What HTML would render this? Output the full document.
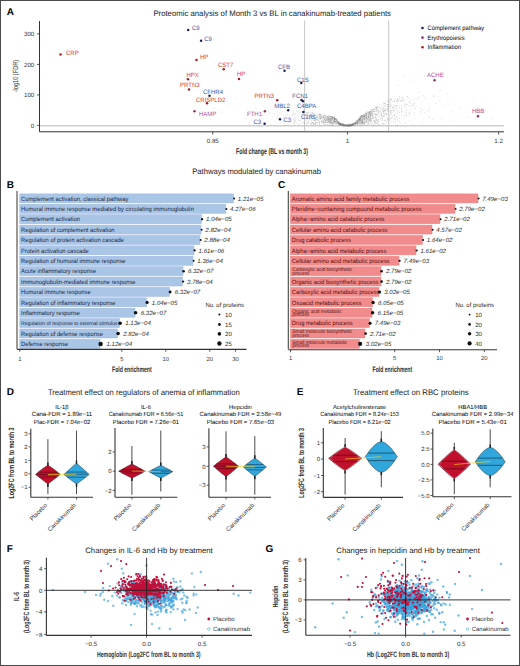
<!DOCTYPE html>
<html><head><meta charset="utf-8"><style>
html,body{margin:0;padding:0;background:#fff;}
svg{display:block;font-family:"Liberation Sans", sans-serif;text-rendering:geometricPrecision;}
</style></head><body>
<svg width="520" height="666" viewBox="0 0 520 666">
<rect x="0" y="0" width="520" height="666" fill="#fff"/>
<text x="6.80" y="15.00" font-size="10" font-weight="bold" fill="#000">A</text>
<text x="153.40" y="15.80" font-size="7.9" fill="#1a1a1a" textLength="237.60" lengthAdjust="spacingAndGlyphs">Proteomic analysis of Month 3 vs BL in canakinumab-treated patients</text>
<line x1="39.50" y1="21.00" x2="39.50" y2="131.80" stroke="#333" stroke-width="1"/>
<line x1="37.00" y1="125.40" x2="39.50" y2="125.40" stroke="#333" stroke-width="0.8"/>
<text x="34.30" y="127.63" font-size="6.2" text-anchor="end" fill="#333">0</text>
<line x1="37.00" y1="94.90" x2="39.50" y2="94.90" stroke="#333" stroke-width="0.8"/>
<text x="34.30" y="97.13" font-size="6.2" text-anchor="end" fill="#333">100</text>
<line x1="37.00" y1="64.40" x2="39.50" y2="64.40" stroke="#333" stroke-width="0.8"/>
<text x="34.30" y="66.63" font-size="6.2" text-anchor="end" fill="#333">200</text>
<line x1="37.00" y1="33.90" x2="39.50" y2="33.90" stroke="#333" stroke-width="0.8"/>
<text x="34.30" y="36.13" font-size="6.2" text-anchor="end" fill="#333">300</text>
<text x="18.00" y="76.10" font-size="7.4" text-anchor="middle" fill="#333" textLength="32.40" lengthAdjust="spacingAndGlyphs" transform="rotate(-90 18.00 76.10)">-log10 (FDR)</text>
<line x1="40.00" y1="125.80" x2="504.00" y2="125.80" stroke="#cfcfcf" stroke-width="1.5"/>
<line x1="304.60" y1="20.50" x2="304.60" y2="131.00" stroke="#c2c2c2" stroke-width="0.9"/>
<line x1="388.70" y1="20.50" x2="388.70" y2="131.00" stroke="#c2c2c2" stroke-width="0.9"/>
<g fill="#808080" fill-opacity="0.5"><circle cx="368.5" cy="114.9" r="0.42"/><circle cx="368.9" cy="117.7" r="0.42"/><circle cx="332.6" cy="124.1" r="0.42"/><circle cx="343.7" cy="125.1" r="0.42"/><circle cx="338.9" cy="123.7" r="0.42"/><circle cx="334.6" cy="116.8" r="0.42"/><circle cx="345.7" cy="125.5" r="0.42"/><circle cx="405.9" cy="105.4" r="0.42"/><circle cx="395.5" cy="98.9" r="0.42"/><circle cx="358.2" cy="120.5" r="0.42"/><circle cx="328.5" cy="115.8" r="0.42"/><circle cx="334.8" cy="120.6" r="0.42"/><circle cx="319.0" cy="114.8" r="0.42"/><circle cx="328.2" cy="118.9" r="0.42"/><circle cx="340.4" cy="124.2" r="0.42"/><circle cx="391.1" cy="110.1" r="0.42"/><circle cx="314.9" cy="120.2" r="0.42"/><circle cx="337.5" cy="122.1" r="0.42"/><circle cx="323.0" cy="124.2" r="0.42"/><circle cx="333.8" cy="119.0" r="0.42"/><circle cx="419.4" cy="115.7" r="0.42"/><circle cx="359.6" cy="122.2" r="0.42"/><circle cx="370.6" cy="119.2" r="0.42"/><circle cx="375.8" cy="120.4" r="0.42"/><circle cx="345.0" cy="125.6" r="0.42"/><circle cx="359.7" cy="119.5" r="0.42"/><circle cx="336.8" cy="123.0" r="0.42"/><circle cx="365.8" cy="115.1" r="0.42"/><circle cx="382.1" cy="115.5" r="0.42"/><circle cx="399.6" cy="121.9" r="0.42"/><circle cx="320.4" cy="114.5" r="0.42"/><circle cx="353.6" cy="123.4" r="0.42"/><circle cx="356.2" cy="122.2" r="0.42"/><circle cx="396.9" cy="108.0" r="0.42"/><circle cx="308.0" cy="123.1" r="0.42"/><circle cx="408.8" cy="113.5" r="0.42"/><circle cx="364.5" cy="119.2" r="0.42"/><circle cx="311.8" cy="122.7" r="0.42"/><circle cx="353.2" cy="124.1" r="0.42"/><circle cx="347.3" cy="125.6" r="0.42"/><circle cx="342.8" cy="125.0" r="0.42"/><circle cx="295.5" cy="120.3" r="0.42"/><circle cx="365.6" cy="114.0" r="0.42"/><circle cx="356.3" cy="123.5" r="0.42"/><circle cx="327.2" cy="118.7" r="0.42"/><circle cx="373.4" cy="117.9" r="0.42"/><circle cx="362.0" cy="123.7" r="0.42"/><circle cx="335.4" cy="121.1" r="0.42"/><circle cx="312.4" cy="112.8" r="0.42"/><circle cx="344.2" cy="125.3" r="0.42"/><circle cx="337.3" cy="121.0" r="0.42"/><circle cx="361.5" cy="118.0" r="0.42"/><circle cx="407.3" cy="104.3" r="0.42"/><circle cx="325.5" cy="116.5" r="0.42"/><circle cx="347.5" cy="125.7" r="0.42"/><circle cx="330.8" cy="120.8" r="0.42"/><circle cx="364.8" cy="116.7" r="0.42"/><circle cx="338.0" cy="122.6" r="0.42"/><circle cx="315.0" cy="117.9" r="0.42"/><circle cx="342.7" cy="124.5" r="0.42"/><circle cx="321.3" cy="122.1" r="0.42"/><circle cx="361.2" cy="120.6" r="0.42"/><circle cx="357.7" cy="120.7" r="0.42"/><circle cx="331.3" cy="122.2" r="0.42"/><circle cx="392.0" cy="112.2" r="0.42"/><circle cx="304.3" cy="122.3" r="0.42"/><circle cx="319.8" cy="116.6" r="0.42"/><circle cx="365.8" cy="122.6" r="0.42"/><circle cx="303.2" cy="116.9" r="0.42"/><circle cx="388.1" cy="110.3" r="0.42"/><circle cx="371.0" cy="114.8" r="0.42"/><circle cx="323.5" cy="122.4" r="0.42"/><circle cx="390.3" cy="113.0" r="0.42"/><circle cx="379.0" cy="121.5" r="0.42"/><circle cx="371.1" cy="120.3" r="0.42"/><circle cx="360.9" cy="118.1" r="0.42"/><circle cx="334.6" cy="125.5" r="0.42"/><circle cx="348.9" cy="125.9" r="0.42"/><circle cx="370.9" cy="119.2" r="0.42"/><circle cx="332.0" cy="124.8" r="0.42"/><circle cx="334.8" cy="121.8" r="0.42"/><circle cx="331.3" cy="124.4" r="0.42"/><circle cx="341.8" cy="125.0" r="0.42"/><circle cx="330.3" cy="121.9" r="0.42"/><circle cx="341.1" cy="124.7" r="0.42"/><circle cx="362.3" cy="120.7" r="0.42"/><circle cx="332.2" cy="117.9" r="0.42"/><circle cx="390.8" cy="102.2" r="0.42"/><circle cx="332.3" cy="119.2" r="0.42"/><circle cx="364.0" cy="116.8" r="0.42"/><circle cx="338.7" cy="121.6" r="0.42"/><circle cx="340.5" cy="123.4" r="0.42"/><circle cx="371.0" cy="115.5" r="0.42"/><circle cx="404.9" cy="107.6" r="0.42"/><circle cx="362.6" cy="121.2" r="0.42"/><circle cx="378.5" cy="111.6" r="0.42"/><circle cx="345.8" cy="125.3" r="0.42"/><circle cx="332.9" cy="117.1" r="0.42"/><circle cx="364.6" cy="119.2" r="0.42"/><circle cx="321.6" cy="120.7" r="0.42"/><circle cx="385.4" cy="124.9" r="0.42"/><circle cx="359.9" cy="117.7" r="0.42"/><circle cx="410.5" cy="99.8" r="0.42"/><circle cx="346.9" cy="125.6" r="0.42"/><circle cx="399.8" cy="118.7" r="0.42"/><circle cx="360.1" cy="120.7" r="0.42"/><circle cx="323.1" cy="115.4" r="0.42"/><circle cx="343.7" cy="125.0" r="0.42"/><circle cx="379.8" cy="110.9" r="0.42"/><circle cx="350.9" cy="124.4" r="0.42"/><circle cx="287.5" cy="114.8" r="0.42"/><circle cx="349.4" cy="126.2" r="0.42"/><circle cx="335.4" cy="119.0" r="0.42"/><circle cx="314.1" cy="120.7" r="0.42"/><circle cx="370.1" cy="116.8" r="0.42"/><circle cx="388.0" cy="104.3" r="0.42"/><circle cx="341.6" cy="124.7" r="0.42"/><circle cx="374.9" cy="111.3" r="0.42"/><circle cx="330.8" cy="119.2" r="0.42"/><circle cx="317.7" cy="119.2" r="0.42"/><circle cx="351.6" cy="126.2" r="0.42"/><circle cx="395.7" cy="119.1" r="0.42"/><circle cx="352.3" cy="124.7" r="0.42"/><circle cx="320.6" cy="118.3" r="0.42"/><circle cx="336.7" cy="120.1" r="0.42"/><circle cx="372.6" cy="110.7" r="0.42"/><circle cx="343.7" cy="125.3" r="0.42"/><circle cx="367.6" cy="119.7" r="0.42"/><circle cx="299.7" cy="125.1" r="0.42"/><circle cx="302.0" cy="123.3" r="0.42"/><circle cx="387.1" cy="125.8" r="0.42"/><circle cx="368.9" cy="114.0" r="0.42"/><circle cx="306.3" cy="118.9" r="0.42"/><circle cx="358.7" cy="119.4" r="0.42"/><circle cx="396.6" cy="105.8" r="0.42"/><circle cx="343.4" cy="124.8" r="0.42"/><circle cx="320.2" cy="118.4" r="0.42"/><circle cx="356.3" cy="120.5" r="0.42"/><circle cx="373.4" cy="124.3" r="0.42"/><circle cx="331.8" cy="122.8" r="0.42"/><circle cx="331.9" cy="119.2" r="0.42"/><circle cx="346.2" cy="126.1" r="0.42"/><circle cx="370.7" cy="118.4" r="0.42"/><circle cx="364.2" cy="120.0" r="0.42"/><circle cx="319.6" cy="116.3" r="0.42"/><circle cx="360.5" cy="118.0" r="0.42"/><circle cx="364.1" cy="114.4" r="0.42"/><circle cx="325.0" cy="115.3" r="0.42"/><circle cx="347.2" cy="125.3" r="0.42"/><circle cx="350.4" cy="124.3" r="0.42"/><circle cx="359.3" cy="119.5" r="0.42"/><circle cx="361.0" cy="116.4" r="0.42"/><circle cx="334.6" cy="120.2" r="0.42"/><circle cx="349.9" cy="125.8" r="0.42"/><circle cx="352.4" cy="124.0" r="0.42"/><circle cx="392.5" cy="105.1" r="0.42"/><circle cx="366.6" cy="120.0" r="0.42"/><circle cx="347.0" cy="125.6" r="0.42"/><circle cx="340.7" cy="123.7" r="0.42"/><circle cx="383.8" cy="115.4" r="0.42"/><circle cx="316.2" cy="123.0" r="0.42"/><circle cx="354.8" cy="124.7" r="0.42"/><circle cx="390.5" cy="110.6" r="0.42"/><circle cx="313.6" cy="123.4" r="0.42"/><circle cx="345.2" cy="125.1" r="0.42"/><circle cx="327.3" cy="119.3" r="0.42"/><circle cx="371.5" cy="111.0" r="0.42"/><circle cx="379.8" cy="107.7" r="0.42"/><circle cx="325.0" cy="122.0" r="0.42"/><circle cx="312.0" cy="122.0" r="0.42"/><circle cx="324.6" cy="125.2" r="0.42"/><circle cx="330.6" cy="118.4" r="0.42"/><circle cx="376.6" cy="109.4" r="0.42"/><circle cx="366.9" cy="114.7" r="0.42"/><circle cx="383.3" cy="113.4" r="0.42"/><circle cx="329.8" cy="122.4" r="0.42"/><circle cx="361.7" cy="121.0" r="0.42"/><circle cx="359.5" cy="120.5" r="0.42"/><circle cx="385.6" cy="109.4" r="0.42"/><circle cx="371.0" cy="111.9" r="0.42"/><circle cx="313.3" cy="114.3" r="0.42"/><circle cx="337.2" cy="119.6" r="0.42"/><circle cx="300.4" cy="120.9" r="0.42"/><circle cx="330.4" cy="119.3" r="0.42"/><circle cx="361.0" cy="119.0" r="0.42"/><circle cx="370.2" cy="114.6" r="0.42"/><circle cx="369.0" cy="112.0" r="0.42"/><circle cx="336.0" cy="120.7" r="0.42"/><circle cx="360.7" cy="122.3" r="0.42"/><circle cx="327.9" cy="120.1" r="0.42"/><circle cx="370.1" cy="117.0" r="0.42"/><circle cx="345.6" cy="125.8" r="0.42"/><circle cx="321.2" cy="122.6" r="0.42"/><circle cx="377.3" cy="116.0" r="0.42"/><circle cx="369.6" cy="120.2" r="0.42"/><circle cx="346.2" cy="125.8" r="0.42"/><circle cx="320.1" cy="116.9" r="0.42"/><circle cx="369.7" cy="113.0" r="0.42"/><circle cx="319.6" cy="122.3" r="0.42"/><circle cx="344.5" cy="125.5" r="0.42"/><circle cx="375.5" cy="117.4" r="0.42"/><circle cx="368.4" cy="117.3" r="0.42"/><circle cx="319.3" cy="121.9" r="0.42"/><circle cx="395.1" cy="114.6" r="0.42"/><circle cx="371.0" cy="115.0" r="0.42"/><circle cx="366.1" cy="114.7" r="0.42"/><circle cx="340.2" cy="124.4" r="0.42"/><circle cx="286.8" cy="119.2" r="0.42"/><circle cx="383.2" cy="111.5" r="0.42"/><circle cx="369.4" cy="114.9" r="0.42"/><circle cx="345.5" cy="125.2" r="0.42"/><circle cx="375.6" cy="109.6" r="0.42"/><circle cx="405.0" cy="106.1" r="0.42"/><circle cx="384.9" cy="110.8" r="0.42"/><circle cx="330.7" cy="119.0" r="0.42"/><circle cx="320.3" cy="117.9" r="0.42"/><circle cx="359.9" cy="123.1" r="0.42"/><circle cx="306.1" cy="114.8" r="0.42"/><circle cx="301.6" cy="111.1" r="0.42"/><circle cx="361.6" cy="115.6" r="0.42"/><circle cx="399.6" cy="112.2" r="0.42"/><circle cx="353.7" cy="124.1" r="0.42"/><circle cx="397.5" cy="120.3" r="0.42"/><circle cx="371.7" cy="112.7" r="0.42"/><circle cx="342.3" cy="125.6" r="0.42"/><circle cx="368.7" cy="121.5" r="0.42"/><circle cx="357.5" cy="121.6" r="0.42"/><circle cx="284.2" cy="123.5" r="0.42"/><circle cx="393.3" cy="107.5" r="0.42"/><circle cx="357.5" cy="120.8" r="0.42"/><circle cx="313.6" cy="113.5" r="0.42"/><circle cx="294.7" cy="121.5" r="0.42"/><circle cx="368.3" cy="117.7" r="0.42"/><circle cx="305.7" cy="115.3" r="0.42"/><circle cx="330.1" cy="120.6" r="0.42"/><circle cx="355.2" cy="122.6" r="0.42"/><circle cx="352.0" cy="125.5" r="0.42"/><circle cx="402.2" cy="99.7" r="0.42"/><circle cx="334.5" cy="121.9" r="0.42"/><circle cx="370.9" cy="119.0" r="0.42"/><circle cx="297.6" cy="120.8" r="0.42"/><circle cx="336.6" cy="119.7" r="0.42"/><circle cx="336.0" cy="119.6" r="0.42"/><circle cx="356.0" cy="123.3" r="0.42"/><circle cx="359.6" cy="118.1" r="0.42"/><circle cx="390.3" cy="98.5" r="0.42"/><circle cx="313.7" cy="123.9" r="0.42"/><circle cx="344.3" cy="124.2" r="0.42"/><circle cx="371.3" cy="116.3" r="0.42"/><circle cx="374.7" cy="109.4" r="0.42"/><circle cx="333.3" cy="123.4" r="0.42"/><circle cx="403.0" cy="101.5" r="0.42"/><circle cx="322.0" cy="115.3" r="0.42"/><circle cx="363.8" cy="119.2" r="0.42"/><circle cx="404.6" cy="106.5" r="0.42"/><circle cx="313.1" cy="116.1" r="0.42"/><circle cx="347.4" cy="126.2" r="0.42"/><circle cx="371.2" cy="114.4" r="0.42"/><circle cx="397.4" cy="100.0" r="0.42"/><circle cx="377.6" cy="122.1" r="0.42"/><circle cx="336.5" cy="120.2" r="0.42"/><circle cx="371.1" cy="113.8" r="0.42"/><circle cx="370.4" cy="117.1" r="0.42"/><circle cx="315.2" cy="123.7" r="0.42"/><circle cx="360.7" cy="117.4" r="0.42"/><circle cx="369.0" cy="117.7" r="0.42"/><circle cx="366.3" cy="115.3" r="0.42"/><circle cx="333.5" cy="122.3" r="0.42"/><circle cx="381.9" cy="112.9" r="0.42"/><circle cx="332.9" cy="123.7" r="0.42"/><circle cx="393.6" cy="117.6" r="0.42"/><circle cx="382.3" cy="122.6" r="0.42"/><circle cx="365.2" cy="114.2" r="0.42"/><circle cx="324.4" cy="119.2" r="0.42"/><circle cx="341.3" cy="123.9" r="0.42"/><circle cx="332.6" cy="118.5" r="0.42"/><circle cx="334.1" cy="117.8" r="0.42"/><circle cx="383.0" cy="124.4" r="0.42"/><circle cx="339.3" cy="124.5" r="0.42"/><circle cx="340.9" cy="124.1" r="0.42"/><circle cx="376.4" cy="119.1" r="0.42"/><circle cx="367.3" cy="118.6" r="0.42"/><circle cx="364.3" cy="115.5" r="0.42"/><circle cx="350.1" cy="124.9" r="0.42"/><circle cx="357.9" cy="122.2" r="0.42"/><circle cx="335.3" cy="119.3" r="0.42"/><circle cx="414.8" cy="103.4" r="0.42"/><circle cx="281.7" cy="119.9" r="0.42"/><circle cx="375.1" cy="117.6" r="0.42"/><circle cx="307.7" cy="123.7" r="0.42"/><circle cx="336.7" cy="119.6" r="0.42"/><circle cx="355.3" cy="125.1" r="0.42"/><circle cx="390.0" cy="108.4" r="0.42"/><circle cx="332.9" cy="120.6" r="0.42"/><circle cx="354.8" cy="122.7" r="0.42"/><circle cx="424.3" cy="112.6" r="0.42"/><circle cx="394.2" cy="105.9" r="0.42"/><circle cx="330.4" cy="120.6" r="0.42"/><circle cx="351.5" cy="124.3" r="0.42"/><circle cx="308.6" cy="116.8" r="0.42"/><circle cx="383.4" cy="116.0" r="0.42"/><circle cx="306.6" cy="121.6" r="0.42"/><circle cx="321.9" cy="121.1" r="0.42"/><circle cx="331.2" cy="119.4" r="0.42"/><circle cx="348.5" cy="125.7" r="0.42"/><circle cx="363.8" cy="120.3" r="0.42"/><circle cx="381.0" cy="108.9" r="0.42"/><circle cx="374.9" cy="111.6" r="0.42"/><circle cx="362.2" cy="119.2" r="0.42"/><circle cx="327.9" cy="117.4" r="0.42"/><circle cx="319.4" cy="114.2" r="0.42"/><circle cx="347.2" cy="125.3" r="0.42"/><circle cx="326.1" cy="119.1" r="0.42"/><circle cx="360.5" cy="121.0" r="0.42"/><circle cx="363.2" cy="122.3" r="0.42"/><circle cx="334.2" cy="118.6" r="0.42"/><circle cx="354.7" cy="122.9" r="0.42"/><circle cx="368.7" cy="112.6" r="0.42"/><circle cx="331.5" cy="116.6" r="0.42"/><circle cx="329.7" cy="121.6" r="0.42"/><circle cx="319.1" cy="118.8" r="0.42"/><circle cx="363.0" cy="122.8" r="0.42"/><circle cx="358.6" cy="119.1" r="0.42"/><circle cx="377.4" cy="109.9" r="0.42"/><circle cx="335.0" cy="119.4" r="0.42"/><circle cx="374.4" cy="120.8" r="0.42"/><circle cx="336.6" cy="120.1" r="0.42"/><circle cx="334.3" cy="118.1" r="0.42"/><circle cx="373.9" cy="109.4" r="0.42"/><circle cx="351.5" cy="125.8" r="0.42"/><circle cx="349.3" cy="125.3" r="0.42"/><circle cx="333.3" cy="120.9" r="0.42"/><circle cx="357.9" cy="124.8" r="0.42"/><circle cx="329.6" cy="118.4" r="0.42"/><circle cx="363.1" cy="115.7" r="0.42"/><circle cx="359.5" cy="120.4" r="0.42"/><circle cx="400.2" cy="101.2" r="0.42"/><circle cx="373.8" cy="109.2" r="0.42"/><circle cx="382.4" cy="118.5" r="0.42"/><circle cx="322.8" cy="121.3" r="0.42"/><circle cx="343.4" cy="124.1" r="0.42"/><circle cx="359.7" cy="118.9" r="0.42"/><circle cx="332.8" cy="118.1" r="0.42"/><circle cx="399.8" cy="108.6" r="0.42"/><circle cx="375.2" cy="114.5" r="0.42"/><circle cx="338.4" cy="122.4" r="0.42"/><circle cx="335.8" cy="124.4" r="0.42"/><circle cx="347.3" cy="125.1" r="0.42"/><circle cx="342.8" cy="125.2" r="0.42"/><circle cx="306.4" cy="124.7" r="0.42"/><circle cx="330.1" cy="119.2" r="0.42"/><circle cx="334.7" cy="119.9" r="0.42"/><circle cx="372.0" cy="112.3" r="0.42"/><circle cx="339.2" cy="123.1" r="0.42"/><circle cx="311.8" cy="112.2" r="0.42"/><circle cx="387.7" cy="119.8" r="0.42"/><circle cx="324.3" cy="115.1" r="0.42"/><circle cx="361.2" cy="116.1" r="0.42"/><circle cx="367.9" cy="113.4" r="0.42"/><circle cx="300.2" cy="119.5" r="0.42"/><circle cx="329.4" cy="119.9" r="0.42"/><circle cx="314.1" cy="120.5" r="0.42"/><circle cx="324.9" cy="122.6" r="0.42"/><circle cx="333.3" cy="120.3" r="0.42"/><circle cx="331.1" cy="121.5" r="0.42"/><circle cx="311.6" cy="119.2" r="0.42"/><circle cx="318.9" cy="115.2" r="0.42"/><circle cx="349.9" cy="125.0" r="0.42"/><circle cx="371.2" cy="113.6" r="0.42"/><circle cx="334.5" cy="118.5" r="0.42"/><circle cx="364.3" cy="115.8" r="0.42"/><circle cx="330.7" cy="118.3" r="0.42"/><circle cx="372.3" cy="113.5" r="0.42"/><circle cx="357.8" cy="119.4" r="0.42"/><circle cx="335.2" cy="121.4" r="0.42"/><circle cx="403.1" cy="98.3" r="0.42"/><circle cx="368.0" cy="121.8" r="0.42"/><circle cx="353.7" cy="124.4" r="0.42"/><circle cx="344.7" cy="125.1" r="0.42"/><circle cx="294.9" cy="118.0" r="0.42"/><circle cx="383.0" cy="107.8" r="0.42"/><circle cx="384.4" cy="120.1" r="0.42"/><circle cx="317.1" cy="117.3" r="0.42"/><circle cx="323.9" cy="117.2" r="0.42"/><circle cx="328.9" cy="121.9" r="0.42"/><circle cx="387.2" cy="108.4" r="0.42"/><circle cx="344.8" cy="125.7" r="0.42"/><circle cx="409.3" cy="116.0" r="0.42"/><circle cx="326.1" cy="118.0" r="0.42"/><circle cx="353.8" cy="125.2" r="0.42"/><circle cx="361.9" cy="116.5" r="0.42"/><circle cx="344.7" cy="125.2" r="0.42"/><circle cx="370.7" cy="116.8" r="0.42"/><circle cx="359.5" cy="119.9" r="0.42"/><circle cx="375.1" cy="114.4" r="0.42"/><circle cx="340.5" cy="124.2" r="0.42"/><circle cx="362.0" cy="120.0" r="0.42"/><circle cx="374.9" cy="121.7" r="0.42"/><circle cx="372.4" cy="118.2" r="0.42"/><circle cx="340.2" cy="124.3" r="0.42"/><circle cx="377.1" cy="119.8" r="0.42"/><circle cx="353.5" cy="124.8" r="0.42"/><circle cx="335.1" cy="118.6" r="0.42"/><circle cx="303.0" cy="118.1" r="0.42"/><circle cx="366.4" cy="117.6" r="0.42"/><circle cx="420.3" cy="111.6" r="0.42"/><circle cx="349.0" cy="125.0" r="0.42"/><circle cx="372.0" cy="119.0" r="0.42"/><circle cx="362.5" cy="123.0" r="0.42"/><circle cx="317.3" cy="117.5" r="0.42"/><circle cx="346.6" cy="125.8" r="0.42"/><circle cx="354.6" cy="123.0" r="0.42"/><circle cx="363.7" cy="116.8" r="0.42"/><circle cx="360.3" cy="117.5" r="0.42"/><circle cx="355.5" cy="124.0" r="0.42"/><circle cx="281.6" cy="113.3" r="0.42"/><circle cx="409.7" cy="120.7" r="0.42"/><circle cx="344.5" cy="125.0" r="0.42"/><circle cx="318.9" cy="114.8" r="0.42"/><circle cx="325.8" cy="117.2" r="0.42"/><circle cx="355.4" cy="123.3" r="0.42"/><circle cx="354.8" cy="124.0" r="0.42"/><circle cx="345.6" cy="125.9" r="0.42"/><circle cx="342.7" cy="125.1" r="0.42"/><circle cx="329.3" cy="119.2" r="0.42"/><circle cx="326.4" cy="118.0" r="0.42"/><circle cx="368.4" cy="121.3" r="0.42"/><circle cx="360.3" cy="116.1" r="0.42"/><circle cx="341.8" cy="124.2" r="0.42"/><circle cx="334.4" cy="122.0" r="0.42"/><circle cx="323.3" cy="117.7" r="0.42"/><circle cx="349.8" cy="124.9" r="0.42"/><circle cx="370.6" cy="111.0" r="0.42"/><circle cx="349.4" cy="125.5" r="0.42"/><circle cx="353.8" cy="125.3" r="0.42"/><circle cx="351.3" cy="125.3" r="0.42"/><circle cx="334.0" cy="122.2" r="0.42"/><circle cx="413.9" cy="104.7" r="0.42"/><circle cx="371.1" cy="113.9" r="0.42"/><circle cx="319.7" cy="116.3" r="0.42"/><circle cx="328.8" cy="118.4" r="0.42"/><circle cx="388.2" cy="110.9" r="0.42"/><circle cx="356.3" cy="123.3" r="0.42"/><circle cx="318.2" cy="122.1" r="0.42"/><circle cx="336.9" cy="123.6" r="0.42"/><circle cx="348.5" cy="125.2" r="0.42"/><circle cx="384.0" cy="111.6" r="0.42"/><circle cx="335.0" cy="118.9" r="0.42"/><circle cx="352.1" cy="125.6" r="0.42"/><circle cx="338.1" cy="121.9" r="0.42"/><circle cx="331.7" cy="120.3" r="0.42"/><circle cx="370.9" cy="111.5" r="0.42"/><circle cx="331.1" cy="117.5" r="0.42"/><circle cx="375.3" cy="113.6" r="0.42"/><circle cx="360.8" cy="122.0" r="0.42"/><circle cx="370.2" cy="115.8" r="0.42"/><circle cx="339.2" cy="124.3" r="0.42"/><circle cx="345.9" cy="125.6" r="0.42"/><circle cx="348.2" cy="124.9" r="0.42"/><circle cx="384.2" cy="103.8" r="0.42"/><circle cx="348.3" cy="126.1" r="0.42"/><circle cx="380.6" cy="115.1" r="0.42"/><circle cx="327.5" cy="120.2" r="0.42"/><circle cx="340.0" cy="123.2" r="0.42"/><circle cx="346.6" cy="125.1" r="0.42"/><circle cx="394.1" cy="118.7" r="0.42"/><circle cx="350.0" cy="124.0" r="0.42"/><circle cx="334.1" cy="123.1" r="0.42"/><circle cx="361.6" cy="117.1" r="0.42"/><circle cx="366.0" cy="113.4" r="0.42"/><circle cx="315.4" cy="122.6" r="0.42"/><circle cx="341.0" cy="124.7" r="0.42"/><circle cx="342.2" cy="123.6" r="0.42"/><circle cx="347.7" cy="125.3" r="0.42"/><circle cx="378.7" cy="124.8" r="0.42"/><circle cx="331.8" cy="116.5" r="0.42"/><circle cx="361.6" cy="115.9" r="0.42"/><circle cx="371.5" cy="111.8" r="0.42"/><circle cx="406.1" cy="114.5" r="0.42"/><circle cx="362.2" cy="116.5" r="0.42"/><circle cx="343.1" cy="125.2" r="0.42"/><circle cx="366.1" cy="122.0" r="0.42"/><circle cx="361.8" cy="122.6" r="0.42"/><circle cx="361.2" cy="116.3" r="0.42"/><circle cx="423.1" cy="95.5" r="0.42"/><circle cx="403.4" cy="113.0" r="0.42"/><circle cx="329.9" cy="119.9" r="0.42"/><circle cx="314.8" cy="124.0" r="0.42"/><circle cx="347.7" cy="125.4" r="0.42"/><circle cx="347.2" cy="125.1" r="0.42"/><circle cx="326.7" cy="117.2" r="0.42"/><circle cx="328.7" cy="116.0" r="0.42"/><circle cx="414.8" cy="105.3" r="0.42"/><circle cx="422.6" cy="109.7" r="0.42"/><circle cx="343.2" cy="126.0" r="0.42"/><circle cx="328.9" cy="118.5" r="0.42"/><circle cx="393.5" cy="121.0" r="0.42"/><circle cx="362.4" cy="117.2" r="0.42"/><circle cx="325.3" cy="120.6" r="0.42"/><circle cx="274.8" cy="121.8" r="0.42"/><circle cx="291.6" cy="122.8" r="0.42"/><circle cx="358.1" cy="120.8" r="0.42"/><circle cx="332.1" cy="124.3" r="0.42"/><circle cx="335.5" cy="121.2" r="0.42"/><circle cx="348.2" cy="125.4" r="0.42"/><circle cx="325.6" cy="117.0" r="0.42"/><circle cx="373.8" cy="118.5" r="0.42"/><circle cx="369.1" cy="111.4" r="0.42"/><circle cx="341.5" cy="124.2" r="0.42"/><circle cx="285.7" cy="112.4" r="0.42"/><circle cx="444.2" cy="106.2" r="0.42"/><circle cx="400.9" cy="100.1" r="0.42"/><circle cx="327.3" cy="119.8" r="0.42"/><circle cx="321.2" cy="121.2" r="0.42"/><circle cx="369.1" cy="113.0" r="0.42"/><circle cx="369.6" cy="118.6" r="0.42"/><circle cx="318.1" cy="120.5" r="0.42"/><circle cx="329.8" cy="120.0" r="0.42"/><circle cx="386.0" cy="113.8" r="0.42"/><circle cx="362.3" cy="117.6" r="0.42"/><circle cx="376.0" cy="108.5" r="0.42"/><circle cx="311.5" cy="115.8" r="0.42"/><circle cx="399.2" cy="96.9" r="0.42"/><circle cx="355.1" cy="123.4" r="0.42"/><circle cx="366.6" cy="111.8" r="0.42"/><circle cx="356.1" cy="124.3" r="0.42"/><circle cx="334.8" cy="117.6" r="0.42"/><circle cx="379.1" cy="104.2" r="0.42"/><circle cx="343.4" cy="125.3" r="0.42"/><circle cx="414.8" cy="99.4" r="0.42"/><circle cx="373.0" cy="112.1" r="0.42"/><circle cx="327.6" cy="117.0" r="0.42"/><circle cx="330.7" cy="122.1" r="0.42"/><circle cx="364.6" cy="123.8" r="0.42"/><circle cx="359.9" cy="118.5" r="0.42"/><circle cx="314.0" cy="116.5" r="0.42"/><circle cx="324.4" cy="119.6" r="0.42"/><circle cx="340.2" cy="123.1" r="0.42"/><circle cx="316.4" cy="123.0" r="0.42"/><circle cx="346.3" cy="125.9" r="0.42"/><circle cx="370.2" cy="111.6" r="0.42"/><circle cx="406.1" cy="122.7" r="0.42"/><circle cx="390.4" cy="105.2" r="0.42"/><circle cx="366.7" cy="117.3" r="0.42"/><circle cx="300.6" cy="112.4" r="0.42"/><circle cx="308.7" cy="121.0" r="0.42"/><circle cx="332.2" cy="122.6" r="0.42"/><circle cx="293.9" cy="124.2" r="0.42"/><circle cx="342.1" cy="124.5" r="0.42"/><circle cx="364.6" cy="118.2" r="0.42"/><circle cx="315.6" cy="123.9" r="0.42"/><circle cx="355.9" cy="122.4" r="0.42"/><circle cx="382.6" cy="108.1" r="0.42"/><circle cx="371.1" cy="109.7" r="0.42"/><circle cx="306.6" cy="112.7" r="0.42"/><circle cx="365.6" cy="117.3" r="0.42"/><circle cx="349.1" cy="125.7" r="0.42"/><circle cx="343.8" cy="125.3" r="0.42"/><circle cx="331.5" cy="121.9" r="0.42"/><circle cx="360.0" cy="118.2" r="0.42"/><circle cx="361.7" cy="119.2" r="0.42"/><circle cx="315.9" cy="116.2" r="0.42"/><circle cx="349.3" cy="125.2" r="0.42"/><circle cx="362.6" cy="122.8" r="0.42"/><circle cx="353.3" cy="124.8" r="0.42"/><circle cx="362.4" cy="118.8" r="0.42"/><circle cx="308.6" cy="122.4" r="0.42"/><circle cx="363.1" cy="115.1" r="0.42"/><circle cx="365.5" cy="114.9" r="0.42"/><circle cx="313.3" cy="120.3" r="0.42"/><circle cx="362.8" cy="120.4" r="0.42"/><circle cx="383.9" cy="120.9" r="0.42"/><circle cx="356.1" cy="122.8" r="0.42"/><circle cx="376.2" cy="113.3" r="0.42"/><circle cx="355.8" cy="122.3" r="0.42"/><circle cx="360.4" cy="123.7" r="0.42"/><circle cx="334.7" cy="119.5" r="0.42"/><circle cx="334.0" cy="121.5" r="0.42"/><circle cx="320.9" cy="119.2" r="0.42"/><circle cx="361.8" cy="117.2" r="0.42"/><circle cx="340.5" cy="125.8" r="0.42"/><circle cx="332.0" cy="117.6" r="0.42"/><circle cx="355.0" cy="123.8" r="0.42"/><circle cx="353.0" cy="124.6" r="0.42"/><circle cx="309.8" cy="116.4" r="0.42"/><circle cx="349.1" cy="125.4" r="0.42"/><circle cx="422.9" cy="118.4" r="0.42"/><circle cx="381.0" cy="109.6" r="0.42"/><circle cx="389.7" cy="111.6" r="0.42"/><circle cx="332.3" cy="119.4" r="0.42"/><circle cx="381.5" cy="113.6" r="0.42"/><circle cx="358.2" cy="119.8" r="0.42"/><circle cx="313.9" cy="119.3" r="0.42"/><circle cx="398.2" cy="106.0" r="0.42"/><circle cx="361.6" cy="122.4" r="0.42"/><circle cx="349.8" cy="125.6" r="0.42"/><circle cx="321.7" cy="117.5" r="0.42"/><circle cx="393.1" cy="110.7" r="0.42"/><circle cx="320.9" cy="119.3" r="0.42"/><circle cx="417.7" cy="99.6" r="0.42"/><circle cx="344.4" cy="124.8" r="0.42"/><circle cx="355.2" cy="124.0" r="0.42"/><circle cx="362.1" cy="122.1" r="0.42"/><circle cx="325.2" cy="119.6" r="0.42"/><circle cx="370.7" cy="121.2" r="0.42"/><circle cx="294.9" cy="120.5" r="0.42"/><circle cx="322.3" cy="120.8" r="0.42"/><circle cx="347.0" cy="125.3" r="0.42"/><circle cx="321.0" cy="125.4" r="0.42"/><circle cx="388.0" cy="114.0" r="0.42"/><circle cx="313.4" cy="118.2" r="0.42"/><circle cx="366.8" cy="112.7" r="0.42"/><circle cx="336.4" cy="118.5" r="0.42"/><circle cx="350.7" cy="125.7" r="0.42"/><circle cx="330.3" cy="117.4" r="0.42"/><circle cx="322.1" cy="117.5" r="0.42"/><circle cx="310.5" cy="115.9" r="0.42"/><circle cx="389.6" cy="116.0" r="0.42"/><circle cx="311.8" cy="124.3" r="0.42"/><circle cx="393.7" cy="110.3" r="0.42"/><circle cx="368.9" cy="113.1" r="0.42"/><circle cx="395.0" cy="115.9" r="0.42"/><circle cx="351.2" cy="124.8" r="0.42"/><circle cx="337.3" cy="121.2" r="0.42"/><circle cx="358.1" cy="122.2" r="0.42"/><circle cx="409.8" cy="101.7" r="0.42"/><circle cx="390.8" cy="111.9" r="0.42"/><circle cx="401.3" cy="106.7" r="0.42"/><circle cx="348.4" cy="125.0" r="0.42"/><circle cx="373.5" cy="111.3" r="0.42"/><circle cx="375.7" cy="116.2" r="0.42"/><circle cx="315.8" cy="119.3" r="0.42"/><circle cx="345.1" cy="125.6" r="0.42"/><circle cx="320.1" cy="115.5" r="0.42"/><circle cx="348.3" cy="126.0" r="0.42"/><circle cx="331.8" cy="126.1" r="0.42"/><circle cx="344.3" cy="125.4" r="0.42"/><circle cx="371.0" cy="113.7" r="0.42"/><circle cx="377.8" cy="107.5" r="0.42"/><circle cx="397.6" cy="114.0" r="0.42"/><circle cx="295.8" cy="114.0" r="0.42"/><circle cx="305.9" cy="117.3" r="0.42"/><circle cx="384.4" cy="105.8" r="0.42"/><circle cx="315.4" cy="115.2" r="0.42"/><circle cx="388.6" cy="121.7" r="0.42"/><circle cx="388.9" cy="106.2" r="0.42"/><circle cx="332.0" cy="125.3" r="0.42"/><circle cx="315.9" cy="117.7" r="0.42"/><circle cx="344.1" cy="126.2" r="0.42"/><circle cx="326.3" cy="119.6" r="0.42"/><circle cx="336.7" cy="120.3" r="0.42"/><circle cx="347.8" cy="125.1" r="0.42"/><circle cx="353.4" cy="124.1" r="0.42"/><circle cx="343.6" cy="125.7" r="0.42"/><circle cx="391.4" cy="117.6" r="0.42"/><circle cx="338.7" cy="122.9" r="0.42"/><circle cx="356.8" cy="121.5" r="0.42"/><circle cx="374.5" cy="121.9" r="0.42"/><circle cx="364.6" cy="122.3" r="0.42"/><circle cx="401.5" cy="108.5" r="0.42"/><circle cx="350.3" cy="124.8" r="0.42"/><circle cx="331.1" cy="120.5" r="0.42"/><circle cx="344.3" cy="126.0" r="0.42"/><circle cx="333.9" cy="118.3" r="0.42"/><circle cx="342.7" cy="124.3" r="0.42"/><circle cx="347.2" cy="125.5" r="0.42"/><circle cx="359.6" cy="119.5" r="0.42"/><circle cx="338.8" cy="122.7" r="0.42"/><circle cx="427.9" cy="103.9" r="0.42"/><circle cx="376.3" cy="106.9" r="0.42"/><circle cx="340.7" cy="123.5" r="0.42"/><circle cx="306.9" cy="113.0" r="0.42"/><circle cx="331.7" cy="120.9" r="0.42"/><circle cx="368.3" cy="120.3" r="0.42"/><circle cx="323.2" cy="115.5" r="0.42"/><circle cx="328.7" cy="120.0" r="0.42"/><circle cx="372.3" cy="115.2" r="0.42"/><circle cx="358.6" cy="121.6" r="0.42"/><circle cx="357.4" cy="121.7" r="0.42"/><circle cx="372.6" cy="109.6" r="0.42"/><circle cx="385.5" cy="108.9" r="0.42"/><circle cx="375.8" cy="107.5" r="0.42"/><circle cx="352.9" cy="124.4" r="0.42"/><circle cx="347.6" cy="125.6" r="0.42"/><circle cx="394.5" cy="100.2" r="0.42"/><circle cx="358.2" cy="120.0" r="0.42"/><circle cx="314.9" cy="123.2" r="0.42"/><circle cx="339.7" cy="123.0" r="0.42"/><circle cx="327.3" cy="122.8" r="0.42"/><circle cx="355.2" cy="123.1" r="0.42"/><circle cx="359.7" cy="119.1" r="0.42"/><circle cx="353.8" cy="122.3" r="0.42"/><circle cx="386.6" cy="114.8" r="0.42"/><circle cx="375.6" cy="122.3" r="0.42"/><circle cx="341.7" cy="123.9" r="0.42"/><circle cx="322.5" cy="118.7" r="0.42"/><circle cx="313.2" cy="123.5" r="0.42"/><circle cx="359.7" cy="120.5" r="0.42"/><circle cx="302.9" cy="121.9" r="0.42"/><circle cx="329.1" cy="121.2" r="0.42"/><circle cx="383.4" cy="111.4" r="0.42"/><circle cx="359.3" cy="124.6" r="0.42"/><circle cx="399.5" cy="107.3" r="0.42"/><circle cx="336.1" cy="119.7" r="0.42"/><circle cx="292.0" cy="115.2" r="0.42"/><circle cx="329.8" cy="118.7" r="0.42"/><circle cx="315.1" cy="120.1" r="0.42"/><circle cx="319.4" cy="124.0" r="0.42"/><circle cx="391.2" cy="115.8" r="0.42"/><circle cx="354.1" cy="123.8" r="0.42"/><circle cx="356.2" cy="121.2" r="0.42"/><circle cx="342.1" cy="124.7" r="0.42"/><circle cx="372.3" cy="117.5" r="0.42"/><circle cx="343.4" cy="124.0" r="0.42"/><circle cx="356.8" cy="121.0" r="0.42"/><circle cx="376.4" cy="114.7" r="0.42"/><circle cx="294.6" cy="117.0" r="0.42"/><circle cx="337.2" cy="123.3" r="0.42"/><circle cx="369.4" cy="119.6" r="0.42"/><circle cx="336.9" cy="121.3" r="0.42"/><circle cx="328.5" cy="119.2" r="0.42"/><circle cx="350.0" cy="125.9" r="0.42"/><circle cx="315.7" cy="115.0" r="0.42"/><circle cx="364.3" cy="115.9" r="0.42"/><circle cx="338.8" cy="124.2" r="0.42"/><circle cx="315.7" cy="124.4" r="0.42"/><circle cx="348.6" cy="126.0" r="0.42"/><circle cx="397.5" cy="119.2" r="0.42"/><circle cx="354.7" cy="122.8" r="0.42"/><circle cx="332.2" cy="122.2" r="0.42"/><circle cx="324.0" cy="119.8" r="0.42"/><circle cx="299.6" cy="120.5" r="0.42"/><circle cx="352.9" cy="123.7" r="0.42"/><circle cx="383.9" cy="123.3" r="0.42"/><circle cx="389.5" cy="100.5" r="0.42"/><circle cx="356.0" cy="122.6" r="0.42"/><circle cx="333.4" cy="121.2" r="0.42"/><circle cx="315.3" cy="122.0" r="0.42"/><circle cx="429.7" cy="110.1" r="0.42"/><circle cx="380.9" cy="112.2" r="0.42"/><circle cx="375.1" cy="123.8" r="0.42"/><circle cx="388.0" cy="109.5" r="0.42"/><circle cx="328.1" cy="124.8" r="0.42"/><circle cx="310.5" cy="115.0" r="0.42"/><circle cx="328.6" cy="118.3" r="0.42"/><circle cx="292.1" cy="117.0" r="0.42"/><circle cx="338.2" cy="124.8" r="0.42"/><circle cx="351.9" cy="125.0" r="0.42"/><circle cx="311.3" cy="115.6" r="0.42"/><circle cx="362.0" cy="122.0" r="0.42"/><circle cx="306.0" cy="117.7" r="0.42"/><circle cx="314.3" cy="115.7" r="0.42"/><circle cx="376.5" cy="120.5" r="0.42"/><circle cx="347.3" cy="125.2" r="0.42"/><circle cx="367.6" cy="123.2" r="0.42"/><circle cx="427.7" cy="111.6" r="0.42"/><circle cx="346.2" cy="126.1" r="0.42"/><circle cx="350.5" cy="125.6" r="0.42"/><circle cx="334.8" cy="119.6" r="0.42"/><circle cx="339.4" cy="124.4" r="0.42"/><circle cx="337.6" cy="121.5" r="0.42"/><circle cx="314.1" cy="114.0" r="0.42"/><circle cx="344.0" cy="125.1" r="0.42"/><circle cx="358.2" cy="121.9" r="0.42"/><circle cx="409.5" cy="101.4" r="0.42"/><circle cx="359.2" cy="119.5" r="0.42"/><circle cx="340.9" cy="123.7" r="0.42"/><circle cx="325.4" cy="122.2" r="0.42"/><circle cx="386.4" cy="121.5" r="0.42"/><circle cx="369.3" cy="119.7" r="0.42"/><circle cx="366.3" cy="113.4" r="0.42"/><circle cx="294.5" cy="123.4" r="0.42"/><circle cx="378.0" cy="121.8" r="0.42"/><circle cx="368.7" cy="114.9" r="0.42"/><circle cx="370.4" cy="113.5" r="0.42"/><circle cx="405.9" cy="115.1" r="0.42"/><circle cx="341.9" cy="124.5" r="0.42"/><circle cx="357.7" cy="124.1" r="0.42"/><circle cx="325.5" cy="122.9" r="0.42"/><circle cx="307.5" cy="115.9" r="0.42"/><circle cx="362.4" cy="119.3" r="0.42"/><circle cx="335.5" cy="121.5" r="0.42"/><circle cx="329.4" cy="122.3" r="0.42"/><circle cx="326.6" cy="119.2" r="0.42"/><circle cx="340.5" cy="124.0" r="0.42"/><circle cx="378.2" cy="119.4" r="0.42"/><circle cx="408.6" cy="105.8" r="0.42"/><circle cx="394.6" cy="110.1" r="0.42"/><circle cx="332.0" cy="116.6" r="0.42"/><circle cx="317.5" cy="115.8" r="0.42"/><circle cx="359.8" cy="119.6" r="0.42"/><circle cx="353.5" cy="123.6" r="0.42"/><circle cx="378.6" cy="119.7" r="0.42"/><circle cx="398.2" cy="110.3" r="0.42"/><circle cx="307.8" cy="116.6" r="0.42"/><circle cx="333.0" cy="118.6" r="0.42"/><circle cx="432.6" cy="119.4" r="0.42"/><circle cx="371.0" cy="117.9" r="0.42"/><circle cx="274.5" cy="113.9" r="0.42"/><circle cx="373.9" cy="113.8" r="0.42"/><circle cx="335.0" cy="123.5" r="0.42"/><circle cx="385.5" cy="110.3" r="0.42"/><circle cx="366.4" cy="118.0" r="0.42"/><circle cx="343.7" cy="125.7" r="0.42"/><circle cx="378.2" cy="112.9" r="0.42"/><circle cx="293.6" cy="112.8" r="0.42"/><circle cx="362.9" cy="121.5" r="0.42"/><circle cx="383.3" cy="102.3" r="0.42"/><circle cx="338.1" cy="121.6" r="0.42"/><circle cx="384.6" cy="103.8" r="0.42"/><circle cx="452.1" cy="121.6" r="0.42"/><circle cx="378.0" cy="110.6" r="0.42"/><circle cx="372.5" cy="123.2" r="0.42"/><circle cx="324.2" cy="117.7" r="0.42"/><circle cx="351.5" cy="125.4" r="0.42"/><circle cx="368.3" cy="112.0" r="0.42"/><circle cx="348.5" cy="125.1" r="0.42"/><circle cx="310.0" cy="119.6" r="0.42"/><circle cx="361.8" cy="125.2" r="0.42"/><circle cx="333.8" cy="120.4" r="0.42"/><circle cx="333.4" cy="123.1" r="0.42"/><circle cx="376.1" cy="107.6" r="0.42"/><circle cx="406.5" cy="116.0" r="0.42"/><circle cx="394.3" cy="110.4" r="0.42"/><circle cx="357.3" cy="122.7" r="0.42"/><circle cx="388.0" cy="119.0" r="0.42"/><circle cx="312.9" cy="113.8" r="0.42"/><circle cx="407.7" cy="97.0" r="0.42"/><circle cx="354.4" cy="123.1" r="0.42"/><circle cx="354.4" cy="124.0" r="0.42"/><circle cx="334.9" cy="118.2" r="0.42"/><circle cx="352.2" cy="124.4" r="0.42"/><circle cx="370.9" cy="118.4" r="0.42"/><circle cx="385.0" cy="110.5" r="0.42"/><circle cx="334.0" cy="118.0" r="0.42"/><circle cx="344.0" cy="124.9" r="0.42"/><circle cx="371.3" cy="121.5" r="0.42"/><circle cx="358.3" cy="123.8" r="0.42"/><circle cx="352.7" cy="125.0" r="0.42"/><circle cx="335.5" cy="122.0" r="0.42"/><circle cx="368.7" cy="116.7" r="0.42"/><circle cx="373.4" cy="121.3" r="0.42"/><circle cx="370.9" cy="115.5" r="0.42"/><circle cx="371.6" cy="110.3" r="0.42"/><circle cx="351.2" cy="124.8" r="0.42"/><circle cx="323.7" cy="118.1" r="0.42"/><circle cx="402.3" cy="97.7" r="0.42"/><circle cx="369.1" cy="120.1" r="0.42"/><circle cx="312.9" cy="122.4" r="0.42"/><circle cx="332.4" cy="117.4" r="0.42"/><circle cx="358.6" cy="122.9" r="0.42"/><circle cx="332.4" cy="121.2" r="0.42"/><circle cx="347.9" cy="125.2" r="0.42"/><circle cx="330.8" cy="116.7" r="0.42"/><circle cx="334.9" cy="119.0" r="0.42"/><circle cx="339.0" cy="124.5" r="0.42"/><circle cx="389.7" cy="102.2" r="0.42"/><circle cx="375.3" cy="121.9" r="0.42"/><circle cx="412.0" cy="104.1" r="0.42"/><circle cx="341.4" cy="125.1" r="0.42"/><circle cx="352.4" cy="124.5" r="0.42"/><circle cx="366.2" cy="116.4" r="0.42"/><circle cx="335.8" cy="121.2" r="0.42"/><circle cx="314.3" cy="118.6" r="0.42"/><circle cx="295.0" cy="118.2" r="0.42"/><circle cx="367.5" cy="111.8" r="0.42"/><circle cx="297.6" cy="112.8" r="0.42"/><circle cx="400.5" cy="100.8" r="0.42"/><circle cx="348.0" cy="125.8" r="0.42"/><circle cx="387.4" cy="106.0" r="0.42"/><circle cx="339.8" cy="124.7" r="0.42"/><circle cx="369.6" cy="120.7" r="0.42"/><circle cx="359.1" cy="121.1" r="0.42"/><circle cx="390.4" cy="99.6" r="0.42"/><circle cx="351.0" cy="125.0" r="0.42"/><circle cx="368.0" cy="113.2" r="0.42"/><circle cx="308.3" cy="114.8" r="0.42"/><circle cx="299.0" cy="124.0" r="0.42"/><circle cx="352.0" cy="125.3" r="0.42"/><circle cx="396.2" cy="116.5" r="0.42"/><circle cx="348.9" cy="125.2" r="0.42"/><circle cx="332.7" cy="119.6" r="0.42"/><circle cx="395.2" cy="119.9" r="0.42"/><circle cx="306.1" cy="120.6" r="0.42"/><circle cx="369.4" cy="112.0" r="0.42"/><circle cx="341.4" cy="124.0" r="0.42"/><circle cx="323.8" cy="116.7" r="0.42"/><circle cx="333.9" cy="119.1" r="0.42"/><circle cx="373.3" cy="109.5" r="0.42"/><circle cx="363.5" cy="119.6" r="0.42"/><circle cx="351.4" cy="125.1" r="0.42"/><circle cx="327.5" cy="122.7" r="0.42"/><circle cx="385.6" cy="110.9" r="0.42"/><circle cx="353.7" cy="124.5" r="0.42"/><circle cx="349.7" cy="124.6" r="0.42"/><circle cx="329.1" cy="125.1" r="0.42"/><circle cx="415.1" cy="108.6" r="0.42"/><circle cx="357.4" cy="123.7" r="0.42"/><circle cx="345.2" cy="125.1" r="0.42"/><circle cx="392.0" cy="107.6" r="0.42"/><circle cx="328.1" cy="117.8" r="0.42"/><circle cx="361.1" cy="120.1" r="0.42"/><circle cx="341.4" cy="124.0" r="0.42"/><circle cx="364.5" cy="124.4" r="0.42"/><circle cx="359.2" cy="124.8" r="0.42"/><circle cx="404.8" cy="100.3" r="0.42"/><circle cx="350.3" cy="125.2" r="0.42"/><circle cx="387.3" cy="108.6" r="0.42"/><circle cx="347.5" cy="124.7" r="0.42"/><circle cx="338.9" cy="123.7" r="0.42"/><circle cx="385.3" cy="120.5" r="0.42"/><circle cx="272.8" cy="116.8" r="0.42"/><circle cx="344.1" cy="125.4" r="0.42"/><circle cx="359.9" cy="117.3" r="0.42"/><circle cx="365.9" cy="112.1" r="0.42"/><circle cx="361.2" cy="121.5" r="0.42"/><circle cx="355.7" cy="121.9" r="0.42"/><circle cx="383.9" cy="106.4" r="0.42"/><circle cx="353.3" cy="124.3" r="0.42"/><circle cx="393.3" cy="108.2" r="0.42"/><circle cx="369.0" cy="114.3" r="0.42"/><circle cx="366.4" cy="117.5" r="0.42"/><circle cx="312.3" cy="122.1" r="0.42"/><circle cx="342.4" cy="124.7" r="0.42"/><circle cx="362.7" cy="120.7" r="0.42"/><circle cx="330.2" cy="123.7" r="0.42"/><circle cx="325.6" cy="121.2" r="0.42"/><circle cx="323.4" cy="117.0" r="0.42"/><circle cx="385.3" cy="103.1" r="0.42"/><circle cx="361.6" cy="121.0" r="0.42"/><circle cx="366.6" cy="115.4" r="0.42"/><circle cx="328.4" cy="122.1" r="0.42"/><circle cx="326.7" cy="122.7" r="0.42"/><circle cx="361.8" cy="121.0" r="0.42"/><circle cx="340.1" cy="124.4" r="0.42"/><circle cx="388.9" cy="105.2" r="0.42"/><circle cx="363.9" cy="116.8" r="0.42"/><circle cx="373.5" cy="116.8" r="0.42"/><circle cx="339.6" cy="124.3" r="0.42"/><circle cx="390.9" cy="114.0" r="0.42"/><circle cx="362.9" cy="124.0" r="0.42"/><circle cx="357.3" cy="124.0" r="0.42"/><circle cx="390.4" cy="103.6" r="0.42"/><circle cx="341.6" cy="124.9" r="0.42"/><circle cx="313.0" cy="115.5" r="0.42"/><circle cx="342.8" cy="124.6" r="0.42"/><circle cx="321.1" cy="116.1" r="0.42"/><circle cx="364.1" cy="116.3" r="0.42"/><circle cx="381.3" cy="117.0" r="0.42"/><circle cx="377.8" cy="106.4" r="0.42"/><circle cx="358.6" cy="122.3" r="0.42"/><circle cx="396.5" cy="101.4" r="0.42"/><circle cx="377.3" cy="122.4" r="0.42"/><circle cx="414.3" cy="114.4" r="0.42"/><circle cx="387.9" cy="106.7" r="0.42"/><circle cx="326.7" cy="120.1" r="0.42"/><circle cx="363.9" cy="116.6" r="0.42"/><circle cx="352.4" cy="124.1" r="0.42"/><circle cx="326.5" cy="120.4" r="0.42"/><circle cx="365.8" cy="117.7" r="0.42"/><circle cx="419.4" cy="96.3" r="0.42"/><circle cx="349.4" cy="125.5" r="0.42"/><circle cx="313.0" cy="118.9" r="0.42"/><circle cx="411.7" cy="109.5" r="0.42"/><circle cx="367.0" cy="113.7" r="0.42"/><circle cx="420.9" cy="108.5" r="0.42"/><circle cx="334.5" cy="120.7" r="0.42"/><circle cx="386.8" cy="117.0" r="0.42"/><circle cx="373.6" cy="121.8" r="0.42"/><circle cx="384.2" cy="108.7" r="0.42"/><circle cx="370.3" cy="115.3" r="0.42"/><circle cx="361.4" cy="125.4" r="0.42"/><circle cx="365.0" cy="117.5" r="0.42"/><circle cx="346.8" cy="125.1" r="0.42"/><circle cx="360.4" cy="119.6" r="0.42"/><circle cx="334.8" cy="121.8" r="0.42"/><circle cx="403.4" cy="117.0" r="0.42"/><circle cx="324.0" cy="116.0" r="0.42"/><circle cx="320.6" cy="118.5" r="0.42"/><circle cx="333.5" cy="117.5" r="0.42"/><circle cx="391.0" cy="110.5" r="0.42"/><circle cx="414.9" cy="112.3" r="0.42"/><circle cx="350.9" cy="125.1" r="0.42"/><circle cx="351.8" cy="124.6" r="0.42"/><circle cx="312.8" cy="122.5" r="0.42"/><circle cx="344.9" cy="125.7" r="0.42"/><circle cx="363.8" cy="116.6" r="0.42"/><circle cx="329.2" cy="124.9" r="0.42"/><circle cx="368.1" cy="116.3" r="0.42"/><circle cx="361.1" cy="123.4" r="0.42"/><circle cx="333.4" cy="117.6" r="0.42"/><circle cx="421.1" cy="122.5" r="0.42"/><circle cx="343.4" cy="124.2" r="0.42"/><circle cx="359.2" cy="119.6" r="0.42"/><circle cx="364.2" cy="115.9" r="0.42"/><circle cx="351.5" cy="125.9" r="0.42"/><circle cx="404.0" cy="103.9" r="0.42"/><circle cx="365.6" cy="115.1" r="0.42"/><circle cx="372.7" cy="115.7" r="0.42"/><circle cx="314.3" cy="115.0" r="0.42"/><circle cx="371.4" cy="121.2" r="0.42"/><circle cx="348.1" cy="125.4" r="0.42"/><circle cx="365.2" cy="113.7" r="0.42"/><circle cx="390.0" cy="104.7" r="0.42"/><circle cx="393.2" cy="107.7" r="0.42"/><circle cx="340.7" cy="124.7" r="0.42"/><circle cx="314.7" cy="117.2" r="0.42"/><circle cx="413.6" cy="119.1" r="0.42"/><circle cx="360.0" cy="121.6" r="0.42"/><circle cx="293.5" cy="114.9" r="0.42"/><circle cx="352.2" cy="125.7" r="0.42"/><circle cx="328.2" cy="120.5" r="0.42"/><circle cx="350.7" cy="125.1" r="0.42"/><circle cx="346.5" cy="125.8" r="0.42"/><circle cx="381.8" cy="120.1" r="0.42"/><circle cx="330.6" cy="116.4" r="0.42"/><circle cx="330.4" cy="118.7" r="0.42"/><circle cx="397.2" cy="111.7" r="0.42"/><circle cx="384.7" cy="114.1" r="0.42"/><circle cx="359.5" cy="123.1" r="0.42"/><circle cx="319.7" cy="123.3" r="0.42"/><circle cx="328.8" cy="119.7" r="0.42"/><circle cx="405.8" cy="110.3" r="0.42"/><circle cx="352.4" cy="125.3" r="0.42"/><circle cx="318.0" cy="120.5" r="0.42"/><circle cx="372.9" cy="116.1" r="0.42"/><circle cx="391.1" cy="111.8" r="0.42"/><circle cx="312.0" cy="115.2" r="0.42"/><circle cx="339.4" cy="124.8" r="0.42"/><circle cx="298.1" cy="119.4" r="0.42"/><circle cx="358.1" cy="123.8" r="0.42"/><circle cx="335.0" cy="118.3" r="0.42"/><circle cx="363.1" cy="122.2" r="0.42"/><circle cx="342.0" cy="125.0" r="0.42"/><circle cx="322.2" cy="121.5" r="0.42"/><circle cx="329.5" cy="121.9" r="0.42"/><circle cx="357.6" cy="123.0" r="0.42"/><circle cx="336.3" cy="119.7" r="0.42"/><circle cx="395.1" cy="105.4" r="0.42"/><circle cx="380.1" cy="112.0" r="0.42"/><circle cx="366.8" cy="117.3" r="0.42"/><circle cx="332.2" cy="118.2" r="0.42"/><circle cx="355.3" cy="123.3" r="0.42"/><circle cx="389.1" cy="120.7" r="0.42"/><circle cx="366.4" cy="125.6" r="0.42"/><circle cx="366.8" cy="115.2" r="0.42"/><circle cx="338.3" cy="123.4" r="0.42"/><circle cx="365.2" cy="119.4" r="0.42"/><circle cx="347.4" cy="126.2" r="0.42"/><circle cx="310.8" cy="123.5" r="0.42"/><circle cx="360.2" cy="120.2" r="0.42"/><circle cx="382.0" cy="123.4" r="0.42"/><circle cx="376.5" cy="107.7" r="0.42"/><circle cx="329.1" cy="117.2" r="0.42"/><circle cx="354.2" cy="125.0" r="0.42"/><circle cx="406.6" cy="109.7" r="0.42"/><circle cx="383.6" cy="113.0" r="0.42"/><circle cx="352.5" cy="125.1" r="0.42"/><circle cx="331.6" cy="123.3" r="0.42"/><circle cx="378.6" cy="109.0" r="0.42"/><circle cx="339.1" cy="122.3" r="0.42"/><circle cx="333.5" cy="123.2" r="0.42"/><circle cx="381.5" cy="114.6" r="0.42"/><circle cx="399.4" cy="120.9" r="0.42"/><circle cx="339.5" cy="125.2" r="0.42"/><circle cx="377.4" cy="123.7" r="0.42"/><circle cx="350.8" cy="125.0" r="0.42"/><circle cx="336.3" cy="122.4" r="0.42"/><circle cx="359.0" cy="119.9" r="0.42"/><circle cx="322.0" cy="122.8" r="0.42"/><circle cx="342.5" cy="124.5" r="0.42"/><circle cx="352.3" cy="123.6" r="0.42"/><circle cx="322.3" cy="123.4" r="0.42"/><circle cx="344.9" cy="125.4" r="0.42"/><circle cx="335.0" cy="122.0" r="0.42"/><circle cx="401.3" cy="115.4" r="0.42"/><circle cx="349.8" cy="125.2" r="0.42"/><circle cx="339.0" cy="123.8" r="0.42"/><circle cx="376.5" cy="110.7" r="0.42"/><circle cx="394.3" cy="101.8" r="0.42"/><circle cx="328.5" cy="121.8" r="0.42"/><circle cx="366.3" cy="116.5" r="0.42"/><circle cx="391.2" cy="118.4" r="0.42"/><circle cx="384.1" cy="116.0" r="0.42"/><circle cx="334.1" cy="119.1" r="0.42"/><circle cx="326.0" cy="119.5" r="0.42"/><circle cx="387.4" cy="104.5" r="0.42"/><circle cx="293.9" cy="121.5" r="0.42"/><circle cx="346.8" cy="125.6" r="0.42"/><circle cx="362.1" cy="121.0" r="0.42"/><circle cx="359.8" cy="116.8" r="0.42"/><circle cx="401.9" cy="105.9" r="0.42"/><circle cx="370.5" cy="117.2" r="0.42"/><circle cx="364.4" cy="115.8" r="0.42"/><circle cx="316.5" cy="119.0" r="0.42"/><circle cx="399.3" cy="99.5" r="0.42"/><circle cx="360.4" cy="117.9" r="0.42"/><circle cx="367.1" cy="121.5" r="0.42"/><circle cx="390.7" cy="112.3" r="0.42"/><circle cx="360.1" cy="120.1" r="0.42"/><circle cx="396.5" cy="108.7" r="0.42"/><circle cx="394.6" cy="114.3" r="0.42"/><circle cx="355.4" cy="122.4" r="0.42"/><circle cx="283.6" cy="121.5" r="0.42"/><circle cx="412.5" cy="99.2" r="0.42"/><circle cx="350.6" cy="124.9" r="0.42"/><circle cx="387.2" cy="110.7" r="0.42"/><circle cx="364.1" cy="118.0" r="0.42"/><circle cx="379.6" cy="113.1" r="0.42"/><circle cx="348.2" cy="125.8" r="0.42"/><circle cx="304.4" cy="122.0" r="0.42"/><circle cx="339.3" cy="123.7" r="0.42"/><circle cx="348.9" cy="125.6" r="0.42"/><circle cx="348.5" cy="125.2" r="0.42"/><circle cx="395.1" cy="107.6" r="0.42"/><circle cx="327.5" cy="117.3" r="0.42"/><circle cx="381.5" cy="114.1" r="0.42"/><circle cx="356.9" cy="124.9" r="0.42"/><circle cx="351.3" cy="125.0" r="0.42"/><circle cx="333.7" cy="124.8" r="0.42"/><circle cx="416.2" cy="106.2" r="0.42"/><circle cx="337.5" cy="122.0" r="0.42"/><circle cx="372.9" cy="118.4" r="0.42"/><circle cx="334.6" cy="121.8" r="0.42"/><circle cx="330.4" cy="124.3" r="0.42"/><circle cx="375.4" cy="115.5" r="0.42"/><circle cx="361.3" cy="123.8" r="0.42"/><circle cx="346.3" cy="125.2" r="0.42"/><circle cx="325.6" cy="115.1" r="0.42"/><circle cx="390.8" cy="122.6" r="0.42"/><circle cx="342.6" cy="125.4" r="0.42"/><circle cx="316.7" cy="120.0" r="0.42"/><circle cx="310.2" cy="115.5" r="0.42"/><circle cx="331.8" cy="117.2" r="0.42"/><circle cx="316.0" cy="117.4" r="0.42"/><circle cx="370.4" cy="120.6" r="0.42"/><circle cx="370.0" cy="116.1" r="0.42"/><circle cx="334.2" cy="121.0" r="0.42"/><circle cx="341.7" cy="124.3" r="0.42"/><circle cx="325.7" cy="120.5" r="0.42"/><circle cx="342.9" cy="124.8" r="0.42"/><circle cx="362.8" cy="115.6" r="0.42"/><circle cx="337.8" cy="121.8" r="0.42"/><circle cx="433.3" cy="95.9" r="0.42"/><circle cx="364.7" cy="116.5" r="0.42"/><circle cx="313.9" cy="114.3" r="0.42"/><circle cx="360.1" cy="117.3" r="0.42"/><circle cx="397.6" cy="101.7" r="0.42"/><circle cx="369.7" cy="113.2" r="0.42"/><circle cx="344.9" cy="125.8" r="0.42"/><circle cx="386.5" cy="104.3" r="0.42"/><circle cx="380.3" cy="117.8" r="0.42"/><circle cx="340.0" cy="123.2" r="0.42"/><circle cx="349.5" cy="125.8" r="0.42"/><circle cx="299.3" cy="114.3" r="0.42"/><circle cx="316.7" cy="117.8" r="0.42"/><circle cx="314.9" cy="121.4" r="0.42"/><circle cx="322.5" cy="116.3" r="0.42"/><circle cx="368.4" cy="123.8" r="0.42"/><circle cx="332.4" cy="116.9" r="0.42"/><circle cx="334.6" cy="119.4" r="0.42"/><circle cx="359.3" cy="118.3" r="0.42"/><circle cx="339.8" cy="123.4" r="0.42"/><circle cx="352.1" cy="124.9" r="0.42"/><circle cx="328.8" cy="120.2" r="0.42"/><circle cx="341.5" cy="123.9" r="0.42"/><circle cx="310.9" cy="115.3" r="0.42"/><circle cx="304.7" cy="123.8" r="0.42"/><circle cx="369.4" cy="114.0" r="0.42"/><circle cx="360.4" cy="125.3" r="0.42"/><circle cx="343.4" cy="124.4" r="0.42"/><circle cx="397.7" cy="98.5" r="0.42"/><circle cx="367.6" cy="124.7" r="0.42"/><circle cx="358.4" cy="120.4" r="0.42"/><circle cx="324.8" cy="118.3" r="0.42"/><circle cx="307.2" cy="112.5" r="0.42"/><circle cx="326.1" cy="118.2" r="0.42"/><circle cx="358.8" cy="121.9" r="0.42"/><circle cx="366.7" cy="117.9" r="0.42"/><circle cx="389.2" cy="123.2" r="0.42"/><circle cx="360.5" cy="117.9" r="0.42"/><circle cx="321.4" cy="116.7" r="0.42"/><circle cx="400.0" cy="98.7" r="0.42"/><circle cx="320.6" cy="116.9" r="0.42"/><circle cx="413.7" cy="105.4" r="0.42"/><circle cx="397.5" cy="101.3" r="0.42"/><circle cx="369.8" cy="113.2" r="0.42"/><circle cx="371.5" cy="115.9" r="0.42"/><circle cx="378.2" cy="111.9" r="0.42"/><circle cx="378.8" cy="124.8" r="0.42"/><circle cx="352.2" cy="125.0" r="0.42"/><circle cx="363.8" cy="123.4" r="0.42"/><circle cx="364.7" cy="119.8" r="0.42"/><circle cx="360.7" cy="120.5" r="0.42"/><circle cx="374.2" cy="113.5" r="0.42"/><circle cx="347.0" cy="125.4" r="0.42"/><circle cx="309.9" cy="111.9" r="0.42"/><circle cx="350.2" cy="125.5" r="0.42"/><circle cx="360.8" cy="121.9" r="0.42"/><circle cx="368.3" cy="123.3" r="0.42"/><circle cx="366.0" cy="118.5" r="0.42"/><circle cx="355.7" cy="123.0" r="0.42"/><circle cx="357.5" cy="123.6" r="0.42"/><circle cx="332.5" cy="118.0" r="0.42"/><circle cx="327.1" cy="116.4" r="0.42"/><circle cx="374.4" cy="114.4" r="0.42"/><circle cx="376.6" cy="118.9" r="0.42"/><circle cx="405.1" cy="112.1" r="0.42"/><circle cx="339.8" cy="123.2" r="0.42"/><circle cx="349.1" cy="125.5" r="0.42"/><circle cx="332.6" cy="125.3" r="0.42"/><circle cx="380.5" cy="125.1" r="0.42"/><circle cx="334.4" cy="118.9" r="0.42"/><circle cx="346.0" cy="125.6" r="0.42"/><circle cx="321.2" cy="117.5" r="0.42"/><circle cx="328.1" cy="120.6" r="0.42"/><circle cx="333.3" cy="117.3" r="0.42"/><circle cx="345.0" cy="125.2" r="0.42"/><circle cx="401.3" cy="110.0" r="0.42"/><circle cx="363.2" cy="115.3" r="0.42"/><circle cx="373.1" cy="117.0" r="0.42"/><circle cx="357.1" cy="122.1" r="0.42"/><circle cx="384.6" cy="112.2" r="0.42"/><circle cx="362.2" cy="118.3" r="0.42"/><circle cx="363.1" cy="115.6" r="0.42"/><circle cx="376.5" cy="123.4" r="0.42"/><circle cx="368.6" cy="115.8" r="0.42"/><circle cx="354.1" cy="124.1" r="0.42"/><circle cx="366.0" cy="120.3" r="0.42"/><circle cx="370.8" cy="113.4" r="0.42"/><circle cx="334.9" cy="118.8" r="0.42"/><circle cx="340.9" cy="123.8" r="0.42"/><circle cx="332.0" cy="117.4" r="0.42"/><circle cx="350.4" cy="124.9" r="0.42"/><circle cx="362.4" cy="117.0" r="0.42"/><circle cx="366.9" cy="119.3" r="0.42"/><circle cx="307.4" cy="113.8" r="0.42"/><circle cx="283.4" cy="117.7" r="0.42"/><circle cx="347.7" cy="124.8" r="0.42"/><circle cx="364.9" cy="116.0" r="0.42"/><circle cx="359.2" cy="123.4" r="0.42"/><circle cx="323.8" cy="116.1" r="0.42"/><circle cx="340.5" cy="125.4" r="0.42"/><circle cx="362.6" cy="123.5" r="0.42"/><circle cx="359.3" cy="121.8" r="0.42"/><circle cx="346.2" cy="125.1" r="0.42"/><circle cx="334.6" cy="117.6" r="0.42"/><circle cx="345.4" cy="125.1" r="0.42"/><circle cx="326.0" cy="116.3" r="0.42"/><circle cx="353.2" cy="123.7" r="0.42"/><circle cx="359.6" cy="121.4" r="0.42"/><circle cx="334.7" cy="119.5" r="0.42"/><circle cx="366.7" cy="114.8" r="0.42"/><circle cx="340.0" cy="123.1" r="0.42"/><circle cx="366.7" cy="120.2" r="0.42"/><circle cx="350.7" cy="124.5" r="0.42"/><circle cx="393.2" cy="101.3" r="0.42"/><circle cx="378.1" cy="121.0" r="0.42"/><circle cx="371.6" cy="110.0" r="0.42"/><circle cx="399.6" cy="105.8" r="0.42"/><circle cx="327.5" cy="116.3" r="0.42"/><circle cx="317.6" cy="119.4" r="0.42"/><circle cx="360.9" cy="118.5" r="0.42"/><circle cx="362.7" cy="121.9" r="0.42"/><circle cx="296.3" cy="117.9" r="0.42"/><circle cx="344.4" cy="124.7" r="0.42"/><circle cx="349.0" cy="125.4" r="0.42"/><circle cx="362.6" cy="117.6" r="0.42"/><circle cx="303.4" cy="121.9" r="0.42"/><circle cx="375.2" cy="110.4" r="0.42"/><circle cx="327.5" cy="116.5" r="0.42"/><circle cx="337.4" cy="120.2" r="0.42"/><circle cx="331.2" cy="118.3" r="0.42"/><circle cx="385.2" cy="106.0" r="0.42"/><circle cx="320.2" cy="114.7" r="0.42"/><circle cx="383.7" cy="124.0" r="0.42"/><circle cx="389.5" cy="98.7" r="0.42"/><circle cx="343.7" cy="125.6" r="0.42"/><circle cx="404.6" cy="123.4" r="0.42"/><circle cx="378.2" cy="112.7" r="0.42"/><circle cx="334.8" cy="121.3" r="0.42"/><circle cx="354.1" cy="124.3" r="0.42"/><circle cx="309.3" cy="119.8" r="0.42"/><circle cx="368.4" cy="119.8" r="0.42"/><circle cx="340.6" cy="125.5" r="0.42"/><circle cx="329.4" cy="119.7" r="0.42"/><circle cx="352.1" cy="124.8" r="0.42"/><circle cx="343.2" cy="125.1" r="0.42"/><circle cx="334.0" cy="122.0" r="0.42"/><circle cx="435.3" cy="103.8" r="0.42"/><circle cx="364.6" cy="114.1" r="0.42"/><circle cx="363.7" cy="124.8" r="0.42"/><circle cx="329.9" cy="116.8" r="0.42"/><circle cx="340.3" cy="123.8" r="0.42"/><circle cx="384.7" cy="123.4" r="0.42"/><circle cx="363.6" cy="117.3" r="0.42"/><circle cx="383.4" cy="111.4" r="0.42"/><circle cx="385.3" cy="113.7" r="0.42"/><circle cx="376.7" cy="114.6" r="0.42"/><circle cx="363.4" cy="118.1" r="0.42"/><circle cx="372.8" cy="115.6" r="0.42"/><circle cx="331.7" cy="122.2" r="0.42"/><circle cx="406.7" cy="104.0" r="0.42"/><circle cx="345.8" cy="125.6" r="0.42"/><circle cx="396.1" cy="106.6" r="0.42"/><circle cx="311.3" cy="123.4" r="0.42"/><circle cx="326.1" cy="124.6" r="0.42"/><circle cx="344.6" cy="125.7" r="0.42"/><circle cx="334.3" cy="120.5" r="0.42"/><circle cx="395.1" cy="98.4" r="0.42"/><circle cx="339.3" cy="122.2" r="0.42"/><circle cx="361.8" cy="115.9" r="0.42"/><circle cx="360.8" cy="118.4" r="0.42"/><circle cx="374.7" cy="122.4" r="0.42"/><circle cx="319.6" cy="117.4" r="0.42"/><circle cx="392.8" cy="107.6" r="0.42"/><circle cx="329.5" cy="121.4" r="0.42"/><circle cx="383.9" cy="103.4" r="0.42"/><circle cx="411.3" cy="105.3" r="0.42"/><circle cx="338.1" cy="123.7" r="0.42"/><circle cx="368.8" cy="124.1" r="0.42"/><circle cx="286.8" cy="114.2" r="0.42"/><circle cx="304.0" cy="115.0" r="0.42"/><circle cx="364.2" cy="116.4" r="0.42"/><circle cx="338.8" cy="124.3" r="0.42"/><circle cx="409.3" cy="112.4" r="0.42"/><circle cx="359.7" cy="119.0" r="0.42"/><circle cx="406.2" cy="104.9" r="0.42"/><circle cx="360.8" cy="121.8" r="0.42"/><circle cx="341.9" cy="124.4" r="0.42"/><circle cx="347.1" cy="124.7" r="0.42"/><circle cx="345.7" cy="125.2" r="0.42"/><circle cx="362.3" cy="115.6" r="0.42"/><circle cx="348.7" cy="126.0" r="0.42"/><circle cx="340.6" cy="123.7" r="0.42"/><circle cx="362.1" cy="122.5" r="0.42"/><circle cx="438.1" cy="96.9" r="0.42"/><circle cx="372.8" cy="110.8" r="0.42"/><circle cx="355.7" cy="123.5" r="0.42"/><circle cx="340.4" cy="123.9" r="0.42"/><circle cx="362.3" cy="115.8" r="0.42"/><circle cx="319.2" cy="121.1" r="0.42"/><circle cx="348.7" cy="124.6" r="0.42"/><circle cx="344.7" cy="125.9" r="0.42"/><circle cx="399.4" cy="96.4" r="0.42"/><circle cx="368.5" cy="116.8" r="0.42"/><circle cx="279.8" cy="112.9" r="0.42"/><circle cx="378.0" cy="106.3" r="0.42"/><circle cx="343.8" cy="125.7" r="0.42"/><circle cx="359.7" cy="119.9" r="0.42"/><circle cx="363.3" cy="118.8" r="0.42"/><circle cx="369.1" cy="112.5" r="0.42"/><circle cx="339.9" cy="123.9" r="0.42"/><circle cx="342.6" cy="123.8" r="0.42"/><circle cx="381.8" cy="120.4" r="0.42"/><circle cx="362.8" cy="115.2" r="0.42"/><circle cx="381.5" cy="116.0" r="0.42"/><circle cx="333.3" cy="116.7" r="0.42"/><circle cx="346.3" cy="124.8" r="0.42"/><circle cx="336.9" cy="124.2" r="0.42"/><circle cx="320.0" cy="116.1" r="0.42"/><circle cx="338.0" cy="122.8" r="0.42"/><circle cx="393.5" cy="122.5" r="0.42"/><circle cx="396.8" cy="105.5" r="0.42"/><circle cx="403.2" cy="100.2" r="0.42"/><circle cx="353.7" cy="123.6" r="0.42"/><circle cx="362.3" cy="122.2" r="0.42"/><circle cx="388.8" cy="101.4" r="0.42"/><circle cx="311.2" cy="120.6" r="0.42"/><circle cx="342.7" cy="125.2" r="0.42"/><circle cx="378.1" cy="125.5" r="0.42"/><circle cx="353.6" cy="124.3" r="0.42"/><circle cx="337.8" cy="122.6" r="0.42"/><circle cx="328.0" cy="119.8" r="0.42"/><circle cx="365.3" cy="125.1" r="0.42"/><circle cx="353.5" cy="123.8" r="0.42"/><circle cx="362.1" cy="119.4" r="0.42"/><circle cx="357.4" cy="122.7" r="0.42"/><circle cx="364.5" cy="115.8" r="0.42"/><circle cx="353.0" cy="124.3" r="0.42"/><circle cx="345.6" cy="124.5" r="0.42"/><circle cx="387.5" cy="100.5" r="0.42"/><circle cx="342.4" cy="125.4" r="0.42"/><circle cx="350.5" cy="125.2" r="0.42"/><circle cx="349.6" cy="126.1" r="0.42"/><circle cx="369.1" cy="114.8" r="0.42"/><circle cx="297.1" cy="114.9" r="0.42"/><circle cx="397.8" cy="125.0" r="0.42"/><circle cx="365.3" cy="119.5" r="0.42"/><circle cx="386.8" cy="113.8" r="0.42"/><circle cx="295.4" cy="115.1" r="0.42"/><circle cx="356.9" cy="121.1" r="0.42"/><circle cx="334.8" cy="119.4" r="0.42"/><circle cx="325.7" cy="116.0" r="0.42"/><circle cx="408.9" cy="102.6" r="0.42"/><circle cx="288.6" cy="118.4" r="0.42"/><circle cx="317.8" cy="116.4" r="0.42"/><circle cx="348.9" cy="125.1" r="0.42"/><circle cx="349.7" cy="125.3" r="0.42"/><circle cx="350.3" cy="125.2" r="0.42"/><circle cx="335.2" cy="119.1" r="0.42"/><circle cx="347.3" cy="125.9" r="0.42"/><circle cx="342.2" cy="125.4" r="0.42"/><circle cx="364.8" cy="116.8" r="0.42"/><circle cx="383.3" cy="116.9" r="0.42"/><circle cx="308.9" cy="112.3" r="0.42"/><circle cx="373.0" cy="117.7" r="0.42"/><circle cx="352.1" cy="123.6" r="0.42"/><circle cx="323.1" cy="121.7" r="0.42"/><circle cx="407.3" cy="96.7" r="0.42"/><circle cx="362.0" cy="123.1" r="0.42"/><circle cx="311.6" cy="115.3" r="0.42"/><circle cx="405.7" cy="104.0" r="0.42"/><circle cx="338.6" cy="123.0" r="0.42"/><circle cx="380.2" cy="118.5" r="0.42"/><circle cx="380.3" cy="108.1" r="0.42"/><circle cx="285.1" cy="125.3" r="0.42"/><circle cx="341.5" cy="124.7" r="0.42"/><circle cx="401.3" cy="112.0" r="0.42"/><circle cx="308.3" cy="113.5" r="0.42"/><circle cx="340.7" cy="123.4" r="0.42"/><circle cx="377.7" cy="111.4" r="0.42"/><circle cx="332.4" cy="122.7" r="0.42"/><circle cx="369.1" cy="112.5" r="0.42"/><circle cx="303.8" cy="110.8" r="0.42"/><circle cx="337.1" cy="123.1" r="0.42"/><circle cx="315.8" cy="115.3" r="0.42"/><circle cx="362.0" cy="123.3" r="0.42"/><circle cx="344.1" cy="125.1" r="0.42"/><circle cx="402.2" cy="111.5" r="0.42"/><circle cx="345.4" cy="125.4" r="0.42"/><circle cx="408.9" cy="98.3" r="0.42"/><circle cx="348.2" cy="124.8" r="0.42"/><circle cx="341.6" cy="124.9" r="0.42"/><circle cx="378.6" cy="114.4" r="0.42"/><circle cx="365.3" cy="113.6" r="0.42"/><circle cx="328.0" cy="118.5" r="0.42"/><circle cx="409.6" cy="111.1" r="0.42"/><circle cx="367.9" cy="119.0" r="0.42"/><circle cx="391.7" cy="99.7" r="0.42"/><circle cx="324.9" cy="122.6" r="0.42"/><circle cx="367.2" cy="116.5" r="0.42"/><circle cx="317.7" cy="122.8" r="0.42"/><circle cx="336.7" cy="121.7" r="0.42"/><circle cx="375.3" cy="120.1" r="0.42"/><circle cx="361.3" cy="116.7" r="0.42"/><circle cx="366.6" cy="118.4" r="0.42"/><circle cx="392.4" cy="116.0" r="0.42"/><circle cx="386.6" cy="113.8" r="0.42"/><circle cx="340.5" cy="125.1" r="0.42"/><circle cx="359.7" cy="122.0" r="0.42"/><circle cx="345.8" cy="125.7" r="0.42"/><circle cx="439.9" cy="100.3" r="0.42"/><circle cx="340.4" cy="123.4" r="0.42"/><circle cx="350.5" cy="125.2" r="0.42"/><circle cx="390.7" cy="107.1" r="0.42"/><circle cx="368.5" cy="112.7" r="0.42"/><circle cx="321.0" cy="116.3" r="0.42"/><circle cx="364.5" cy="123.4" r="0.42"/><circle cx="404.7" cy="115.7" r="0.42"/><circle cx="374.4" cy="121.9" r="0.42"/><circle cx="328.0" cy="118.0" r="0.42"/><circle cx="391.1" cy="114.2" r="0.42"/><circle cx="343.8" cy="125.2" r="0.42"/><circle cx="354.1" cy="124.0" r="0.42"/><circle cx="360.0" cy="118.4" r="0.42"/><circle cx="344.8" cy="125.2" r="0.42"/><circle cx="396.4" cy="100.1" r="0.42"/><circle cx="343.4" cy="125.3" r="0.42"/><circle cx="390.4" cy="117.6" r="0.42"/><circle cx="347.4" cy="125.7" r="0.42"/><circle cx="390.1" cy="106.3" r="0.42"/><circle cx="344.1" cy="124.7" r="0.42"/><circle cx="360.7" cy="124.5" r="0.42"/><circle cx="320.5" cy="118.0" r="0.42"/><circle cx="366.8" cy="118.8" r="0.42"/><circle cx="293.2" cy="119.1" r="0.42"/><circle cx="369.4" cy="111.7" r="0.42"/><circle cx="350.3" cy="125.6" r="0.42"/><circle cx="342.8" cy="124.8" r="0.42"/><circle cx="365.3" cy="118.2" r="0.42"/><circle cx="365.9" cy="122.5" r="0.42"/><circle cx="319.3" cy="119.3" r="0.42"/><circle cx="411.0" cy="106.5" r="0.42"/><circle cx="364.7" cy="116.2" r="0.42"/><circle cx="330.1" cy="118.3" r="0.42"/><circle cx="345.2" cy="125.0" r="0.42"/><circle cx="323.7" cy="121.6" r="0.42"/><circle cx="324.1" cy="118.4" r="0.42"/><circle cx="312.6" cy="112.6" r="0.42"/><circle cx="296.6" cy="111.0" r="0.42"/><circle cx="347.0" cy="125.5" r="0.42"/><circle cx="364.7" cy="122.5" r="0.42"/><circle cx="309.2" cy="122.5" r="0.42"/><circle cx="394.4" cy="115.3" r="0.42"/><circle cx="351.1" cy="125.2" r="0.42"/><circle cx="341.5" cy="124.6" r="0.42"/><circle cx="360.6" cy="118.6" r="0.42"/><circle cx="349.7" cy="125.8" r="0.42"/><circle cx="341.6" cy="124.9" r="0.42"/><circle cx="344.2" cy="125.2" r="0.42"/><circle cx="324.4" cy="118.0" r="0.42"/><circle cx="384.5" cy="115.6" r="0.42"/><circle cx="362.9" cy="122.5" r="0.42"/><circle cx="397.1" cy="125.2" r="0.42"/><circle cx="373.4" cy="125.5" r="0.42"/><circle cx="362.8" cy="123.1" r="0.42"/><circle cx="277.3" cy="116.4" r="0.42"/><circle cx="338.5" cy="122.7" r="0.42"/><circle cx="366.8" cy="117.2" r="0.42"/><circle cx="389.3" cy="118.8" r="0.42"/><circle cx="324.3" cy="118.7" r="0.42"/><circle cx="395.2" cy="100.1" r="0.42"/><circle cx="370.2" cy="114.1" r="0.42"/><circle cx="343.1" cy="124.6" r="0.42"/><circle cx="332.2" cy="122.7" r="0.42"/><circle cx="379.0" cy="110.7" r="0.42"/><circle cx="303.5" cy="113.0" r="0.42"/><circle cx="391.3" cy="120.9" r="0.42"/><circle cx="357.7" cy="123.6" r="0.42"/><circle cx="330.0" cy="121.4" r="0.42"/><circle cx="338.9" cy="124.2" r="0.42"/><circle cx="349.5" cy="124.7" r="0.42"/><circle cx="336.7" cy="120.1" r="0.42"/><circle cx="298.4" cy="111.4" r="0.42"/><circle cx="327.9" cy="122.3" r="0.42"/><circle cx="327.2" cy="125.0" r="0.42"/><circle cx="356.0" cy="122.6" r="0.42"/><circle cx="342.4" cy="123.7" r="0.42"/><circle cx="338.6" cy="122.6" r="0.42"/><circle cx="376.8" cy="115.4" r="0.42"/><circle cx="447.4" cy="94.4" r="0.42"/><circle cx="352.2" cy="124.1" r="0.42"/><circle cx="384.9" cy="120.2" r="0.42"/><circle cx="316.2" cy="119.4" r="0.42"/><circle cx="351.5" cy="124.5" r="0.42"/><circle cx="318.9" cy="114.9" r="0.42"/><circle cx="338.2" cy="122.0" r="0.42"/><circle cx="347.0" cy="125.5" r="0.42"/><circle cx="369.1" cy="118.1" r="0.42"/><circle cx="336.2" cy="123.0" r="0.42"/><circle cx="324.8" cy="120.0" r="0.42"/><circle cx="402.0" cy="98.6" r="0.42"/><circle cx="391.1" cy="100.1" r="0.42"/><circle cx="332.4" cy="117.3" r="0.42"/><circle cx="369.2" cy="120.9" r="0.42"/><circle cx="365.0" cy="114.9" r="0.42"/><circle cx="386.6" cy="122.1" r="0.42"/><circle cx="341.0" cy="122.9" r="0.42"/><circle cx="320.5" cy="114.4" r="0.42"/><circle cx="363.1" cy="117.1" r="0.42"/><circle cx="363.1" cy="122.5" r="0.42"/><circle cx="344.7" cy="125.1" r="0.42"/><circle cx="347.5" cy="125.8" r="0.42"/><circle cx="348.0" cy="125.5" r="0.42"/><circle cx="338.5" cy="122.7" r="0.42"/><circle cx="343.4" cy="126.1" r="0.42"/><circle cx="357.4" cy="121.8" r="0.42"/><circle cx="368.3" cy="116.2" r="0.42"/><circle cx="332.8" cy="119.8" r="0.42"/><circle cx="373.2" cy="125.6" r="0.42"/><circle cx="397.8" cy="118.0" r="0.42"/><circle cx="377.1" cy="113.6" r="0.42"/><circle cx="364.9" cy="116.1" r="0.42"/><circle cx="350.4" cy="124.6" r="0.42"/><circle cx="371.2" cy="123.2" r="0.42"/><circle cx="378.2" cy="107.4" r="0.42"/><circle cx="364.4" cy="121.6" r="0.42"/><circle cx="361.7" cy="116.0" r="0.42"/><circle cx="358.4" cy="119.6" r="0.42"/><circle cx="352.1" cy="125.8" r="0.42"/><circle cx="368.1" cy="114.4" r="0.42"/><circle cx="344.0" cy="124.7" r="0.42"/><circle cx="350.7" cy="125.0" r="0.42"/><circle cx="301.7" cy="114.9" r="0.42"/><circle cx="284.5" cy="123.9" r="0.42"/><circle cx="368.3" cy="115.1" r="0.42"/><circle cx="299.7" cy="120.4" r="0.42"/><circle cx="385.8" cy="114.4" r="0.42"/><circle cx="357.6" cy="121.3" r="0.42"/><circle cx="345.6" cy="125.2" r="0.42"/><circle cx="320.3" cy="115.7" r="0.42"/><circle cx="375.3" cy="118.6" r="0.42"/><circle cx="387.4" cy="118.4" r="0.42"/><circle cx="349.8" cy="126.2" r="0.42"/><circle cx="370.2" cy="122.5" r="0.42"/><circle cx="352.1" cy="123.7" r="0.42"/><circle cx="311.1" cy="118.5" r="0.42"/><circle cx="367.0" cy="113.4" r="0.42"/><circle cx="307.0" cy="123.7" r="0.42"/><circle cx="392.7" cy="101.8" r="0.42"/><circle cx="343.5" cy="125.1" r="0.42"/><circle cx="309.2" cy="117.9" r="0.42"/><circle cx="338.5" cy="123.7" r="0.42"/><circle cx="361.2" cy="118.8" r="0.42"/><circle cx="358.1" cy="120.3" r="0.42"/><circle cx="375.8" cy="122.7" r="0.42"/><circle cx="390.4" cy="119.1" r="0.42"/><circle cx="357.6" cy="121.2" r="0.42"/><circle cx="325.9" cy="115.8" r="0.42"/><circle cx="329.1" cy="119.9" r="0.42"/><circle cx="337.8" cy="121.4" r="0.42"/><circle cx="282.3" cy="112.0" r="0.42"/><circle cx="421.4" cy="113.0" r="0.42"/><circle cx="323.6" cy="117.5" r="0.42"/><circle cx="340.7" cy="124.3" r="0.42"/><circle cx="293.2" cy="119.5" r="0.42"/><circle cx="367.0" cy="120.3" r="0.42"/><circle cx="353.2" cy="124.3" r="0.42"/><circle cx="397.9" cy="100.0" r="0.42"/><circle cx="348.0" cy="125.8" r="0.42"/><circle cx="337.8" cy="122.0" r="0.42"/><circle cx="342.9" cy="124.4" r="0.42"/><circle cx="361.7" cy="117.9" r="0.42"/><circle cx="307.0" cy="113.1" r="0.42"/><circle cx="387.5" cy="101.8" r="0.42"/><circle cx="321.1" cy="118.3" r="0.42"/><circle cx="349.3" cy="125.9" r="0.42"/><circle cx="310.6" cy="115.6" r="0.42"/><circle cx="305.1" cy="111.3" r="0.42"/><circle cx="364.3" cy="123.1" r="0.42"/><circle cx="371.4" cy="112.1" r="0.42"/><circle cx="376.8" cy="111.4" r="0.42"/><circle cx="305.2" cy="115.1" r="0.42"/><circle cx="387.2" cy="111.2" r="0.42"/><circle cx="367.0" cy="122.4" r="0.42"/><circle cx="363.0" cy="116.4" r="0.42"/><circle cx="359.3" cy="120.1" r="0.42"/><circle cx="352.5" cy="125.4" r="0.42"/><circle cx="343.9" cy="125.7" r="0.42"/><circle cx="417.9" cy="98.0" r="0.42"/><circle cx="391.0" cy="105.3" r="0.42"/><circle cx="374.9" cy="111.7" r="0.42"/><circle cx="308.7" cy="118.0" r="0.42"/><circle cx="340.4" cy="124.9" r="0.42"/><circle cx="350.5" cy="124.7" r="0.42"/><circle cx="366.7" cy="117.9" r="0.42"/><circle cx="307.3" cy="114.3" r="0.42"/><circle cx="302.6" cy="112.3" r="0.42"/><circle cx="429.5" cy="108.6" r="0.42"/><circle cx="337.9" cy="121.0" r="0.42"/><circle cx="413.4" cy="97.1" r="0.42"/><circle cx="307.5" cy="117.5" r="0.42"/><circle cx="363.8" cy="122.3" r="0.42"/><circle cx="424.0" cy="96.2" r="0.42"/><circle cx="383.6" cy="109.1" r="0.42"/><circle cx="316.4" cy="117.8" r="0.42"/><circle cx="389.5" cy="118.2" r="0.42"/><circle cx="366.9" cy="115.8" r="0.42"/><circle cx="319.1" cy="118.3" r="0.42"/><circle cx="366.7" cy="120.9" r="0.42"/><circle cx="404.4" cy="99.3" r="0.42"/><circle cx="338.1" cy="123.0" r="0.42"/><circle cx="361.8" cy="115.5" r="0.42"/><circle cx="331.1" cy="118.7" r="0.42"/><circle cx="363.9" cy="118.8" r="0.42"/><circle cx="323.4" cy="123.4" r="0.42"/><circle cx="311.9" cy="118.5" r="0.42"/><circle cx="367.0" cy="115.0" r="0.42"/><circle cx="329.3" cy="116.1" r="0.42"/><circle cx="330.2" cy="123.1" r="0.42"/><circle cx="384.3" cy="110.4" r="0.42"/><circle cx="342.3" cy="125.2" r="0.42"/><circle cx="415.1" cy="108.2" r="0.42"/><circle cx="325.1" cy="118.7" r="0.42"/><circle cx="373.6" cy="111.3" r="0.42"/><circle cx="337.3" cy="122.7" r="0.42"/><circle cx="397.0" cy="113.2" r="0.42"/><circle cx="331.2" cy="119.2" r="0.42"/><circle cx="368.5" cy="116.5" r="0.42"/><circle cx="325.4" cy="121.1" r="0.42"/><circle cx="358.5" cy="118.9" r="0.42"/><circle cx="323.8" cy="122.4" r="0.42"/><circle cx="327.2" cy="122.1" r="0.42"/><circle cx="365.0" cy="116.3" r="0.42"/><circle cx="357.0" cy="120.9" r="0.42"/><circle cx="375.6" cy="119.4" r="0.42"/><circle cx="401.6" cy="97.1" r="0.42"/><circle cx="346.6" cy="124.9" r="0.42"/><circle cx="328.7" cy="120.1" r="0.42"/><circle cx="331.7" cy="118.5" r="0.42"/><circle cx="384.1" cy="103.6" r="0.42"/><circle cx="328.8" cy="116.6" r="0.42"/><circle cx="315.1" cy="126.0" r="0.42"/><circle cx="398.7" cy="101.8" r="0.42"/><circle cx="393.3" cy="111.8" r="0.42"/><circle cx="412.5" cy="124.7" r="0.42"/><circle cx="342.3" cy="124.7" r="0.42"/><circle cx="349.4" cy="126.0" r="0.42"/><circle cx="336.4" cy="120.7" r="0.42"/><circle cx="373.3" cy="111.8" r="0.42"/><circle cx="358.5" cy="119.0" r="0.42"/><circle cx="323.2" cy="119.6" r="0.42"/><circle cx="351.3" cy="125.1" r="0.42"/><circle cx="375.9" cy="123.7" r="0.42"/><circle cx="328.0" cy="120.6" r="0.42"/><circle cx="360.9" cy="116.6" r="0.42"/><circle cx="367.9" cy="118.8" r="0.42"/><circle cx="348.8" cy="125.6" r="0.42"/><circle cx="353.4" cy="124.6" r="0.42"/><circle cx="362.1" cy="116.2" r="0.42"/><circle cx="394.3" cy="105.6" r="0.42"/><circle cx="387.9" cy="104.3" r="0.42"/><circle cx="385.1" cy="103.2" r="0.42"/><circle cx="299.7" cy="112.2" r="0.42"/><circle cx="330.5" cy="122.7" r="0.42"/><circle cx="278.5" cy="114.1" r="0.42"/><circle cx="329.8" cy="116.3" r="0.42"/><circle cx="347.8" cy="126.2" r="0.42"/><circle cx="311.0" cy="124.6" r="0.42"/><circle cx="340.3" cy="123.7" r="0.42"/><circle cx="342.8" cy="124.0" r="0.42"/><circle cx="342.0" cy="124.4" r="0.42"/><circle cx="314.4" cy="115.5" r="0.42"/><circle cx="318.0" cy="118.9" r="0.42"/><circle cx="302.9" cy="114.1" r="0.42"/><circle cx="376.8" cy="108.4" r="0.42"/><circle cx="317.1" cy="122.8" r="0.42"/><circle cx="369.4" cy="124.8" r="0.42"/><circle cx="335.4" cy="118.6" r="0.42"/><circle cx="345.2" cy="125.3" r="0.42"/><circle cx="355.6" cy="122.6" r="0.42"/><circle cx="311.2" cy="117.0" r="0.42"/><circle cx="372.9" cy="111.6" r="0.42"/><circle cx="331.3" cy="122.9" r="0.42"/><circle cx="323.9" cy="121.0" r="0.42"/><circle cx="352.6" cy="124.5" r="0.42"/><circle cx="378.0" cy="122.9" r="0.42"/><circle cx="312.3" cy="118.4" r="0.42"/><circle cx="317.8" cy="125.6" r="0.42"/><circle cx="394.6" cy="101.6" r="0.42"/><circle cx="309.9" cy="112.4" r="0.42"/><circle cx="357.7" cy="123.7" r="0.42"/><circle cx="368.4" cy="117.1" r="0.42"/><circle cx="313.8" cy="123.1" r="0.42"/><circle cx="421.7" cy="103.9" r="0.42"/><circle cx="357.6" cy="121.1" r="0.42"/><circle cx="373.1" cy="108.7" r="0.42"/><circle cx="365.6" cy="115.8" r="0.42"/><circle cx="350.6" cy="125.6" r="0.42"/><circle cx="280.4" cy="122.4" r="0.42"/><circle cx="370.3" cy="114.8" r="0.42"/><circle cx="293.2" cy="111.6" r="0.42"/><circle cx="338.9" cy="124.1" r="0.42"/><circle cx="318.1" cy="120.0" r="0.42"/><circle cx="365.8" cy="116.7" r="0.42"/><circle cx="391.6" cy="99.1" r="0.42"/><circle cx="339.7" cy="122.9" r="0.42"/><circle cx="319.9" cy="114.0" r="0.42"/><circle cx="406.2" cy="112.4" r="0.42"/><circle cx="343.2" cy="125.2" r="0.42"/><circle cx="329.9" cy="117.2" r="0.42"/><circle cx="365.7" cy="121.0" r="0.42"/><circle cx="382.5" cy="118.9" r="0.42"/><circle cx="395.5" cy="121.6" r="0.42"/><circle cx="348.2" cy="124.8" r="0.42"/><circle cx="370.6" cy="119.9" r="0.42"/><circle cx="314.7" cy="119.3" r="0.42"/><circle cx="332.6" cy="118.4" r="0.42"/><circle cx="333.0" cy="118.0" r="0.42"/><circle cx="396.2" cy="117.8" r="0.42"/><circle cx="323.5" cy="117.2" r="0.42"/><circle cx="377.3" cy="114.3" r="0.42"/><circle cx="382.3" cy="110.5" r="0.42"/><circle cx="355.9" cy="123.1" r="0.42"/><circle cx="342.3" cy="124.7" r="0.42"/><circle cx="382.7" cy="109.3" r="0.42"/><circle cx="338.0" cy="123.1" r="0.42"/><circle cx="340.5" cy="124.0" r="0.42"/><circle cx="383.5" cy="108.7" r="0.42"/><circle cx="356.3" cy="123.3" r="0.42"/><circle cx="346.2" cy="125.5" r="0.42"/><circle cx="343.8" cy="124.9" r="0.42"/><circle cx="369.1" cy="122.3" r="0.42"/><circle cx="370.4" cy="120.5" r="0.42"/><circle cx="334.2" cy="117.2" r="0.42"/><circle cx="376.4" cy="108.6" r="0.42"/><circle cx="364.5" cy="116.9" r="0.42"/><circle cx="319.5" cy="124.7" r="0.42"/><circle cx="329.0" cy="116.4" r="0.42"/><circle cx="372.4" cy="114.7" r="0.42"/><circle cx="330.5" cy="116.3" r="0.42"/><circle cx="363.2" cy="118.3" r="0.42"/><circle cx="361.9" cy="119.6" r="0.42"/><circle cx="388.1" cy="109.2" r="0.42"/><circle cx="331.0" cy="123.0" r="0.42"/><circle cx="334.8" cy="121.1" r="0.42"/><circle cx="319.0" cy="118.0" r="0.42"/><circle cx="339.1" cy="123.1" r="0.42"/><circle cx="371.2" cy="124.0" r="0.42"/><circle cx="368.2" cy="123.1" r="0.42"/><circle cx="303.9" cy="117.9" r="0.42"/><circle cx="331.2" cy="119.8" r="0.42"/><circle cx="295.3" cy="119.3" r="0.42"/><circle cx="373.7" cy="120.2" r="0.42"/><circle cx="410.6" cy="103.5" r="0.42"/><circle cx="350.2" cy="124.8" r="0.42"/><circle cx="305.1" cy="114.6" r="0.42"/><circle cx="314.6" cy="116.5" r="0.42"/><circle cx="369.3" cy="115.6" r="0.42"/><circle cx="365.5" cy="115.0" r="0.42"/><circle cx="364.2" cy="117.9" r="0.42"/><circle cx="368.7" cy="115.9" r="0.42"/><circle cx="349.9" cy="125.3" r="0.42"/><circle cx="344.1" cy="125.4" r="0.42"/><circle cx="331.3" cy="116.5" r="0.42"/><circle cx="392.4" cy="109.8" r="0.42"/><circle cx="346.4" cy="126.1" r="0.42"/><circle cx="329.3" cy="117.8" r="0.42"/><circle cx="338.7" cy="123.2" r="0.42"/><circle cx="356.7" cy="122.1" r="0.42"/><circle cx="307.6" cy="118.7" r="0.42"/><circle cx="366.5" cy="121.8" r="0.42"/><circle cx="415.6" cy="118.7" r="0.42"/><circle cx="383.8" cy="104.4" r="0.42"/><circle cx="340.6" cy="125.4" r="0.42"/><circle cx="357.6" cy="121.3" r="0.42"/><circle cx="410.6" cy="112.3" r="0.42"/><circle cx="294.7" cy="114.0" r="0.42"/><circle cx="360.4" cy="116.1" r="0.42"/><circle cx="333.3" cy="122.8" r="0.42"/><circle cx="361.7" cy="123.8" r="0.42"/><circle cx="410.9" cy="114.3" r="0.42"/><circle cx="377.4" cy="106.6" r="0.42"/><circle cx="294.6" cy="122.5" r="0.42"/><circle cx="370.7" cy="112.2" r="0.42"/><circle cx="330.6" cy="117.2" r="0.42"/><circle cx="364.2" cy="116.2" r="0.42"/><circle cx="388.6" cy="101.3" r="0.42"/><circle cx="337.4" cy="122.0" r="0.42"/><circle cx="315.4" cy="120.4" r="0.42"/><circle cx="348.1" cy="125.2" r="0.42"/><circle cx="378.0" cy="116.1" r="0.42"/><circle cx="311.3" cy="114.7" r="0.42"/><circle cx="314.5" cy="115.6" r="0.42"/><circle cx="332.7" cy="120.6" r="0.42"/><circle cx="371.4" cy="124.5" r="0.42"/><circle cx="373.8" cy="109.3" r="0.42"/><circle cx="369.8" cy="117.2" r="0.42"/><circle cx="328.6" cy="122.1" r="0.42"/><circle cx="377.7" cy="120.2" r="0.42"/><circle cx="363.3" cy="118.2" r="0.42"/><circle cx="338.6" cy="124.2" r="0.42"/><circle cx="349.6" cy="125.1" r="0.42"/><circle cx="346.4" cy="125.4" r="0.42"/><circle cx="364.5" cy="118.7" r="0.42"/><circle cx="308.4" cy="120.7" r="0.42"/><circle cx="328.6" cy="117.8" r="0.42"/><circle cx="361.0" cy="116.5" r="0.42"/><circle cx="330.9" cy="120.4" r="0.42"/><circle cx="323.6" cy="120.4" r="0.42"/><circle cx="367.0" cy="114.5" r="0.42"/><circle cx="375.7" cy="106.9" r="0.42"/><circle cx="384.9" cy="109.6" r="0.42"/><circle cx="372.7" cy="111.7" r="0.42"/><circle cx="351.1" cy="125.8" r="0.42"/><circle cx="356.8" cy="123.3" r="0.42"/><circle cx="402.2" cy="100.9" r="0.42"/><circle cx="342.7" cy="124.6" r="0.42"/><circle cx="350.8" cy="124.6" r="0.42"/><circle cx="324.7" cy="121.4" r="0.42"/><circle cx="381.7" cy="106.1" r="0.42"/><circle cx="321.9" cy="118.3" r="0.42"/><circle cx="383.0" cy="117.2" r="0.42"/><circle cx="358.1" cy="122.5" r="0.42"/><circle cx="360.4" cy="119.4" r="0.42"/><circle cx="343.1" cy="125.1" r="0.42"/><circle cx="363.5" cy="114.1" r="0.42"/><circle cx="339.1" cy="122.3" r="0.42"/><circle cx="377.2" cy="109.9" r="0.42"/><circle cx="329.1" cy="122.3" r="0.42"/><circle cx="355.4" cy="125.4" r="0.42"/><circle cx="351.0" cy="125.1" r="0.42"/><circle cx="312.5" cy="119.0" r="0.42"/><circle cx="363.6" cy="121.1" r="0.42"/><circle cx="351.9" cy="124.3" r="0.42"/><circle cx="428.8" cy="116.3" r="0.42"/><circle cx="364.2" cy="124.6" r="0.42"/><circle cx="335.1" cy="119.0" r="0.42"/><circle cx="353.2" cy="124.3" r="0.42"/><circle cx="351.9" cy="124.2" r="0.42"/><circle cx="353.2" cy="124.2" r="0.42"/><circle cx="368.6" cy="117.8" r="0.42"/><circle cx="358.3" cy="119.6" r="0.42"/><circle cx="332.9" cy="122.5" r="0.42"/><circle cx="330.0" cy="121.5" r="0.42"/><circle cx="376.2" cy="109.0" r="0.42"/><circle cx="362.8" cy="117.0" r="0.42"/><circle cx="311.3" cy="120.9" r="0.42"/><circle cx="367.2" cy="118.2" r="0.42"/><circle cx="376.2" cy="120.2" r="0.42"/><circle cx="370.5" cy="111.5" r="0.42"/><circle cx="368.8" cy="119.1" r="0.42"/><circle cx="335.2" cy="121.4" r="0.42"/><circle cx="354.0" cy="125.5" r="0.42"/><circle cx="388.2" cy="107.7" r="0.42"/><circle cx="355.6" cy="123.6" r="0.42"/><circle cx="321.4" cy="114.4" r="0.42"/><circle cx="400.3" cy="122.5" r="0.42"/><circle cx="327.1" cy="121.5" r="0.42"/><circle cx="372.4" cy="115.3" r="0.42"/><circle cx="307.3" cy="122.1" r="0.42"/><circle cx="388.2" cy="106.0" r="0.42"/><circle cx="372.0" cy="113.8" r="0.42"/><circle cx="332.2" cy="117.2" r="0.42"/><circle cx="327.1" cy="119.0" r="0.42"/><circle cx="363.7" cy="121.4" r="0.42"/><circle cx="394.1" cy="119.2" r="0.42"/><circle cx="313.8" cy="124.5" r="0.42"/><circle cx="357.3" cy="121.0" r="0.42"/><circle cx="383.7" cy="110.6" r="0.42"/><circle cx="375.3" cy="116.9" r="0.42"/><circle cx="347.2" cy="124.3" r="0.42"/><circle cx="333.4" cy="117.6" r="0.42"/><circle cx="302.2" cy="122.8" r="0.42"/><circle cx="364.9" cy="120.2" r="0.42"/><circle cx="324.6" cy="123.8" r="0.42"/><circle cx="345.5" cy="125.4" r="0.42"/><circle cx="337.6" cy="121.5" r="0.42"/><circle cx="360.3" cy="119.2" r="0.42"/><circle cx="316.3" cy="117.0" r="0.42"/><circle cx="370.8" cy="113.1" r="0.42"/><circle cx="395.4" cy="109.6" r="0.42"/><circle cx="350.3" cy="126.1" r="0.42"/><circle cx="291.8" cy="110.9" r="0.42"/><circle cx="313.6" cy="123.4" r="0.42"/><circle cx="334.6" cy="118.2" r="0.42"/><circle cx="330.4" cy="122.6" r="0.42"/><circle cx="311.3" cy="117.2" r="0.42"/><circle cx="370.2" cy="119.4" r="0.42"/><circle cx="351.7" cy="125.1" r="0.42"/><circle cx="325.9" cy="121.3" r="0.42"/><circle cx="336.7" cy="123.5" r="0.42"/><circle cx="340.1" cy="123.3" r="0.42"/><circle cx="343.1" cy="125.3" r="0.42"/><circle cx="365.6" cy="122.2" r="0.42"/><circle cx="305.6" cy="114.6" r="0.42"/><circle cx="385.8" cy="101.8" r="0.42"/><circle cx="345.5" cy="124.9" r="0.42"/><circle cx="362.5" cy="124.7" r="0.42"/><circle cx="330.3" cy="121.3" r="0.42"/><circle cx="368.1" cy="119.0" r="0.42"/><circle cx="387.8" cy="119.8" r="0.42"/><circle cx="341.2" cy="124.3" r="0.42"/><circle cx="332.5" cy="124.1" r="0.42"/><circle cx="352.4" cy="124.5" r="0.42"/><circle cx="317.3" cy="115.9" r="0.42"/><circle cx="336.8" cy="121.1" r="0.42"/><circle cx="325.3" cy="120.5" r="0.42"/><circle cx="343.9" cy="125.5" r="0.42"/><circle cx="329.2" cy="123.6" r="0.42"/><circle cx="367.3" cy="112.4" r="0.42"/><circle cx="325.5" cy="124.3" r="0.42"/><circle cx="330.7" cy="116.6" r="0.42"/><circle cx="338.1" cy="123.6" r="0.42"/><circle cx="324.0" cy="122.5" r="0.42"/><circle cx="350.4" cy="125.6" r="0.42"/><circle cx="296.1" cy="122.6" r="0.42"/><circle cx="379.7" cy="115.9" r="0.42"/><circle cx="335.6" cy="122.9" r="0.42"/><circle cx="390.8" cy="100.9" r="0.42"/><circle cx="298.4" cy="117.0" r="0.42"/><circle cx="366.3" cy="121.3" r="0.42"/><circle cx="314.2" cy="115.3" r="0.42"/><circle cx="360.3" cy="120.0" r="0.42"/><circle cx="316.9" cy="115.0" r="0.42"/><circle cx="328.0" cy="119.1" r="0.42"/><circle cx="311.0" cy="113.7" r="0.42"/><circle cx="381.5" cy="115.4" r="0.42"/><circle cx="319.5" cy="122.5" r="0.42"/><circle cx="355.4" cy="123.2" r="0.42"/><circle cx="344.7" cy="124.9" r="0.42"/><circle cx="340.7" cy="123.7" r="0.42"/><circle cx="375.3" cy="125.2" r="0.42"/><circle cx="342.3" cy="124.6" r="0.42"/><circle cx="391.9" cy="104.9" r="0.42"/><circle cx="393.9" cy="115.1" r="0.42"/><circle cx="325.1" cy="116.1" r="0.42"/><circle cx="376.5" cy="118.0" r="0.42"/><circle cx="302.2" cy="114.0" r="0.42"/><circle cx="366.3" cy="113.6" r="0.42"/><circle cx="335.3" cy="123.2" r="0.42"/><circle cx="342.8" cy="125.6" r="0.42"/><circle cx="370.3" cy="112.2" r="0.42"/><circle cx="357.0" cy="123.5" r="0.42"/><circle cx="401.6" cy="101.1" r="0.42"/><circle cx="331.5" cy="119.4" r="0.42"/><circle cx="399.2" cy="112.7" r="0.42"/><circle cx="346.8" cy="124.7" r="0.42"/><circle cx="349.5" cy="125.9" r="0.42"/><circle cx="380.5" cy="111.2" r="0.42"/><circle cx="362.4" cy="118.7" r="0.42"/><circle cx="334.3" cy="119.0" r="0.42"/><circle cx="354.3" cy="123.1" r="0.42"/><circle cx="312.5" cy="113.8" r="0.42"/><circle cx="356.2" cy="121.9" r="0.42"/><circle cx="351.0" cy="125.6" r="0.42"/><circle cx="356.7" cy="121.0" r="0.42"/><circle cx="357.5" cy="124.4" r="0.42"/><circle cx="348.4" cy="124.7" r="0.42"/></g>
<g fill="#999" fill-opacity="0.5"><circle cx="214.0" cy="108.0" r="0.5"/><circle cx="222.0" cy="112.0" r="0.5"/><circle cx="229.0" cy="104.0" r="0.5"/><circle cx="236.0" cy="98.0" r="0.5"/><circle cx="246.0" cy="118.0" r="0.5"/><circle cx="256.0" cy="108.0" r="0.5"/><circle cx="262.0" cy="95.0" r="0.5"/><circle cx="269.0" cy="113.0" r="0.5"/><circle cx="278.0" cy="118.0" r="0.5"/><circle cx="286.0" cy="104.0" r="0.5"/><circle cx="293.0" cy="114.0" r="0.5"/><circle cx="299.0" cy="97.0" r="0.5"/><circle cx="405.0" cy="76.0" r="0.5"/><circle cx="419.0" cy="92.0" r="0.5"/><circle cx="426.0" cy="98.0" r="0.5"/><circle cx="440.0" cy="90.0" r="0.5"/><circle cx="448.0" cy="104.0" r="0.5"/><circle cx="452.0" cy="111.0" r="0.5"/><circle cx="461.0" cy="108.0" r="0.5"/><circle cx="468.0" cy="117.0" r="0.5"/><circle cx="474.0" cy="102.0" r="0.5"/><circle cx="485.0" cy="110.0" r="0.5"/><circle cx="492.0" cy="118.0" r="0.5"/><circle cx="430.0" cy="117.0" r="0.5"/><circle cx="442.0" cy="118.0" r="0.5"/><circle cx="456.0" cy="120.0" r="0.5"/><circle cx="398.0" cy="85.0" r="0.5"/><circle cx="411.0" cy="80.0" r="0.5"/><circle cx="434.0" cy="96.0" r="0.5"/><circle cx="414.0" cy="103.0" r="0.5"/><circle cx="398.0" cy="100.0" r="0.5"/></g>
<line x1="39.50" y1="131.80" x2="504.00" y2="131.80" stroke="#333" stroke-width="1"/>
<line x1="212.76" y1="131.80" x2="212.76" y2="134.60" stroke="#333" stroke-width="0.8"/>
<text x="212.76" y="142.73" font-size="6.2" text-anchor="middle" fill="#333">0.85</text>
<line x1="347.50" y1="131.80" x2="347.50" y2="134.60" stroke="#333" stroke-width="0.8"/>
<text x="347.50" y="142.73" font-size="6.2" text-anchor="middle" fill="#333">1</text>
<line x1="498.66" y1="131.80" x2="498.66" y2="134.60" stroke="#333" stroke-width="0.8"/>
<text x="498.66" y="142.73" font-size="6.2" text-anchor="middle" fill="#333">1.2</text>
<text x="236.00" y="154.20" font-size="8.2" font-weight="bold" fill="#2a2a2a" textLength="72.00" lengthAdjust="spacingAndGlyphs">Fold change (BL vs month 3)</text>
<circle cx="188.20" cy="29.90" r="1.25" fill="#1e2258"/>
<text x="192.00" y="30.27" font-size="6.3" fill="#4558a8" textLength="7.67" lengthAdjust="spacingAndGlyphs">C9</text>
<circle cx="201.10" cy="40.80" r="1.25" fill="#1e2258"/>
<text x="204.20" y="40.77" font-size="6.3" fill="#4558a8" textLength="7.67" lengthAdjust="spacingAndGlyphs">C9</text>
<circle cx="284.50" cy="70.75" r="1.25" fill="#1e2258"/>
<text x="278.00" y="68.77" font-size="6.3" fill="#4558a8" textLength="12.00" lengthAdjust="spacingAndGlyphs">CFB</text>
<circle cx="301.30" cy="83.00" r="1.25" fill="#1e2258"/>
<text x="297.00" y="81.57" font-size="6.3" fill="#4558a8" textLength="11.67" lengthAdjust="spacingAndGlyphs">C1S</text>
<circle cx="209.50" cy="95.75" r="1.25" fill="#1e2258"/>
<text x="203.00" y="94.27" font-size="6.3" fill="#4558a8" textLength="20.00" lengthAdjust="spacingAndGlyphs">CFHR4</text>
<circle cx="301.50" cy="100.00" r="1.25" fill="#1e2258"/>
<text x="292.30" y="98.47" font-size="6.3" fill="#4558a8" textLength="15.67" lengthAdjust="spacingAndGlyphs">FCN1</text>
<circle cx="303.00" cy="101.20" r="1.25" fill="#1e2258"/>
<circle cx="288.20" cy="110.30" r="1.25" fill="#1e2258"/>
<text x="274.20" y="107.67" font-size="6.3" fill="#4558a8" textLength="15.67" lengthAdjust="spacingAndGlyphs">MBL2</text>
<circle cx="303.40" cy="112.00" r="1.25" fill="#1e2258"/>
<text x="297.00" y="107.67" font-size="6.3" fill="#4558a8" textLength="19.23" lengthAdjust="spacingAndGlyphs">C4BPA</text>
<text x="301.00" y="118.57" font-size="6.3" fill="#4558a8" textLength="15.34" lengthAdjust="spacingAndGlyphs">C1RL</text>
<circle cx="264.60" cy="123.80" r="1.25" fill="#1e2258"/>
<text x="253.50" y="123.77" font-size="6.3" fill="#4558a8" textLength="7.67" lengthAdjust="spacingAndGlyphs">C3</text>
<circle cx="280.00" cy="119.20" r="1.25" fill="#1e2258"/>
<text x="283.50" y="121.77" font-size="6.3" fill="#4558a8" textLength="7.67" lengthAdjust="spacingAndGlyphs">C3</text>
<circle cx="60.50" cy="54.50" r="1.25" fill="#a81e28"/>
<text x="66.00" y="55.27" font-size="6.3" fill="#dc4038" textLength="12.67" lengthAdjust="spacingAndGlyphs">CRP</text>
<circle cx="196.50" cy="60.00" r="1.25" fill="#a81e28"/>
<text x="200.00" y="59.27" font-size="6.3" fill="#dc4038" textLength="8.34" lengthAdjust="spacingAndGlyphs">HP</text>
<circle cx="223.75" cy="69.25" r="1.25" fill="#a81e28"/>
<text x="218.00" y="66.77" font-size="6.3" fill="#dc4038" textLength="15.34" lengthAdjust="spacingAndGlyphs">CST7</text>
<circle cx="188.00" cy="79.25" r="1.25" fill="#a81e28"/>
<text x="186.50" y="77.27" font-size="6.3" fill="#dc4038" textLength="12.34" lengthAdjust="spacingAndGlyphs">HPX</text>
<circle cx="239.00" cy="79.00" r="1.25" fill="#a81e28"/>
<text x="237.00" y="76.27" font-size="6.3" fill="#dc4038" textLength="8.34" lengthAdjust="spacingAndGlyphs">HP</text>
<circle cx="189.00" cy="89.50" r="1.25" fill="#a81e28"/>
<text x="180.00" y="87.27" font-size="6.3" fill="#dc4038" textLength="19.56" lengthAdjust="spacingAndGlyphs">PRTN3</text>
<circle cx="207.00" cy="103.25" r="1.25" fill="#a81e28"/>
<text x="196.00" y="102.27" font-size="6.3" fill="#dc4038" textLength="29.34" lengthAdjust="spacingAndGlyphs">CRISPLD2</text>
<circle cx="277.20" cy="100.20" r="1.25" fill="#a81e28"/>
<text x="254.60" y="98.47" font-size="6.3" fill="#dc4038" textLength="19.56" lengthAdjust="spacingAndGlyphs">PRTN3</text>
<circle cx="194.50" cy="111.25" r="1.25" fill="#8e3466"/>
<text x="199.00" y="116.27" font-size="6.3" fill="#b4509a" textLength="17.34" lengthAdjust="spacingAndGlyphs">HAMP</text>
<circle cx="264.90" cy="111.20" r="1.25" fill="#8e3466"/>
<text x="247.00" y="116.07" font-size="6.3" fill="#b4509a" textLength="15.00" lengthAdjust="spacingAndGlyphs">FTH1</text>
<circle cx="434.50" cy="80.25" r="1.25" fill="#8e3466"/>
<text x="427.00" y="77.27" font-size="6.3" fill="#b4509a" textLength="16.67" lengthAdjust="spacingAndGlyphs">ACHE</text>
<circle cx="478.00" cy="116.25" r="1.25" fill="#8e3466"/>
<text x="472.00" y="113.02" font-size="6.3" fill="#b4509a" textLength="12.34" lengthAdjust="spacingAndGlyphs">HBB</text>
<circle cx="422.50" cy="28.00" r="1.3" fill="#1e2258"/>
<text x="427.50" y="30.27" font-size="6.3" textLength="56.57" lengthAdjust="spacingAndGlyphs">Complement pathway</text>
<circle cx="422.50" cy="37.60" r="1.3" fill="#8e3466"/>
<text x="427.50" y="39.87" font-size="6.3" textLength="37.06" lengthAdjust="spacingAndGlyphs">Erythropoiesis</text>
<circle cx="422.50" cy="47.20" r="1.3" fill="#a81e28"/>
<text x="427.50" y="49.47" font-size="6.3" textLength="33.49" lengthAdjust="spacingAndGlyphs">Inflammation</text>
<text x="192.20" y="173.60" font-size="7.9" fill="#1a1a1a" textLength="128.70" lengthAdjust="spacingAndGlyphs">Pathways modulated by canakinumab</text>
<text x="6.80" y="188.00" font-size="10" font-weight="bold" fill="#000">B</text>
<text x="278.00" y="188.20" font-size="10" font-weight="bold" fill="#000">C</text>
<line x1="17.00" y1="191.00" x2="17.00" y2="349.30" stroke="#4a4540" stroke-width="1.1"/>
<rect x="19.80" y="193.90" width="213.70" height="9.00" fill="#a9c6e6" stroke="#9db4e2" stroke-width="0.5"/>
<text x="21.10" y="200.70" font-size="6.1" fill="#1e2946" textLength="107.34" lengthAdjust="spacingAndGlyphs">Complement activation, classical pathway</text>
<circle cx="234.10" cy="198.50" r="1.0" fill="#111"/>
<text x="237.80" y="200.70" font-size="6.1" font-style="italic" fill="#2a2a2a">1.21e−05</text>
<rect x="19.80" y="204.29" width="205.95" height="9.00" fill="#a9c6e6" stroke="#9db4e2" stroke-width="0.5"/>
<text x="21.10" y="211.09" font-size="6.1" fill="#1e2946" textLength="172.78" lengthAdjust="spacingAndGlyphs">Humoral immune response mediated by circulating immunoglobulin</text>
<circle cx="226.35" cy="208.89" r="1.0" fill="#111"/>
<text x="230.05" y="211.09" font-size="6.1" font-style="italic" fill="#2a2a2a">4.27e−06</text>
<rect x="19.80" y="214.68" width="181.70" height="9.00" fill="#a9c6e6" stroke="#9db4e2" stroke-width="0.5"/>
<text x="21.10" y="221.48" font-size="6.1" fill="#1e2946" textLength="58.99" lengthAdjust="spacingAndGlyphs">Complement activation</text>
<circle cx="202.10" cy="219.28" r="1.16" fill="#111"/>
<text x="206.09" y="221.48" font-size="6.1" font-style="italic" fill="#2a2a2a">1.04e−05</text>
<rect x="19.80" y="225.07" width="181.20" height="9.00" fill="#a9c6e6" stroke="#9db4e2" stroke-width="0.5"/>
<text x="21.10" y="231.87" font-size="6.1" fill="#1e2946" textLength="93.49" lengthAdjust="spacingAndGlyphs">Regulation of complement activation</text>
<circle cx="201.60" cy="229.67" r="1.0" fill="#111"/>
<text x="205.30" y="231.87" font-size="6.1" font-style="italic" fill="#2a2a2a">2.82e−04</text>
<rect x="19.80" y="235.46" width="180.20" height="9.00" fill="#a9c6e6" stroke="#9db4e2" stroke-width="0.5"/>
<text x="21.10" y="242.26" font-size="6.1" fill="#1e2946" textLength="102.85" lengthAdjust="spacingAndGlyphs">Regulation of protein activation cascade</text>
<circle cx="200.60" cy="240.06" r="1.0" fill="#111"/>
<text x="204.30" y="242.26" font-size="6.1" font-style="italic" fill="#2a2a2a">2.88e−04</text>
<rect x="19.80" y="245.85" width="174.20" height="9.00" fill="#a9c6e6" stroke="#9db4e2" stroke-width="0.5"/>
<text x="21.10" y="252.65" font-size="6.1" fill="#1e2946" textLength="67.70" lengthAdjust="spacingAndGlyphs">Protein activation cascade</text>
<circle cx="194.60" cy="250.45" r="1.16" fill="#111"/>
<text x="198.59" y="252.65" font-size="6.1" font-style="italic" fill="#2a2a2a">1.61e−06</text>
<rect x="19.80" y="256.24" width="173.20" height="9.00" fill="#a9c6e6" stroke="#9db4e2" stroke-width="0.5"/>
<text x="21.10" y="263.04" font-size="6.1" fill="#1e2946" textLength="104.45" lengthAdjust="spacingAndGlyphs">Regulation of humoral immune response</text>
<circle cx="193.60" cy="260.84" r="1.0" fill="#111"/>
<text x="197.30" y="263.04" font-size="6.1" font-style="italic" fill="#2a2a2a">1.36e−04</text>
<rect x="19.80" y="266.63" width="163.20" height="9.00" fill="#a9c6e6" stroke="#9db4e2" stroke-width="0.5"/>
<text x="21.10" y="273.43" font-size="6.1" fill="#1e2946" textLength="75.11" lengthAdjust="spacingAndGlyphs">Acute inflammatory response</text>
<circle cx="183.60" cy="271.23" r="1.32" fill="#111"/>
<text x="187.88" y="273.43" font-size="6.1" font-style="italic" fill="#2a2a2a">6.32e−07</text>
<rect x="19.80" y="277.02" width="162.70" height="9.00" fill="#a9c6e6" stroke="#9db4e2" stroke-width="0.5"/>
<text x="21.10" y="283.82" font-size="6.1" fill="#1e2946" textLength="114.44" lengthAdjust="spacingAndGlyphs">Immunoglobulin-mediated immune response</text>
<circle cx="183.10" cy="281.62" r="1.16" fill="#111"/>
<text x="187.09" y="283.82" font-size="6.1" font-style="italic" fill="#2a2a2a">3.78e−04</text>
<rect x="19.80" y="287.41" width="149.70" height="9.00" fill="#a9c6e6" stroke="#9db4e2" stroke-width="0.5"/>
<text x="21.10" y="294.21" font-size="6.1" fill="#1e2946" textLength="69.62" lengthAdjust="spacingAndGlyphs">Humoral immune response</text>
<circle cx="170.10" cy="292.01" r="1.48" fill="#111"/>
<text x="174.66" y="294.21" font-size="6.1" font-style="italic" fill="#2a2a2a">6.32e−07</text>
<rect x="19.80" y="297.80" width="126.70" height="9.00" fill="#a9c6e6" stroke="#9db4e2" stroke-width="0.5"/>
<text x="21.10" y="304.60" font-size="6.1" fill="#1e2946" textLength="94.45" lengthAdjust="spacingAndGlyphs">Regulation of inflammatory response</text>
<circle cx="147.10" cy="302.40" r="1.56" fill="#111"/>
<text x="151.81" y="304.60" font-size="6.1" font-style="italic" fill="#2a2a2a">1.04e−05</text>
<rect x="19.80" y="308.19" width="115.20" height="9.00" fill="#a9c6e6" stroke="#9db4e2" stroke-width="0.5"/>
<text x="21.10" y="314.99" font-size="6.1" fill="#1e2946" textLength="58.99" lengthAdjust="spacingAndGlyphs">Inflammatory response</text>
<circle cx="135.60" cy="312.79" r="1.8" fill="#111"/>
<text x="140.74" y="314.99" font-size="6.1" font-style="italic" fill="#2a2a2a">6.32e−07</text>
<rect x="19.80" y="318.58" width="99.70" height="9.00" fill="#a9c6e6" stroke="#9db4e2" stroke-width="0.5"/>
<text x="21.10" y="325.05" font-size="5.2" fill="#1e2946" textLength="96.45" lengthAdjust="spacingAndGlyphs">Regulation of response to external stimulus</text>
<circle cx="120.10" cy="323.18" r="1.8" fill="#111"/>
<text x="125.24" y="325.38" font-size="6.1" font-style="italic" fill="#2a2a2a">1.13e−04</text>
<rect x="19.80" y="328.97" width="97.70" height="9.00" fill="#a9c6e6" stroke="#9db4e2" stroke-width="0.5"/>
<text x="21.10" y="335.77" font-size="6.1" fill="#1e2946" textLength="81.90" lengthAdjust="spacingAndGlyphs">Regulation of defense response</text>
<circle cx="118.10" cy="333.57" r="1.8" fill="#111"/>
<text x="123.24" y="335.77" font-size="6.1" font-style="italic" fill="#2a2a2a">2.82e−04</text>
<rect x="19.80" y="339.36" width="80.20" height="9.00" fill="#a9c6e6" stroke="#9db4e2" stroke-width="0.5"/>
<text x="21.10" y="346.16" font-size="6.1" fill="#1e2946" textLength="47.07" lengthAdjust="spacingAndGlyphs">Defense response</text>
<circle cx="100.60" cy="343.96" r="2.2" fill="#111"/>
<text x="106.46" y="346.16" font-size="6.1" font-style="italic" fill="#2a2a2a">1.12e−04</text>
<line x1="288.30" y1="191.00" x2="288.30" y2="349.30" stroke="#4a4540" stroke-width="1.1"/>
<rect x="290.50" y="193.90" width="187.50" height="9.00" fill="#f28b8b" stroke="#ea8080" stroke-width="0.5"/>
<text x="291.80" y="200.70" font-size="6.1" fill="#561212" textLength="117.65" lengthAdjust="spacingAndGlyphs">Aromatic amino acid family metabolic process</text>
<circle cx="478.60" cy="198.50" r="0.95" fill="#111"/>
<text x="482.21" y="200.70" font-size="6.1" font-style="italic" fill="#2a2a2a">7.49e−03</text>
<rect x="290.50" y="204.29" width="164.50" height="9.00" fill="#f28b8b" stroke="#ea8080" stroke-width="0.5"/>
<text x="291.80" y="211.09" font-size="6.1" fill="#561212" textLength="129.76" lengthAdjust="spacingAndGlyphs">Pteridine−containing compound metabolic process</text>
<circle cx="455.60" cy="208.89" r="0.95" fill="#111"/>
<text x="459.21" y="211.09" font-size="6.1" font-style="italic" fill="#2a2a2a">2.79e−02</text>
<rect x="290.50" y="214.68" width="149.50" height="9.00" fill="#f28b8b" stroke="#ea8080" stroke-width="0.5"/>
<text x="291.80" y="221.48" font-size="6.1" fill="#561212" textLength="92.69" lengthAdjust="spacingAndGlyphs">Alpha−amino acid catabolic process</text>
<circle cx="440.60" cy="219.28" r="0.989" fill="#111"/>
<text x="444.28" y="221.48" font-size="6.1" font-style="italic" fill="#2a2a2a">2.71e−02</text>
<rect x="290.50" y="225.07" width="141.50" height="9.00" fill="#f28b8b" stroke="#ea8080" stroke-width="0.5"/>
<text x="291.80" y="231.87" font-size="6.1" fill="#561212" textLength="95.74" lengthAdjust="spacingAndGlyphs">Cellular amino acid catabolic process</text>
<circle cx="432.60" cy="229.67" r="0.989" fill="#111"/>
<text x="436.28" y="231.87" font-size="6.1" font-style="italic" fill="#2a2a2a">4.57e−02</text>
<rect x="290.50" y="235.46" width="132.00" height="9.00" fill="#f28b8b" stroke="#ea8080" stroke-width="0.5"/>
<text x="291.80" y="242.26" font-size="6.1" fill="#561212" textLength="58.99" lengthAdjust="spacingAndGlyphs">Drug catabolic process</text>
<circle cx="423.10" cy="240.06" r="1.028" fill="#111"/>
<text x="426.85" y="242.26" font-size="6.1" font-style="italic" fill="#2a2a2a">1.64e−02</text>
<rect x="290.50" y="245.85" width="125.50" height="9.00" fill="#f28b8b" stroke="#ea8080" stroke-width="0.5"/>
<text x="291.80" y="252.65" font-size="6.1" fill="#561212" textLength="94.62" lengthAdjust="spacingAndGlyphs">Alpha−amino acid metabolic process</text>
<circle cx="416.60" cy="250.45" r="1.067" fill="#111"/>
<text x="420.42" y="252.65" font-size="6.1" font-style="italic" fill="#2a2a2a">1.61e−02</text>
<rect x="290.50" y="256.24" width="108.50" height="9.00" fill="#f28b8b" stroke="#ea8080" stroke-width="0.5"/>
<text x="291.80" y="263.04" font-size="6.1" fill="#561212" textLength="97.67" lengthAdjust="spacingAndGlyphs">Cellular amino acid metabolic process</text>
<circle cx="399.60" cy="260.84" r="1.145" fill="#111"/>
<text x="403.56" y="263.04" font-size="6.1" font-style="italic" fill="#2a2a2a">7.49e−03</text>
<rect x="290.50" y="266.63" width="90.50" height="9.00" fill="#f28b8b" stroke="#ea8080" stroke-width="0.5"/>
<text x="292.30" y="271.03" font-size="5.0" fill="#561212" textLength="59.84" lengthAdjust="spacingAndGlyphs">Carboxylic acid biosynthetic</text>
<text x="292.30" y="274.63" font-size="5.0" fill="#561212" textLength="16.98" lengthAdjust="spacingAndGlyphs">process</text>
<circle cx="381.60" cy="271.23" r="1.3399999999999999" fill="#111"/>
<text x="385.91" y="273.43" font-size="6.1" font-style="italic" fill="#2a2a2a">2.79e−02</text>
<rect x="290.50" y="277.02" width="90.50" height="9.00" fill="#f28b8b" stroke="#ea8080" stroke-width="0.5"/>
<text x="291.80" y="283.82" font-size="6.1" fill="#561212" textLength="86.71" lengthAdjust="spacingAndGlyphs">Organic acid biosynthetic process</text>
<circle cx="381.60" cy="281.62" r="1.3399999999999999" fill="#111"/>
<text x="385.91" y="283.82" font-size="6.1" font-style="italic" fill="#2a2a2a">2.79e−02</text>
<rect x="290.50" y="287.41" width="88.50" height="9.00" fill="#f28b8b" stroke="#ea8080" stroke-width="0.5"/>
<text x="291.80" y="294.21" font-size="6.1" fill="#561212" textLength="87.68" lengthAdjust="spacingAndGlyphs">Carboxylic acid metabolic process</text>
<circle cx="379.60" cy="292.01" r="1.535" fill="#111"/>
<text x="384.26" y="294.21" font-size="6.1" font-style="italic" fill="#2a2a2a">3.02e−05</text>
<rect x="290.50" y="297.80" width="82.00" height="9.00" fill="#f28b8b" stroke="#ea8080" stroke-width="0.5"/>
<text x="291.80" y="304.60" font-size="6.1" fill="#561212" textLength="69.63" lengthAdjust="spacingAndGlyphs">Oxoacid metabolic process</text>
<circle cx="373.10" cy="302.40" r="1.73" fill="#111"/>
<text x="378.11" y="304.60" font-size="6.1" font-style="italic" fill="#2a2a2a">6.05e−05</text>
<rect x="290.50" y="308.19" width="81.50" height="9.00" fill="#f28b8b" stroke="#ea8080" stroke-width="0.5"/>
<text x="292.30" y="312.59" font-size="5.0" fill="#561212" textLength="49.33" lengthAdjust="spacingAndGlyphs">Organic acid metabolic</text>
<text x="292.30" y="316.19" font-size="5.0" fill="#561212" textLength="16.98" lengthAdjust="spacingAndGlyphs">process</text>
<circle cx="372.60" cy="312.79" r="1.73" fill="#111"/>
<text x="377.61" y="314.99" font-size="6.1" font-style="italic" fill="#2a2a2a">6.15e−05</text>
<rect x="290.50" y="318.58" width="79.00" height="9.00" fill="#f28b8b" stroke="#ea8080" stroke-width="0.5"/>
<text x="291.80" y="325.38" font-size="6.1" fill="#561212" textLength="60.92" lengthAdjust="spacingAndGlyphs">Drug metabolic process</text>
<circle cx="370.10" cy="323.18" r="1.535" fill="#111"/>
<text x="374.76" y="325.38" font-size="6.1" font-style="italic" fill="#2a2a2a">7.49e−03</text>
<rect x="290.50" y="328.97" width="74.50" height="9.00" fill="#f28b8b" stroke="#ea8080" stroke-width="0.5"/>
<text x="292.30" y="333.37" font-size="5.0" fill="#561212" textLength="59.84" lengthAdjust="spacingAndGlyphs">Small molecule biosynthetic</text>
<text x="292.30" y="336.97" font-size="5.0" fill="#561212" textLength="16.98" lengthAdjust="spacingAndGlyphs">process</text>
<circle cx="365.60" cy="333.57" r="1.418" fill="#111"/>
<text x="370.05" y="335.77" font-size="6.1" font-style="italic" fill="#2a2a2a">2.71e−02</text>
<rect x="290.50" y="339.36" width="69.00" height="9.00" fill="#f28b8b" stroke="#ea8080" stroke-width="0.5"/>
<text x="292.30" y="343.76" font-size="5.0" fill="#561212" textLength="54.99" lengthAdjust="spacingAndGlyphs">Small molecule metabolic</text>
<text x="292.30" y="347.36" font-size="5.0" fill="#561212" textLength="16.98" lengthAdjust="spacingAndGlyphs">process</text>
<circle cx="360.10" cy="343.96" r="2.12" fill="#111"/>
<text x="365.82" y="346.16" font-size="6.1" font-style="italic" fill="#2a2a2a">3.02e−05</text>
<line x1="17.00" y1="349.40" x2="246.50" y2="349.40" stroke="#333" stroke-width="1.1"/>
<line x1="19.80" y1="349.40" x2="19.80" y2="351.80" stroke="#333" stroke-width="0.8"/>
<text x="19.80" y="360.89" font-size="5.8" text-anchor="middle" fill="#333">1</text>
<line x1="121.85" y1="349.40" x2="121.85" y2="351.80" stroke="#333" stroke-width="0.8"/>
<text x="121.85" y="360.89" font-size="5.8" text-anchor="middle" fill="#333">5</text>
<line x1="165.80" y1="349.40" x2="165.80" y2="351.80" stroke="#333" stroke-width="0.8"/>
<text x="165.80" y="360.89" font-size="5.8" text-anchor="middle" fill="#333">10</text>
<line x1="209.75" y1="349.40" x2="209.75" y2="351.80" stroke="#333" stroke-width="0.8"/>
<text x="209.75" y="360.89" font-size="5.8" text-anchor="middle" fill="#333">20</text>
<line x1="235.46" y1="349.40" x2="235.46" y2="351.80" stroke="#333" stroke-width="0.8"/>
<text x="235.46" y="360.89" font-size="5.8" text-anchor="middle" fill="#333">30</text>
<text x="112.10" y="372.00" font-size="8.0" font-weight="bold" fill="#2a2a2a" textLength="39.50" lengthAdjust="spacingAndGlyphs">Fold enrichment</text>
<text x="205.50" y="306.70" font-size="6.1" fill="#2a2a2a" textLength="38.50" lengthAdjust="spacingAndGlyphs">No. of proteins</text>
<circle cx="219.40" cy="314.60" r="1.0" fill="#111"/>
<text x="225.00" y="316.80" font-size="6.1" fill="#2a2a2a">10</text>
<circle cx="219.40" cy="324.50" r="1.4" fill="#111"/>
<text x="225.00" y="326.70" font-size="6.1" fill="#2a2a2a">15</text>
<circle cx="219.40" cy="333.90" r="1.8" fill="#111"/>
<text x="225.00" y="336.10" font-size="6.1" fill="#2a2a2a">20</text>
<circle cx="219.40" cy="343.50" r="2.2" fill="#111"/>
<text x="225.00" y="345.70" font-size="6.1" fill="#2a2a2a">25</text>
<line x1="288.30" y1="349.80" x2="497.00" y2="349.80" stroke="#333" stroke-width="1.1"/>
<line x1="290.50" y1="349.80" x2="290.50" y2="352.20" stroke="#333" stroke-width="0.8"/>
<text x="290.50" y="360.49" font-size="5.8" text-anchor="middle" fill="#333">1</text>
<line x1="394.65" y1="349.80" x2="394.65" y2="352.20" stroke="#333" stroke-width="0.8"/>
<text x="394.65" y="360.49" font-size="5.8" text-anchor="middle" fill="#333">5</text>
<line x1="439.50" y1="349.80" x2="439.50" y2="352.20" stroke="#333" stroke-width="0.8"/>
<text x="439.50" y="360.49" font-size="5.8" text-anchor="middle" fill="#333">10</text>
<line x1="484.35" y1="349.80" x2="484.35" y2="352.20" stroke="#333" stroke-width="0.8"/>
<text x="484.35" y="360.49" font-size="5.8" text-anchor="middle" fill="#333">20</text>
<text x="372.60" y="372.00" font-size="8.0" font-weight="bold" fill="#2a2a2a" textLength="39.50" lengthAdjust="spacingAndGlyphs">Fold enrichment</text>
<text x="455.50" y="307.20" font-size="6.1" fill="#2a2a2a" textLength="38.50" lengthAdjust="spacingAndGlyphs">No. of proteins</text>
<circle cx="469.60" cy="314.60" r="0.95" fill="#111"/>
<text x="475.20" y="316.80" font-size="6.1" fill="#2a2a2a">10</text>
<circle cx="469.60" cy="324.40" r="1.3399999999999999" fill="#111"/>
<text x="475.20" y="326.60" font-size="6.1" fill="#2a2a2a">20</text>
<circle cx="469.60" cy="333.80" r="1.73" fill="#111"/>
<text x="475.20" y="336.00" font-size="6.1" fill="#2a2a2a">30</text>
<circle cx="469.60" cy="343.40" r="2.12" fill="#111"/>
<text x="475.20" y="345.60" font-size="6.1" fill="#2a2a2a">40</text>
<text x="6.80" y="394.60" font-size="10" font-weight="bold" fill="#000">D</text>
<text x="296.80" y="394.60" font-size="10" font-weight="bold" fill="#000">E</text>
<text x="47.90" y="394.90" font-size="8.1" fill="#1a1a1a" textLength="191.90" lengthAdjust="spacingAndGlyphs">Treatment effect on regulators of anemia of inflammation</text>
<text x="352.90" y="394.90" font-size="8.1" fill="#1a1a1a" textLength="115.80" lengthAdjust="spacingAndGlyphs">Treatment effect on RBC proteins</text>
<line x1="30.80" y1="428.70" x2="30.80" y2="497.20" stroke="#333" stroke-width="1.1"/>
<line x1="30.80" y1="497.20" x2="93.00" y2="497.20" stroke="#333" stroke-width="1.1"/>
<line x1="28.50" y1="433.80" x2="30.80" y2="433.80" stroke="#333" stroke-width="0.8"/>
<text x="27.50" y="435.96" font-size="6.0" text-anchor="end" fill="#333">3</text>
<line x1="28.50" y1="446.90" x2="30.80" y2="446.90" stroke="#333" stroke-width="0.8"/>
<text x="27.50" y="449.06" font-size="6.0" text-anchor="end" fill="#333">2</text>
<line x1="28.50" y1="460.40" x2="30.80" y2="460.40" stroke="#333" stroke-width="0.8"/>
<text x="27.50" y="462.56" font-size="6.0" text-anchor="end" fill="#333">1</text>
<line x1="28.50" y1="473.80" x2="30.80" y2="473.80" stroke="#333" stroke-width="0.8"/>
<text x="27.50" y="475.96" font-size="6.0" text-anchor="end" fill="#333">0</text>
<line x1="28.50" y1="487.30" x2="30.80" y2="487.30" stroke="#333" stroke-width="0.8"/>
<text x="27.50" y="489.46" font-size="6.0" text-anchor="end" fill="#333">−1</text>
<text x="62.00" y="408.90" font-size="5.8" text-anchor="middle">IL-1β</text>
<text x="62.00" y="416.35" font-size="6.0" text-anchor="middle" textLength="60.30" lengthAdjust="spacingAndGlyphs">Cana-FDR = 1.89e−11</text>
<text x="62.00" y="423.80" font-size="6.0" text-anchor="middle" textLength="56.60" lengthAdjust="spacingAndGlyphs">Plac-FDR = 7.04e−02</text>
<line x1="47.90" y1="439.20" x2="47.90" y2="494.00" stroke="#2a2a2a" stroke-width="0.85"/>
<line x1="47.90" y1="462.40" x2="47.90" y2="466.40" stroke="#1e1e1e" stroke-width="1.5"/>
<line x1="47.90" y1="482.90" x2="47.90" y2="486.90" stroke="#1e1e1e" stroke-width="1.5"/>
<path d="M47.90,465.40 L47.55,465.53 L47.28,465.67 L47.02,465.80 L46.78,465.93 L46.54,466.07 L46.32,466.20 L46.10,466.33 L45.88,466.46 L45.67,466.60 L45.46,466.73 L45.25,466.86 L45.05,467.00 L44.85,467.13 L44.65,467.26 L44.45,467.40 L44.26,467.53 L44.07,467.66 L43.87,467.80 L43.69,467.93 L43.50,468.06 L43.31,468.19 L43.13,468.33 L42.94,468.46 L42.76,468.59 L42.58,468.73 L42.40,468.86 L42.22,468.99 L42.04,469.13 L41.86,469.26 L41.69,469.39 L41.51,469.53 L41.34,469.66 L41.16,469.79 L40.99,469.93 L40.82,470.06 L40.64,470.19 L40.47,470.32 L40.30,470.46 L40.13,470.59 L39.96,470.72 L39.80,470.86 L39.63,470.99 L39.46,471.12 L39.29,471.26 L39.13,471.39 L38.96,471.52 L38.80,471.66 L38.63,471.79 L38.47,471.92 L38.31,472.05 L38.14,472.19 L37.98,472.32 L37.82,472.45 L37.66,472.59 L37.50,472.72 L37.34,472.85 L37.18,472.99 L37.02,473.12 L36.86,473.25 L36.70,473.39 L36.54,473.52 L36.38,473.65 L36.22,473.78 L36.07,473.92 L35.91,474.05 L35.75,474.18 L35.60,474.32 L35.50,474.40 L35.56,474.45 L35.73,474.58 L35.89,474.72 L36.06,474.85 L36.22,474.98 L36.39,475.12 L36.56,475.25 L36.72,475.38 L36.89,475.52 L37.05,475.65 L37.22,475.78 L37.39,475.91 L37.55,476.05 L37.72,476.18 L37.89,476.31 L38.05,476.45 L38.22,476.58 L38.39,476.71 L38.55,476.85 L38.72,476.98 L38.89,477.11 L39.06,477.25 L39.23,477.38 L39.39,477.51 L39.56,477.64 L39.73,477.78 L39.90,477.91 L40.07,478.04 L40.24,478.18 L40.41,478.31 L40.58,478.44 L40.75,478.58 L40.92,478.71 L41.09,478.84 L41.26,478.98 L41.43,479.11 L41.60,479.24 L41.77,479.37 L41.94,479.51 L42.11,479.64 L42.29,479.77 L42.46,479.91 L42.63,480.04 L42.80,480.17 L42.98,480.31 L43.15,480.44 L43.32,480.57 L43.50,480.71 L43.67,480.84 L43.85,480.97 L44.02,481.11 L44.20,481.24 L44.37,481.37 L44.55,481.50 L44.73,481.64 L44.90,481.77 L45.08,481.90 L45.26,482.04 L45.44,482.17 L45.62,482.30 L45.80,482.44 L45.98,482.57 L46.17,482.70 L46.35,482.84 L46.53,482.97 L46.72,483.10 L46.91,483.23 L47.10,483.37 L47.29,483.50 L47.48,483.63 L47.68,483.77 L47.90,483.90 L47.90,483.90 L48.12,483.77 L48.32,483.63 L48.51,483.50 L48.70,483.37 L48.89,483.23 L49.08,483.10 L49.27,482.97 L49.45,482.84 L49.63,482.70 L49.82,482.57 L50.00,482.44 L50.18,482.30 L50.36,482.17 L50.54,482.04 L50.72,481.90 L50.90,481.77 L51.07,481.64 L51.25,481.50 L51.43,481.37 L51.60,481.24 L51.78,481.11 L51.95,480.97 L52.13,480.84 L52.30,480.71 L52.48,480.57 L52.65,480.44 L52.82,480.31 L53.00,480.17 L53.17,480.04 L53.34,479.91 L53.51,479.77 L53.69,479.64 L53.86,479.51 L54.03,479.37 L54.20,479.24 L54.37,479.11 L54.54,478.98 L54.71,478.84 L54.88,478.71 L55.05,478.58 L55.22,478.44 L55.39,478.31 L55.56,478.18 L55.73,478.04 L55.90,477.91 L56.07,477.78 L56.24,477.64 L56.41,477.51 L56.57,477.38 L56.74,477.25 L56.91,477.11 L57.08,476.98 L57.25,476.85 L57.41,476.71 L57.58,476.58 L57.75,476.45 L57.91,476.31 L58.08,476.18 L58.25,476.05 L58.41,475.91 L58.58,475.78 L58.75,475.65 L58.91,475.52 L59.08,475.38 L59.24,475.25 L59.41,475.12 L59.58,474.98 L59.74,474.85 L59.91,474.72 L60.07,474.58 L60.24,474.45 L60.30,474.40 L60.20,474.32 L60.05,474.18 L59.89,474.05 L59.73,473.92 L59.58,473.78 L59.42,473.65 L59.26,473.52 L59.10,473.39 L58.94,473.25 L58.78,473.12 L58.62,472.99 L58.46,472.85 L58.30,472.72 L58.14,472.59 L57.98,472.45 L57.82,472.32 L57.66,472.19 L57.49,472.05 L57.33,471.92 L57.17,471.79 L57.00,471.66 L56.84,471.52 L56.67,471.39 L56.51,471.26 L56.34,471.12 L56.17,470.99 L56.00,470.86 L55.84,470.72 L55.67,470.59 L55.50,470.46 L55.33,470.32 L55.16,470.19 L54.98,470.06 L54.81,469.93 L54.64,469.79 L54.46,469.66 L54.29,469.53 L54.11,469.39 L53.94,469.26 L53.76,469.13 L53.58,468.99 L53.40,468.86 L53.22,468.73 L53.04,468.59 L52.86,468.46 L52.67,468.33 L52.49,468.19 L52.30,468.06 L52.11,467.93 L51.93,467.80 L51.73,467.66 L51.54,467.53 L51.35,467.40 L51.15,467.26 L50.95,467.13 L50.75,467.00 L50.55,466.86 L50.34,466.73 L50.13,466.60 L49.92,466.46 L49.70,466.33 L49.48,466.20 L49.26,466.07 L49.02,465.93 L48.78,465.80 L48.52,465.67 L48.25,465.53 L47.90,465.40Z" fill="#c0102c" stroke="#262626" stroke-width="0.5"/>
<line x1="38.42" y1="472.20" x2="57.38" y2="472.20" stroke="#3a0010" stroke-width="0.5"/>
<line x1="36.11" y1="474.60" x2="59.69" y2="474.60" stroke="#3a0010" stroke-width="0.5"/>
<line x1="39.02" y1="477.00" x2="56.78" y2="477.00" stroke="#3a0010" stroke-width="0.5"/>
<line x1="76.50" y1="430.60" x2="76.50" y2="494.00" stroke="#2a2a2a" stroke-width="0.85"/>
<line x1="76.50" y1="460.50" x2="76.50" y2="464.50" stroke="#1e1e1e" stroke-width="1.5"/>
<line x1="76.50" y1="482.70" x2="76.50" y2="486.70" stroke="#1e1e1e" stroke-width="1.5"/>
<path d="M76.50,463.50 L76.24,463.65 L76.02,463.79 L75.81,463.94 L75.61,464.08 L75.41,464.23 L75.21,464.37 L75.02,464.52 L74.83,464.66 L74.65,464.81 L74.46,464.95 L74.28,465.10 L74.10,465.24 L73.92,465.39 L73.74,465.53 L73.56,465.68 L73.39,465.83 L73.21,465.97 L73.04,466.12 L72.87,466.26 L72.70,466.41 L72.53,466.55 L72.36,466.70 L72.19,466.84 L72.02,466.99 L71.85,467.13 L71.68,467.28 L71.52,467.42 L71.35,467.57 L71.19,467.71 L71.02,467.86 L70.86,468.01 L70.69,468.15 L70.53,468.30 L70.37,468.44 L70.21,468.59 L70.05,468.73 L69.88,468.88 L69.72,469.02 L69.56,469.17 L69.40,469.31 L69.24,469.46 L69.08,469.60 L68.93,469.75 L68.77,469.89 L68.61,470.04 L68.45,470.18 L68.29,470.33 L68.14,470.48 L67.98,470.62 L67.82,470.77 L67.67,470.91 L67.51,471.06 L67.36,471.20 L67.20,471.35 L67.05,471.49 L66.89,471.64 L66.74,471.78 L66.58,471.93 L66.43,472.07 L66.28,472.22 L66.12,472.36 L65.97,472.51 L65.82,472.66 L65.67,472.80 L65.51,472.95 L65.36,473.09 L65.21,473.24 L65.06,473.38 L64.91,473.53 L64.76,473.67 L64.61,473.82 L64.45,473.96 L64.30,474.11 L64.15,474.25 L64.00,474.40 L63.90,474.50 L63.95,474.54 L64.13,474.69 L64.31,474.84 L64.49,474.98 L64.67,475.13 L64.85,475.27 L65.04,475.42 L65.22,475.56 L65.40,475.71 L65.58,475.85 L65.76,476.00 L65.94,476.14 L66.13,476.29 L66.31,476.43 L66.49,476.58 L66.68,476.72 L66.86,476.87 L67.05,477.02 L67.23,477.16 L67.42,477.31 L67.60,477.45 L67.79,477.60 L67.98,477.74 L68.16,477.89 L68.35,478.03 L68.54,478.18 L68.73,478.32 L68.92,478.47 L69.11,478.61 L69.30,478.76 L69.49,478.90 L69.68,479.05 L69.87,479.19 L70.07,479.34 L70.26,479.49 L70.45,479.63 L70.65,479.78 L70.84,479.92 L71.04,480.07 L71.24,480.21 L71.43,480.36 L71.63,480.50 L71.83,480.65 L72.03,480.79 L72.23,480.94 L72.44,481.08 L72.64,481.23 L72.85,481.37 L73.05,481.52 L73.26,481.67 L73.47,481.81 L73.68,481.96 L73.89,482.10 L74.11,482.25 L74.32,482.39 L74.54,482.54 L74.76,482.68 L74.99,482.83 L75.22,482.97 L75.45,483.12 L75.69,483.26 L75.94,483.41 L76.20,483.55 L76.50,483.70 L76.50,483.70 L76.80,483.55 L77.06,483.41 L77.31,483.26 L77.55,483.12 L77.78,482.97 L78.01,482.83 L78.24,482.68 L78.46,482.54 L78.68,482.39 L78.89,482.25 L79.11,482.10 L79.32,481.96 L79.53,481.81 L79.74,481.67 L79.95,481.52 L80.15,481.37 L80.36,481.23 L80.56,481.08 L80.77,480.94 L80.97,480.79 L81.17,480.65 L81.37,480.50 L81.57,480.36 L81.76,480.21 L81.96,480.07 L82.16,479.92 L82.35,479.78 L82.55,479.63 L82.74,479.49 L82.93,479.34 L83.13,479.19 L83.32,479.05 L83.51,478.90 L83.70,478.76 L83.89,478.61 L84.08,478.47 L84.27,478.32 L84.46,478.18 L84.65,478.03 L84.84,477.89 L85.02,477.74 L85.21,477.60 L85.40,477.45 L85.58,477.31 L85.77,477.16 L85.95,477.02 L86.14,476.87 L86.32,476.72 L86.51,476.58 L86.69,476.43 L86.87,476.29 L87.06,476.14 L87.24,476.00 L87.42,475.85 L87.60,475.71 L87.78,475.56 L87.96,475.42 L88.15,475.27 L88.33,475.13 L88.51,474.98 L88.69,474.84 L88.87,474.69 L89.05,474.54 L89.10,474.50 L89.00,474.40 L88.85,474.25 L88.70,474.11 L88.55,473.96 L88.39,473.82 L88.24,473.67 L88.09,473.53 L87.94,473.38 L87.79,473.24 L87.64,473.09 L87.49,472.95 L87.33,472.80 L87.18,472.66 L87.03,472.51 L86.88,472.36 L86.72,472.22 L86.57,472.07 L86.42,471.93 L86.26,471.78 L86.11,471.64 L85.95,471.49 L85.80,471.35 L85.64,471.20 L85.49,471.06 L85.33,470.91 L85.18,470.77 L85.02,470.62 L84.86,470.48 L84.71,470.33 L84.55,470.18 L84.39,470.04 L84.23,469.89 L84.07,469.75 L83.92,469.60 L83.76,469.46 L83.60,469.31 L83.44,469.17 L83.28,469.02 L83.12,468.88 L82.95,468.73 L82.79,468.59 L82.63,468.44 L82.47,468.30 L82.31,468.15 L82.14,468.01 L81.98,467.86 L81.81,467.71 L81.65,467.57 L81.48,467.42 L81.32,467.28 L81.15,467.13 L80.98,466.99 L80.81,466.84 L80.64,466.70 L80.47,466.55 L80.30,466.41 L80.13,466.26 L79.96,466.12 L79.79,465.97 L79.61,465.83 L79.44,465.68 L79.26,465.53 L79.08,465.39 L78.90,465.24 L78.72,465.10 L78.54,464.95 L78.35,464.81 L78.17,464.66 L77.98,464.52 L77.79,464.37 L77.59,464.23 L77.39,464.08 L77.19,463.94 L76.98,463.79 L76.76,463.65 L76.50,463.50Z" fill="#2fa6dc" stroke="#262626" stroke-width="0.5"/>
<line x1="66.71" y1="472.10" x2="86.29" y2="472.10" stroke="#0e2a44" stroke-width="0.5"/>
<line x1="64.58" y1="474.20" x2="88.42" y2="474.20" stroke="#0e2a44" stroke-width="0.5"/>
<line x1="67.56" y1="477.20" x2="85.44" y2="477.20" stroke="#0e2a44" stroke-width="0.5"/>
<line x1="47.90" y1="474.60" x2="76.50" y2="474.30" stroke="#f8d020" stroke-width="1.1" stroke-opacity="0.65"/>
<line x1="47.90" y1="497.20" x2="47.90" y2="499.50" stroke="#333" stroke-width="0.8"/>
<text x="47.60" y="505.66" font-size="6.0" text-anchor="end" fill="#333" transform="rotate(-45 47.60 505.66)">Placebo</text>
<line x1="76.50" y1="497.20" x2="76.50" y2="499.50" stroke="#333" stroke-width="0.8"/>
<text x="76.20" y="505.66" font-size="6.0" text-anchor="end" fill="#333" transform="rotate(-45 76.20 505.66)">Canakinumab</text>
<line x1="115.00" y1="428.00" x2="115.00" y2="497.20" stroke="#333" stroke-width="1.1"/>
<line x1="115.00" y1="497.20" x2="177.30" y2="497.20" stroke="#333" stroke-width="1.1"/>
<line x1="112.70" y1="451.90" x2="115.00" y2="451.90" stroke="#333" stroke-width="0.8"/>
<text x="111.70" y="454.06" font-size="6.0" text-anchor="end" fill="#333">2</text>
<line x1="112.70" y1="471.20" x2="115.00" y2="471.20" stroke="#333" stroke-width="0.8"/>
<text x="111.70" y="473.36" font-size="6.0" text-anchor="end" fill="#333">0</text>
<line x1="112.70" y1="490.40" x2="115.00" y2="490.40" stroke="#333" stroke-width="0.8"/>
<text x="111.70" y="492.56" font-size="6.0" text-anchor="end" fill="#333">−2</text>
<text x="146.00" y="408.90" font-size="5.8" text-anchor="middle">IL-6</text>
<text x="146.00" y="416.35" font-size="6.0" text-anchor="middle" textLength="74.70" lengthAdjust="spacingAndGlyphs">Canakinumab FDR = 6.56e−51</text>
<text x="146.00" y="423.80" font-size="6.0" text-anchor="middle" textLength="66.30" lengthAdjust="spacingAndGlyphs">Placebo FDR = 7.26e−01</text>
<line x1="131.90" y1="446.00" x2="131.90" y2="494.80" stroke="#2a2a2a" stroke-width="0.85"/>
<line x1="131.90" y1="461.10" x2="131.90" y2="465.10" stroke="#1e1e1e" stroke-width="1.5"/>
<line x1="131.90" y1="477.00" x2="131.90" y2="481.00" stroke="#1e1e1e" stroke-width="1.5"/>
<path d="M131.90,464.10 L131.62,464.20 L131.37,464.30 L131.13,464.40 L130.91,464.50 L130.69,464.60 L130.47,464.70 L130.26,464.80 L130.05,464.90 L129.84,465.00 L129.64,465.10 L129.44,465.20 L129.23,465.30 L129.04,465.40 L128.84,465.50 L128.64,465.60 L128.45,465.70 L128.25,465.80 L128.06,465.90 L127.87,466.00 L127.68,466.10 L127.49,466.20 L127.30,466.30 L127.11,466.40 L126.93,466.50 L126.74,466.60 L126.56,466.70 L126.37,466.80 L126.19,466.90 L126.00,467.00 L125.82,467.10 L125.64,467.20 L125.46,467.30 L125.28,467.40 L125.10,467.50 L124.92,467.60 L124.74,467.70 L124.56,467.80 L124.38,467.90 L124.20,468.00 L124.02,468.10 L123.85,468.20 L123.67,468.30 L123.49,468.40 L123.32,468.50 L123.14,468.60 L122.97,468.70 L122.79,468.80 L122.62,468.90 L122.45,469.00 L122.27,469.10 L122.10,469.20 L121.93,469.30 L121.75,469.40 L121.58,469.50 L121.41,469.60 L121.24,469.70 L121.07,469.80 L120.90,469.90 L120.73,470.00 L120.56,470.10 L120.39,470.20 L120.22,470.30 L120.05,470.40 L119.88,470.50 L119.71,470.60 L119.54,470.70 L119.37,470.80 L119.20,470.90 L119.04,471.00 L118.87,471.10 L118.70,471.20 L118.87,471.30 L119.05,471.40 L119.23,471.50 L119.40,471.60 L119.58,471.70 L119.75,471.80 L119.93,471.90 L120.11,472.00 L120.28,472.10 L120.46,472.20 L120.64,472.30 L120.82,472.40 L120.99,472.50 L121.17,472.60 L121.35,472.70 L121.53,472.80 L121.71,472.90 L121.89,473.00 L122.07,473.10 L122.25,473.20 L122.43,473.30 L122.61,473.40 L122.80,473.50 L122.98,473.60 L123.16,473.70 L123.34,473.80 L123.53,473.90 L123.71,474.00 L123.90,474.10 L124.08,474.20 L124.27,474.30 L124.45,474.40 L124.64,474.50 L124.83,474.60 L125.01,474.70 L125.20,474.80 L125.39,474.90 L125.58,475.00 L125.77,475.10 L125.96,475.20 L126.15,475.30 L126.34,475.40 L126.54,475.50 L126.73,475.60 L126.92,475.70 L127.12,475.80 L127.32,475.90 L127.51,476.00 L127.71,476.10 L127.91,476.20 L128.11,476.30 L128.31,476.40 L128.51,476.50 L128.72,476.60 L128.92,476.70 L129.13,476.80 L129.34,476.90 L129.55,477.00 L129.76,477.10 L129.98,477.20 L130.19,477.30 L130.42,477.40 L130.64,477.50 L130.87,477.60 L131.10,477.70 L131.35,477.80 L131.60,477.90 L131.90,478.00 L131.90,478.00 L132.20,477.90 L132.45,477.80 L132.70,477.70 L132.93,477.60 L133.16,477.50 L133.38,477.40 L133.61,477.30 L133.82,477.20 L134.04,477.10 L134.25,477.00 L134.46,476.90 L134.67,476.80 L134.88,476.70 L135.08,476.60 L135.29,476.50 L135.49,476.40 L135.69,476.30 L135.89,476.20 L136.09,476.10 L136.29,476.00 L136.48,475.90 L136.68,475.80 L136.88,475.70 L137.07,475.60 L137.26,475.50 L137.46,475.40 L137.65,475.30 L137.84,475.20 L138.03,475.10 L138.22,475.00 L138.41,474.90 L138.60,474.80 L138.79,474.70 L138.97,474.60 L139.16,474.50 L139.35,474.40 L139.53,474.30 L139.72,474.20 L139.90,474.10 L140.09,474.00 L140.27,473.90 L140.46,473.80 L140.64,473.70 L140.82,473.60 L141.00,473.50 L141.19,473.40 L141.37,473.30 L141.55,473.20 L141.73,473.10 L141.91,473.00 L142.09,472.90 L142.27,472.80 L142.45,472.70 L142.63,472.60 L142.81,472.50 L142.98,472.40 L143.16,472.30 L143.34,472.20 L143.52,472.10 L143.69,472.00 L143.87,471.90 L144.05,471.80 L144.22,471.70 L144.40,471.60 L144.57,471.50 L144.75,471.40 L144.93,471.30 L145.10,471.20 L144.93,471.10 L144.76,471.00 L144.60,470.90 L144.43,470.80 L144.26,470.70 L144.09,470.60 L143.92,470.50 L143.75,470.40 L143.58,470.30 L143.41,470.20 L143.24,470.10 L143.07,470.00 L142.90,469.90 L142.73,469.80 L142.56,469.70 L142.39,469.60 L142.22,469.50 L142.05,469.40 L141.87,469.30 L141.70,469.20 L141.53,469.10 L141.35,469.00 L141.18,468.90 L141.01,468.80 L140.83,468.70 L140.66,468.60 L140.48,468.50 L140.31,468.40 L140.13,468.30 L139.95,468.20 L139.78,468.10 L139.60,468.00 L139.42,467.90 L139.24,467.80 L139.06,467.70 L138.88,467.60 L138.70,467.50 L138.52,467.40 L138.34,467.30 L138.16,467.20 L137.98,467.10 L137.80,467.00 L137.61,466.90 L137.43,466.80 L137.24,466.70 L137.06,466.60 L136.87,466.50 L136.69,466.40 L136.50,466.30 L136.31,466.20 L136.12,466.10 L135.93,466.00 L135.74,465.90 L135.55,465.80 L135.35,465.70 L135.16,465.60 L134.96,465.50 L134.76,465.40 L134.57,465.30 L134.36,465.20 L134.16,465.10 L133.96,465.00 L133.75,464.90 L133.54,464.80 L133.33,464.70 L133.11,464.60 L132.89,464.50 L132.67,464.40 L132.43,464.30 L132.18,464.20 L131.90,464.10Z" fill="#c0102c" stroke="#262626" stroke-width="0.5"/>
<line x1="121.72" y1="469.60" x2="142.08" y2="469.60" stroke="#3a0010" stroke-width="0.5"/>
<line x1="119.10" y1="471.20" x2="144.70" y2="471.20" stroke="#3a0010" stroke-width="0.5"/>
<line x1="122.19" y1="473.00" x2="141.61" y2="473.00" stroke="#3a0010" stroke-width="0.5"/>
<line x1="160.80" y1="430.60" x2="160.80" y2="491.50" stroke="#2a2a2a" stroke-width="0.85"/>
<line x1="160.80" y1="462.50" x2="160.80" y2="466.50" stroke="#1e1e1e" stroke-width="1.5"/>
<line x1="160.80" y1="477.00" x2="160.80" y2="481.00" stroke="#1e1e1e" stroke-width="1.5"/>
<path d="M160.80,465.50 L160.53,465.59 L160.30,465.68 L160.08,465.77 L159.86,465.86 L159.65,465.95 L159.45,466.04 L159.25,466.13 L159.05,466.22 L158.85,466.31 L158.66,466.40 L158.47,466.49 L158.28,466.58 L158.09,466.67 L157.90,466.76 L157.71,466.85 L157.53,466.94 L157.35,467.03 L157.16,467.12 L156.98,467.21 L156.80,467.30 L156.62,467.39 L156.44,467.48 L156.27,467.57 L156.09,467.66 L155.91,467.75 L155.74,467.84 L155.56,467.93 L155.39,468.02 L155.21,468.11 L155.04,468.20 L154.87,468.29 L154.70,468.38 L154.53,468.47 L154.36,468.56 L154.18,468.65 L154.01,468.74 L153.85,468.83 L153.68,468.92 L153.51,469.01 L153.34,469.10 L153.17,469.19 L153.01,469.28 L152.84,469.37 L152.67,469.46 L152.51,469.55 L152.34,469.64 L152.17,469.73 L152.01,469.82 L151.84,469.91 L151.68,470.00 L151.52,470.09 L151.35,470.18 L151.19,470.27 L151.03,470.36 L150.86,470.45 L150.70,470.54 L150.54,470.63 L150.38,470.72 L150.22,470.81 L150.05,470.90 L149.89,470.99 L149.73,471.08 L149.57,471.17 L149.41,471.26 L149.25,471.35 L149.09,471.44 L148.93,471.53 L148.80,471.60 L148.83,471.62 L148.98,471.71 L149.13,471.79 L149.28,471.88 L149.43,471.97 L149.59,472.06 L149.74,472.15 L149.89,472.24 L150.05,472.33 L150.20,472.42 L150.35,472.51 L150.51,472.60 L150.66,472.69 L150.82,472.78 L150.97,472.87 L151.13,472.96 L151.28,473.05 L151.44,473.14 L151.60,473.23 L151.75,473.32 L151.91,473.41 L152.07,473.50 L152.22,473.59 L152.38,473.68 L152.54,473.77 L152.70,473.86 L152.86,473.95 L153.02,474.04 L153.17,474.13 L153.33,474.22 L153.49,474.31 L153.66,474.40 L153.82,474.49 L153.98,474.58 L154.14,474.67 L154.30,474.76 L154.46,474.85 L154.63,474.94 L154.79,475.03 L154.96,475.12 L155.12,475.21 L155.29,475.30 L155.45,475.39 L155.62,475.48 L155.78,475.57 L155.95,475.66 L156.12,475.75 L156.29,475.84 L156.46,475.93 L156.63,476.02 L156.80,476.11 L156.97,476.20 L157.14,476.29 L157.32,476.38 L157.49,476.47 L157.67,476.56 L157.84,476.65 L158.02,476.74 L158.20,476.83 L158.38,476.92 L158.56,477.01 L158.75,477.10 L158.93,477.19 L159.12,477.28 L159.31,477.37 L159.50,477.46 L159.70,477.55 L159.90,477.64 L160.11,477.73 L160.32,477.82 L160.54,477.91 L160.80,478.00 L160.80,478.00 L161.06,477.91 L161.28,477.82 L161.49,477.73 L161.70,477.64 L161.90,477.55 L162.10,477.46 L162.29,477.37 L162.48,477.28 L162.67,477.19 L162.85,477.10 L163.04,477.01 L163.22,476.92 L163.40,476.83 L163.58,476.74 L163.76,476.65 L163.93,476.56 L164.11,476.47 L164.28,476.38 L164.46,476.29 L164.63,476.20 L164.80,476.11 L164.97,476.02 L165.14,475.93 L165.31,475.84 L165.48,475.75 L165.65,475.66 L165.82,475.57 L165.98,475.48 L166.15,475.39 L166.31,475.30 L166.48,475.21 L166.64,475.12 L166.81,475.03 L166.97,474.94 L167.14,474.85 L167.30,474.76 L167.46,474.67 L167.62,474.58 L167.78,474.49 L167.94,474.40 L168.11,474.31 L168.27,474.22 L168.43,474.13 L168.58,474.04 L168.74,473.95 L168.90,473.86 L169.06,473.77 L169.22,473.68 L169.38,473.59 L169.53,473.50 L169.69,473.41 L169.85,473.32 L170.00,473.23 L170.16,473.14 L170.32,473.05 L170.47,472.96 L170.63,472.87 L170.78,472.78 L170.94,472.69 L171.09,472.60 L171.25,472.51 L171.40,472.42 L171.55,472.33 L171.71,472.24 L171.86,472.15 L172.01,472.06 L172.17,471.97 L172.32,471.88 L172.47,471.79 L172.62,471.71 L172.77,471.62 L172.80,471.60 L172.67,471.53 L172.51,471.44 L172.35,471.35 L172.19,471.26 L172.03,471.17 L171.87,471.08 L171.71,470.99 L171.55,470.90 L171.38,470.81 L171.22,470.72 L171.06,470.63 L170.90,470.54 L170.74,470.45 L170.57,470.36 L170.41,470.27 L170.25,470.18 L170.08,470.09 L169.92,470.00 L169.76,469.91 L169.59,469.82 L169.43,469.73 L169.26,469.64 L169.09,469.55 L168.93,469.46 L168.76,469.37 L168.59,469.28 L168.43,469.19 L168.26,469.10 L168.09,469.01 L167.92,468.92 L167.75,468.83 L167.59,468.74 L167.42,468.65 L167.24,468.56 L167.07,468.47 L166.90,468.38 L166.73,468.29 L166.56,468.20 L166.39,468.11 L166.21,468.02 L166.04,467.93 L165.86,467.84 L165.69,467.75 L165.51,467.66 L165.33,467.57 L165.16,467.48 L164.98,467.39 L164.80,467.30 L164.62,467.21 L164.44,467.12 L164.25,467.03 L164.07,466.94 L163.89,466.85 L163.70,466.76 L163.51,466.67 L163.32,466.58 L163.13,466.49 L162.94,466.40 L162.75,466.31 L162.55,466.22 L162.35,466.13 L162.15,466.04 L161.95,465.95 L161.74,465.86 L161.52,465.77 L161.30,465.68 L161.07,465.59 L160.80,465.50Z" fill="#2fa6dc" stroke="#262626" stroke-width="0.5"/>
<line x1="151.77" y1="470.10" x2="169.83" y2="470.10" stroke="#0e2a44" stroke-width="0.5"/>
<line x1="149.49" y1="471.80" x2="172.11" y2="471.80" stroke="#0e2a44" stroke-width="0.5"/>
<line x1="152.15" y1="473.40" x2="169.45" y2="473.40" stroke="#0e2a44" stroke-width="0.5"/>
<line x1="131.90" y1="471.00" x2="160.80" y2="471.80" stroke="#f8d020" stroke-width="1.1" stroke-opacity="0.65"/>
<line x1="131.90" y1="497.20" x2="131.90" y2="499.50" stroke="#333" stroke-width="0.8"/>
<text x="131.60" y="505.66" font-size="6.0" text-anchor="end" fill="#333" transform="rotate(-45 131.60 505.66)">Placebo</text>
<line x1="160.80" y1="497.20" x2="160.80" y2="499.50" stroke="#333" stroke-width="0.8"/>
<text x="160.50" y="505.66" font-size="6.0" text-anchor="end" fill="#333" transform="rotate(-45 160.50 505.66)">Canakinumab</text>
<line x1="208.90" y1="428.30" x2="208.90" y2="497.20" stroke="#333" stroke-width="1.1"/>
<line x1="208.90" y1="497.20" x2="271.00" y2="497.20" stroke="#333" stroke-width="1.1"/>
<line x1="206.60" y1="446.90" x2="208.90" y2="446.90" stroke="#333" stroke-width="0.8"/>
<text x="205.60" y="449.06" font-size="6.0" text-anchor="end" fill="#333">3</text>
<line x1="206.60" y1="466.40" x2="208.90" y2="466.40" stroke="#333" stroke-width="0.8"/>
<text x="205.60" y="468.56" font-size="6.0" text-anchor="end" fill="#333">0</text>
<line x1="206.60" y1="485.20" x2="208.90" y2="485.20" stroke="#333" stroke-width="0.8"/>
<text x="205.60" y="487.36" font-size="6.0" text-anchor="end" fill="#333">−3</text>
<text x="240.40" y="408.90" font-size="5.8" text-anchor="middle">Hepcidin</text>
<text x="240.40" y="416.35" font-size="6.0" text-anchor="middle" textLength="81.60" lengthAdjust="spacingAndGlyphs">Canakinumab FDR = 2.58e−49</text>
<text x="240.40" y="423.80" font-size="6.0" text-anchor="middle" textLength="67.40" lengthAdjust="spacingAndGlyphs">Placebo FDR = 7.65e−03</text>
<line x1="226.00" y1="431.30" x2="226.00" y2="491.80" stroke="#2a2a2a" stroke-width="0.85"/>
<line x1="226.00" y1="454.00" x2="226.00" y2="458.00" stroke="#1e1e1e" stroke-width="1.5"/>
<line x1="226.00" y1="475.50" x2="226.00" y2="479.50" stroke="#1e1e1e" stroke-width="1.5"/>
<path d="M226.00,457.00 L225.71,457.14 L225.46,457.28 L225.22,457.42 L224.98,457.56 L224.76,457.70 L224.54,457.84 L224.32,457.98 L224.10,458.12 L223.89,458.26 L223.68,458.40 L223.47,458.54 L223.27,458.68 L223.06,458.82 L222.86,458.96 L222.66,459.10 L222.46,459.24 L222.26,459.38 L222.06,459.53 L221.87,459.67 L221.67,459.81 L221.48,459.95 L221.29,460.09 L221.09,460.23 L220.90,460.37 L220.71,460.51 L220.52,460.65 L220.33,460.79 L220.14,460.93 L219.95,461.07 L219.77,461.21 L219.58,461.35 L219.39,461.49 L219.21,461.63 L219.02,461.77 L218.84,461.91 L218.66,462.05 L218.47,462.19 L218.29,462.33 L218.11,462.47 L217.93,462.61 L217.74,462.75 L217.56,462.89 L217.38,463.03 L217.20,463.17 L217.02,463.31 L216.84,463.45 L216.66,463.59 L216.49,463.73 L216.31,463.87 L216.13,464.01 L215.95,464.15 L215.77,464.29 L215.60,464.44 L215.42,464.58 L215.25,464.72 L215.07,464.86 L214.89,465.00 L214.72,465.14 L214.54,465.28 L214.37,465.42 L214.19,465.56 L214.02,465.70 L213.85,465.84 L213.67,465.98 L213.50,466.12 L213.40,466.20 L213.46,466.26 L213.62,466.40 L213.77,466.54 L213.93,466.68 L214.08,466.82 L214.24,466.96 L214.40,467.10 L214.55,467.24 L214.71,467.38 L214.86,467.52 L215.02,467.66 L215.18,467.80 L215.34,467.94 L215.49,468.08 L215.65,468.22 L215.81,468.36 L215.97,468.50 L216.13,468.64 L216.28,468.78 L216.44,468.92 L216.60,469.06 L216.76,469.21 L216.92,469.35 L217.08,469.49 L217.24,469.63 L217.40,469.77 L217.57,469.91 L217.73,470.05 L217.89,470.19 L218.05,470.33 L218.22,470.47 L218.38,470.61 L218.54,470.75 L218.71,470.89 L218.87,471.03 L219.03,471.17 L219.20,471.31 L219.37,471.45 L219.53,471.59 L219.70,471.73 L219.87,471.87 L220.03,472.01 L220.20,472.15 L220.37,472.29 L220.54,472.43 L220.71,472.57 L220.88,472.71 L221.05,472.85 L221.22,472.99 L221.39,473.13 L221.57,473.27 L221.74,473.41 L221.92,473.55 L222.09,473.69 L222.27,473.83 L222.44,473.97 L222.62,474.12 L222.80,474.26 L222.98,474.40 L223.16,474.54 L223.35,474.68 L223.53,474.82 L223.72,474.96 L223.91,475.10 L224.09,475.24 L224.29,475.38 L224.48,475.52 L224.68,475.66 L224.88,475.80 L225.08,475.94 L225.29,476.08 L225.51,476.22 L225.74,476.36 L226.00,476.50 L226.00,476.50 L226.26,476.36 L226.49,476.22 L226.71,476.08 L226.92,475.94 L227.12,475.80 L227.32,475.66 L227.52,475.52 L227.71,475.38 L227.91,475.24 L228.09,475.10 L228.28,474.96 L228.47,474.82 L228.65,474.68 L228.84,474.54 L229.02,474.40 L229.20,474.26 L229.38,474.12 L229.56,473.97 L229.73,473.83 L229.91,473.69 L230.08,473.55 L230.26,473.41 L230.43,473.27 L230.61,473.13 L230.78,472.99 L230.95,472.85 L231.12,472.71 L231.29,472.57 L231.46,472.43 L231.63,472.29 L231.80,472.15 L231.97,472.01 L232.13,471.87 L232.30,471.73 L232.47,471.59 L232.63,471.45 L232.80,471.31 L232.97,471.17 L233.13,471.03 L233.29,470.89 L233.46,470.75 L233.62,470.61 L233.78,470.47 L233.95,470.33 L234.11,470.19 L234.27,470.05 L234.43,469.91 L234.60,469.77 L234.76,469.63 L234.92,469.49 L235.08,469.35 L235.24,469.21 L235.40,469.06 L235.56,468.92 L235.72,468.78 L235.87,468.64 L236.03,468.50 L236.19,468.36 L236.35,468.22 L236.51,468.08 L236.66,467.94 L236.82,467.80 L236.98,467.66 L237.14,467.52 L237.29,467.38 L237.45,467.24 L237.60,467.10 L237.76,466.96 L237.92,466.82 L238.07,466.68 L238.23,466.54 L238.38,466.40 L238.54,466.26 L238.60,466.20 L238.50,466.12 L238.33,465.98 L238.15,465.84 L237.98,465.70 L237.81,465.56 L237.63,465.42 L237.46,465.28 L237.28,465.14 L237.11,465.00 L236.93,464.86 L236.75,464.72 L236.58,464.58 L236.40,464.44 L236.23,464.29 L236.05,464.15 L235.87,464.01 L235.69,463.87 L235.51,463.73 L235.34,463.59 L235.16,463.45 L234.98,463.31 L234.80,463.17 L234.62,463.03 L234.44,462.89 L234.26,462.75 L234.07,462.61 L233.89,462.47 L233.71,462.33 L233.53,462.19 L233.34,462.05 L233.16,461.91 L232.98,461.77 L232.79,461.63 L232.61,461.49 L232.42,461.35 L232.23,461.21 L232.05,461.07 L231.86,460.93 L231.67,460.79 L231.48,460.65 L231.29,460.51 L231.10,460.37 L230.91,460.23 L230.71,460.09 L230.52,459.95 L230.33,459.81 L230.13,459.67 L229.94,459.53 L229.74,459.38 L229.54,459.24 L229.34,459.10 L229.14,458.96 L228.94,458.82 L228.73,458.68 L228.53,458.54 L228.32,458.40 L228.11,458.26 L227.90,458.12 L227.68,457.98 L227.46,457.84 L227.24,457.70 L227.02,457.56 L226.78,457.42 L226.54,457.28 L226.29,457.14 L226.00,457.00Z" fill="#c0102c" stroke="#262626" stroke-width="0.5"/>
<line x1="216.44" y1="464.00" x2="235.56" y2="464.00" stroke="#3a0010" stroke-width="0.5"/>
<line x1="213.78" y1="466.20" x2="238.22" y2="466.20" stroke="#3a0010" stroke-width="0.5"/>
<line x1="216.48" y1="468.70" x2="235.52" y2="468.70" stroke="#3a0010" stroke-width="0.5"/>
<line x1="254.80" y1="436.10" x2="254.80" y2="494.70" stroke="#2a2a2a" stroke-width="0.85"/>
<line x1="254.80" y1="455.30" x2="254.80" y2="459.30" stroke="#1e1e1e" stroke-width="1.5"/>
<line x1="254.80" y1="475.20" x2="254.80" y2="479.20" stroke="#1e1e1e" stroke-width="1.5"/>
<path d="M254.80,458.30 L254.54,458.43 L254.31,458.56 L254.09,458.69 L253.88,458.82 L253.67,458.94 L253.47,459.07 L253.28,459.20 L253.08,459.33 L252.89,459.46 L252.70,459.59 L252.51,459.72 L252.33,459.85 L252.14,459.97 L251.96,460.10 L251.77,460.23 L251.59,460.36 L251.41,460.49 L251.24,460.62 L251.06,460.75 L250.88,460.88 L250.70,461.00 L250.53,461.13 L250.36,461.26 L250.18,461.39 L250.01,461.52 L249.84,461.65 L249.67,461.78 L249.49,461.91 L249.32,462.03 L249.15,462.16 L248.99,462.29 L248.82,462.42 L248.65,462.55 L248.48,462.68 L248.31,462.81 L248.15,462.94 L247.98,463.06 L247.82,463.19 L247.65,463.32 L247.49,463.45 L247.32,463.58 L247.16,463.71 L246.99,463.84 L246.83,463.97 L246.67,464.09 L246.51,464.22 L246.34,464.35 L246.18,464.48 L246.02,464.61 L245.86,464.74 L245.70,464.87 L245.54,465.00 L245.38,465.13 L245.22,465.25 L245.06,465.38 L244.90,465.51 L244.74,465.64 L244.58,465.77 L244.42,465.90 L244.27,466.03 L244.11,466.16 L243.95,466.28 L243.79,466.41 L243.64,466.54 L243.48,466.67 L243.32,466.80 L243.20,466.90 L243.23,466.93 L243.38,467.06 L243.52,467.19 L243.67,467.31 L243.81,467.44 L243.96,467.57 L244.10,467.70 L244.25,467.83 L244.40,467.96 L244.54,468.09 L244.69,468.22 L244.84,468.34 L244.98,468.47 L245.13,468.60 L245.28,468.73 L245.43,468.86 L245.57,468.99 L245.72,469.12 L245.87,469.25 L246.02,469.37 L246.17,469.50 L246.32,469.63 L246.47,469.76 L246.62,469.89 L246.77,470.02 L246.92,470.15 L247.07,470.28 L247.22,470.41 L247.37,470.53 L247.53,470.66 L247.68,470.79 L247.83,470.92 L247.98,471.05 L248.14,471.18 L248.29,471.31 L248.45,471.44 L248.60,471.56 L248.76,471.69 L248.91,471.82 L249.07,471.95 L249.22,472.08 L249.38,472.21 L249.54,472.34 L249.70,472.47 L249.86,472.59 L250.01,472.72 L250.17,472.85 L250.33,472.98 L250.50,473.11 L250.66,473.24 L250.82,473.37 L250.98,473.50 L251.15,473.62 L251.31,473.75 L251.48,473.88 L251.64,474.01 L251.81,474.14 L251.98,474.27 L252.15,474.40 L252.32,474.53 L252.49,474.65 L252.67,474.78 L252.84,474.91 L253.02,475.04 L253.20,475.17 L253.38,475.30 L253.56,475.43 L253.75,475.56 L253.94,475.68 L254.14,475.81 L254.34,475.94 L254.55,476.07 L254.80,476.20 L254.80,476.20 L255.05,476.07 L255.26,475.94 L255.46,475.81 L255.66,475.68 L255.85,475.56 L256.04,475.43 L256.22,475.30 L256.40,475.17 L256.58,475.04 L256.76,474.91 L256.93,474.78 L257.11,474.65 L257.28,474.53 L257.45,474.40 L257.62,474.27 L257.79,474.14 L257.96,474.01 L258.12,473.88 L258.29,473.75 L258.45,473.62 L258.62,473.50 L258.78,473.37 L258.94,473.24 L259.10,473.11 L259.27,472.98 L259.43,472.85 L259.59,472.72 L259.74,472.59 L259.90,472.47 L260.06,472.34 L260.22,472.21 L260.38,472.08 L260.53,471.95 L260.69,471.82 L260.84,471.69 L261.00,471.56 L261.15,471.44 L261.31,471.31 L261.46,471.18 L261.62,471.05 L261.77,470.92 L261.92,470.79 L262.07,470.66 L262.23,470.53 L262.38,470.41 L262.53,470.28 L262.68,470.15 L262.83,470.02 L262.98,469.89 L263.13,469.76 L263.28,469.63 L263.43,469.50 L263.58,469.37 L263.73,469.25 L263.88,469.12 L264.03,468.99 L264.17,468.86 L264.32,468.73 L264.47,468.60 L264.62,468.47 L264.76,468.34 L264.91,468.22 L265.06,468.09 L265.20,467.96 L265.35,467.83 L265.50,467.70 L265.64,467.57 L265.79,467.44 L265.93,467.31 L266.08,467.19 L266.22,467.06 L266.37,466.93 L266.40,466.90 L266.28,466.80 L266.12,466.67 L265.96,466.54 L265.81,466.41 L265.65,466.28 L265.49,466.16 L265.33,466.03 L265.18,465.90 L265.02,465.77 L264.86,465.64 L264.70,465.51 L264.54,465.38 L264.38,465.25 L264.22,465.13 L264.06,465.00 L263.90,464.87 L263.74,464.74 L263.58,464.61 L263.42,464.48 L263.26,464.35 L263.09,464.22 L262.93,464.09 L262.77,463.97 L262.61,463.84 L262.44,463.71 L262.28,463.58 L262.11,463.45 L261.95,463.32 L261.78,463.19 L261.62,463.06 L261.45,462.94 L261.29,462.81 L261.12,462.68 L260.95,462.55 L260.78,462.42 L260.61,462.29 L260.45,462.16 L260.28,462.03 L260.11,461.91 L259.93,461.78 L259.76,461.65 L259.59,461.52 L259.42,461.39 L259.24,461.26 L259.07,461.13 L258.90,461.00 L258.72,460.88 L258.54,460.75 L258.36,460.62 L258.19,460.49 L258.01,460.36 L257.83,460.23 L257.64,460.10 L257.46,459.97 L257.27,459.85 L257.09,459.72 L256.90,459.59 L256.71,459.46 L256.52,459.33 L256.32,459.20 L256.13,459.07 L255.93,458.94 L255.72,458.82 L255.51,458.69 L255.29,458.56 L255.06,458.43 L254.80,458.30Z" fill="#2fa6dc" stroke="#262626" stroke-width="0.5"/>
<line x1="246.42" y1="464.50" x2="263.18" y2="464.50" stroke="#0e2a44" stroke-width="0.5"/>
<line x1="244.20" y1="467.50" x2="265.40" y2="467.50" stroke="#0e2a44" stroke-width="0.5"/>
<line x1="246.87" y1="469.90" x2="262.73" y2="469.90" stroke="#0e2a44" stroke-width="0.5"/>
<line x1="226.00" y1="466.20" x2="254.80" y2="466.90" stroke="#f8d020" stroke-width="1.1" stroke-opacity="0.65"/>
<line x1="226.00" y1="497.20" x2="226.00" y2="499.50" stroke="#333" stroke-width="0.8"/>
<text x="225.70" y="505.66" font-size="6.0" text-anchor="end" fill="#333" transform="rotate(-45 225.70 505.66)">Placebo</text>
<line x1="254.80" y1="497.20" x2="254.80" y2="499.50" stroke="#333" stroke-width="0.8"/>
<text x="254.50" y="505.66" font-size="6.0" text-anchor="end" fill="#333" transform="rotate(-45 254.50 505.66)">Canakinumab</text>
<line x1="323.30" y1="428.00" x2="323.30" y2="497.40" stroke="#333" stroke-width="1.1"/>
<line x1="323.30" y1="497.40" x2="403.00" y2="497.40" stroke="#333" stroke-width="1.1"/>
<line x1="321.00" y1="442.80" x2="323.30" y2="442.80" stroke="#333" stroke-width="0.8"/>
<text x="320.00" y="444.96" font-size="6.0" text-anchor="end" fill="#333">1</text>
<line x1="321.00" y1="459.10" x2="323.30" y2="459.10" stroke="#333" stroke-width="0.8"/>
<text x="320.00" y="461.26" font-size="6.0" text-anchor="end" fill="#333">0</text>
<line x1="321.00" y1="475.50" x2="323.30" y2="475.50" stroke="#333" stroke-width="0.8"/>
<text x="320.00" y="477.66" font-size="6.0" text-anchor="end" fill="#333">−1</text>
<line x1="321.00" y1="491.70" x2="323.30" y2="491.70" stroke="#333" stroke-width="0.8"/>
<text x="320.00" y="493.86" font-size="6.0" text-anchor="end" fill="#333">−2</text>
<text x="359.60" y="408.90" font-size="5.8" text-anchor="middle">Acetylcholinesterase</text>
<text x="359.60" y="416.35" font-size="6.0" text-anchor="middle" textLength="78.50" lengthAdjust="spacingAndGlyphs">Canakinumab FDR = 8.24e−153</text>
<text x="359.60" y="423.80" font-size="6.0" text-anchor="middle" textLength="62.00" lengthAdjust="spacingAndGlyphs">Placebo FDR = 6.21e−02</text>
<line x1="345.10" y1="438.00" x2="345.10" y2="494.60" stroke="#2a2a2a" stroke-width="0.85"/>
<line x1="345.10" y1="444.20" x2="345.10" y2="448.20" stroke="#1e1e1e" stroke-width="1.5"/>
<line x1="345.10" y1="469.40" x2="345.10" y2="473.40" stroke="#1e1e1e" stroke-width="1.5"/>
<path d="M345.10,447.20 L344.63,447.37 L344.26,447.53 L343.92,447.70 L343.59,447.87 L343.27,448.03 L342.96,448.20 L342.67,448.37 L342.37,448.54 L342.09,448.70 L341.80,448.87 L341.53,449.04 L341.25,449.20 L340.98,449.37 L340.71,449.54 L340.45,449.70 L340.18,449.87 L339.92,450.04 L339.67,450.20 L339.41,450.37 L339.16,450.54 L338.91,450.71 L338.66,450.87 L338.41,451.04 L338.16,451.21 L337.92,451.37 L337.67,451.54 L337.43,451.71 L337.19,451.87 L336.95,452.04 L336.71,452.21 L336.48,452.37 L336.24,452.54 L336.01,452.71 L335.77,452.87 L335.54,453.04 L335.31,453.21 L335.08,453.38 L334.85,453.54 L334.62,453.71 L334.39,453.88 L334.16,454.04 L333.94,454.21 L333.71,454.38 L333.49,454.54 L333.26,454.71 L333.04,454.88 L332.82,455.04 L332.59,455.21 L332.37,455.38 L332.15,455.55 L331.93,455.71 L331.71,455.88 L331.50,456.05 L331.28,456.21 L331.06,456.38 L330.84,456.55 L330.63,456.71 L330.41,456.88 L330.20,457.05 L329.98,457.21 L329.77,457.38 L329.55,457.55 L329.34,457.72 L329.13,457.88 L328.92,458.05 L328.71,458.22 L328.60,458.30 L328.70,458.38 L328.89,458.55 L329.08,458.72 L329.28,458.88 L329.47,459.05 L329.67,459.22 L329.87,459.38 L330.06,459.55 L330.26,459.72 L330.46,459.88 L330.65,460.05 L330.85,460.22 L331.05,460.39 L331.25,460.55 L331.45,460.72 L331.65,460.89 L331.85,461.05 L332.05,461.22 L332.25,461.39 L332.46,461.55 L332.66,461.72 L332.86,461.89 L333.07,462.05 L333.27,462.22 L333.48,462.39 L333.68,462.56 L333.89,462.72 L334.10,462.89 L334.31,463.06 L334.52,463.22 L334.73,463.39 L334.94,463.56 L335.15,463.72 L335.36,463.89 L335.57,464.06 L335.78,464.22 L336.00,464.39 L336.21,464.56 L336.43,464.73 L336.65,464.89 L336.87,465.06 L337.09,465.23 L337.31,465.39 L337.53,465.56 L337.75,465.73 L337.97,465.89 L338.20,466.06 L338.42,466.23 L338.65,466.39 L338.88,466.56 L339.11,466.73 L339.34,466.89 L339.58,467.06 L339.81,467.23 L340.05,467.40 L340.29,467.56 L340.53,467.73 L340.78,467.90 L341.02,468.06 L341.27,468.23 L341.52,468.40 L341.78,468.56 L342.04,468.73 L342.30,468.90 L342.57,469.06 L342.84,469.23 L343.12,469.40 L343.40,469.57 L343.69,469.73 L344.00,469.90 L344.32,470.07 L344.67,470.23 L345.10,470.40 L345.10,470.40 L345.53,470.23 L345.88,470.07 L346.20,469.90 L346.51,469.73 L346.80,469.57 L347.08,469.40 L347.36,469.23 L347.63,469.06 L347.90,468.90 L348.16,468.73 L348.42,468.56 L348.68,468.40 L348.93,468.23 L349.18,468.06 L349.42,467.90 L349.67,467.73 L349.91,467.56 L350.15,467.40 L350.39,467.23 L350.62,467.06 L350.86,466.89 L351.09,466.73 L351.32,466.56 L351.55,466.39 L351.78,466.23 L352.00,466.06 L352.23,465.89 L352.45,465.73 L352.67,465.56 L352.89,465.39 L353.11,465.23 L353.33,465.06 L353.55,464.89 L353.77,464.73 L353.99,464.56 L354.20,464.39 L354.42,464.22 L354.63,464.06 L354.84,463.89 L355.05,463.72 L355.26,463.56 L355.47,463.39 L355.68,463.22 L355.89,463.06 L356.10,462.89 L356.31,462.72 L356.52,462.56 L356.72,462.39 L356.93,462.22 L357.13,462.05 L357.34,461.89 L357.54,461.72 L357.74,461.55 L357.95,461.39 L358.15,461.22 L358.35,461.05 L358.55,460.89 L358.75,460.72 L358.95,460.55 L359.15,460.39 L359.35,460.22 L359.55,460.05 L359.74,459.88 L359.94,459.72 L360.14,459.55 L360.33,459.38 L360.53,459.22 L360.73,459.05 L360.92,458.88 L361.12,458.72 L361.31,458.55 L361.50,458.38 L361.60,458.30 L361.49,458.22 L361.28,458.05 L361.07,457.88 L360.86,457.72 L360.65,457.55 L360.43,457.38 L360.22,457.21 L360.00,457.05 L359.79,456.88 L359.57,456.71 L359.36,456.55 L359.14,456.38 L358.92,456.21 L358.70,456.05 L358.49,455.88 L358.27,455.71 L358.05,455.55 L357.83,455.38 L357.61,455.21 L357.38,455.04 L357.16,454.88 L356.94,454.71 L356.71,454.54 L356.49,454.38 L356.26,454.21 L356.04,454.04 L355.81,453.88 L355.58,453.71 L355.35,453.54 L355.12,453.38 L354.89,453.21 L354.66,453.04 L354.43,452.87 L354.19,452.71 L353.96,452.54 L353.72,452.37 L353.49,452.21 L353.25,452.04 L353.01,451.87 L352.77,451.71 L352.53,451.54 L352.28,451.37 L352.04,451.21 L351.79,451.04 L351.54,450.87 L351.29,450.71 L351.04,450.54 L350.79,450.37 L350.53,450.20 L350.28,450.04 L350.02,449.87 L349.75,449.70 L349.49,449.54 L349.22,449.37 L348.95,449.20 L348.67,449.04 L348.40,448.87 L348.11,448.70 L347.83,448.54 L347.53,448.37 L347.24,448.20 L346.93,448.03 L346.61,447.87 L346.28,447.70 L345.94,447.53 L345.57,447.37 L345.10,447.20Z" fill="#c0102c" stroke="#262626" stroke-width="0.5"/>
<path d="M345.10,447.20 L344.67,447.37 L344.33,447.53 L344.01,447.70 L343.71,447.87 L343.42,448.03 L343.14,448.20 L342.86,448.37 L342.59,448.54 L342.33,448.70 L342.07,448.87 L341.81,449.04 L341.56,449.20 L341.31,449.37 L341.06,449.54 L340.82,449.70 L340.58,449.87 L340.34,450.04 L340.10,450.20 L339.87,450.37 L339.63,450.54 L339.40,450.71 L339.17,450.87 L338.94,451.04 L338.72,451.21 L338.49,451.37 L338.27,451.54 L338.04,451.71 L337.82,451.87 L337.60,452.04 L337.38,452.21 L337.17,452.37 L336.95,452.54 L336.73,452.71 L336.52,452.87 L336.30,453.04 L336.09,453.21 L335.88,453.38 L335.67,453.54 L335.46,453.71 L335.25,453.88 L335.04,454.04 L334.83,454.21 L334.62,454.38 L334.41,454.54 L334.21,454.71 L334.00,454.88 L333.80,455.04 L333.59,455.21 L333.39,455.38 L333.19,455.55 L332.99,455.71 L332.78,455.88 L332.58,456.05 L332.38,456.21 L332.18,456.38 L331.98,456.55 L331.78,456.71 L331.59,456.88 L331.39,457.05 L331.19,457.21 L330.99,457.38 L330.80,457.55 L330.60,457.72 L330.41,457.88 L330.21,458.05 L330.02,458.22 L329.92,458.30 L330.01,458.38 L330.19,458.55 L330.37,458.72 L330.54,458.88 L330.72,459.05 L330.90,459.22 L331.08,459.38 L331.26,459.55 L331.45,459.72 L331.63,459.88 L331.81,460.05 L331.99,460.22 L332.17,460.39 L332.36,460.55 L332.54,460.72 L332.73,460.89 L332.91,461.05 L333.10,461.22 L333.28,461.39 L333.47,461.55 L333.66,461.72 L333.84,461.89 L334.03,462.05 L334.22,462.22 L334.41,462.39 L334.60,462.56 L334.79,462.72 L334.98,462.89 L335.17,463.06 L335.36,463.22 L335.56,463.39 L335.75,463.56 L335.94,463.72 L336.14,463.89 L336.33,464.06 L336.53,464.22 L336.73,464.39 L336.93,464.56 L337.12,464.73 L337.32,464.89 L337.52,465.06 L337.73,465.23 L337.93,465.39 L338.13,465.56 L338.34,465.73 L338.54,465.89 L338.75,466.06 L338.96,466.23 L339.17,466.39 L339.38,466.56 L339.59,466.73 L339.80,466.89 L340.02,467.06 L340.24,467.23 L340.45,467.40 L340.68,467.56 L340.90,467.73 L341.12,467.90 L341.35,468.06 L341.58,468.23 L341.81,468.40 L342.04,468.56 L342.28,468.73 L342.52,468.90 L342.77,469.06 L343.02,469.23 L343.27,469.40 L343.54,469.57 L343.81,469.73 L344.09,469.90 L344.38,470.07 L344.70,470.23 L345.10,470.40 L345.10,470.40 L345.50,470.23 L345.82,470.07 L346.11,469.90 L346.39,469.73 L346.66,469.57 L346.93,469.40 L347.18,469.23 L347.43,469.06 L347.68,468.90 L347.92,468.73 L348.16,468.56 L348.39,468.40 L348.62,468.23 L348.85,468.06 L349.08,467.90 L349.30,467.73 L349.52,467.56 L349.75,467.40 L349.96,467.23 L350.18,467.06 L350.40,466.89 L350.61,466.73 L350.82,466.56 L351.03,466.39 L351.24,466.23 L351.45,466.06 L351.66,465.89 L351.86,465.73 L352.07,465.56 L352.27,465.39 L352.47,465.23 L352.68,465.06 L352.88,464.89 L353.08,464.73 L353.27,464.56 L353.47,464.39 L353.67,464.22 L353.87,464.06 L354.06,463.89 L354.26,463.72 L354.45,463.56 L354.64,463.39 L354.84,463.22 L355.03,463.06 L355.22,462.89 L355.41,462.72 L355.60,462.56 L355.79,462.39 L355.98,462.22 L356.17,462.05 L356.36,461.89 L356.54,461.72 L356.73,461.55 L356.92,461.39 L357.10,461.22 L357.29,461.05 L357.47,460.89 L357.66,460.72 L357.84,460.55 L358.03,460.39 L358.21,460.22 L358.39,460.05 L358.57,459.88 L358.75,459.72 L358.94,459.55 L359.12,459.38 L359.30,459.22 L359.48,459.05 L359.66,458.88 L359.83,458.72 L360.01,458.55 L360.19,458.38 L360.28,458.30 L360.18,458.22 L359.99,458.05 L359.79,457.88 L359.60,457.72 L359.40,457.55 L359.21,457.38 L359.01,457.21 L358.81,457.05 L358.61,456.88 L358.42,456.71 L358.22,456.55 L358.02,456.38 L357.82,456.21 L357.62,456.05 L357.42,455.88 L357.21,455.71 L357.01,455.55 L356.81,455.38 L356.61,455.21 L356.40,455.04 L356.20,454.88 L355.99,454.71 L355.79,454.54 L355.58,454.38 L355.37,454.21 L355.16,454.04 L354.95,453.88 L354.74,453.71 L354.53,453.54 L354.32,453.38 L354.11,453.21 L353.90,453.04 L353.68,452.87 L353.47,452.71 L353.25,452.54 L353.03,452.37 L352.82,452.21 L352.60,452.04 L352.38,451.87 L352.16,451.71 L351.93,451.54 L351.71,451.37 L351.48,451.21 L351.26,451.04 L351.03,450.87 L350.80,450.71 L350.57,450.54 L350.33,450.37 L350.10,450.20 L349.86,450.04 L349.62,449.87 L349.38,449.70 L349.14,449.54 L348.89,449.37 L348.64,449.20 L348.39,449.04 L348.13,448.87 L347.87,448.70 L347.61,448.54 L347.34,448.37 L347.06,448.20 L346.78,448.03 L346.49,447.87 L346.19,447.70 L345.87,447.53 L345.53,447.37 L345.10,447.20Z" fill="none" stroke="#f4b8c0" stroke-width="0.6" stroke-opacity="0.8"/>
<line x1="332.98" y1="455.20" x2="357.22" y2="455.20" stroke="#3a0010" stroke-width="0.5"/>
<line x1="332.89" y1="461.60" x2="357.31" y2="461.60" stroke="#3a0010" stroke-width="0.5"/>
<line x1="381.30" y1="431.20" x2="381.30" y2="487.20" stroke="#2a2a2a" stroke-width="0.85"/>
<line x1="381.30" y1="438.70" x2="381.30" y2="442.70" stroke="#1e1e1e" stroke-width="1.5"/>
<line x1="381.30" y1="471.30" x2="381.30" y2="475.30" stroke="#1e1e1e" stroke-width="1.5"/>
<path d="M381.30,441.70 L380.03,441.92 L379.37,442.14 L378.84,442.36 L378.38,442.58 L377.96,442.80 L377.58,443.02 L377.22,443.24 L376.87,443.46 L376.55,443.68 L376.24,443.90 L375.94,444.12 L375.66,444.34 L375.38,444.56 L375.11,444.78 L374.85,445.00 L374.59,445.22 L374.34,445.44 L374.10,445.66 L373.86,445.88 L373.63,446.10 L373.40,446.32 L373.18,446.54 L372.96,446.76 L372.75,446.98 L372.53,447.20 L372.32,447.42 L372.12,447.64 L371.92,447.86 L371.72,448.08 L371.52,448.30 L371.33,448.52 L371.13,448.74 L370.94,448.96 L370.76,449.18 L370.57,449.41 L370.39,449.63 L370.21,449.85 L370.03,450.07 L369.85,450.29 L369.68,450.51 L369.50,450.73 L369.33,450.95 L369.16,451.17 L368.99,451.39 L368.83,451.61 L368.66,451.83 L368.50,452.05 L368.33,452.27 L368.17,452.49 L368.01,452.71 L367.85,452.93 L367.70,453.15 L367.54,453.37 L367.38,453.59 L367.23,453.81 L367.08,454.03 L366.92,454.25 L366.77,454.47 L366.62,454.69 L366.48,454.91 L366.33,455.13 L366.18,455.35 L366.04,455.57 L365.89,455.79 L365.75,456.01 L365.60,456.23 L365.46,456.45 L365.32,456.67 L365.30,456.70 L365.42,456.89 L365.55,457.11 L365.69,457.33 L365.83,457.55 L365.97,457.77 L366.11,457.99 L366.25,458.21 L366.39,458.43 L366.53,458.65 L366.68,458.87 L366.82,459.09 L366.97,459.31 L367.11,459.53 L367.26,459.75 L367.41,459.97 L367.56,460.19 L367.71,460.41 L367.86,460.63 L368.01,460.85 L368.17,461.07 L368.32,461.29 L368.48,461.51 L368.63,461.73 L368.79,461.95 L368.95,462.17 L369.12,462.39 L369.28,462.61 L369.44,462.83 L369.61,463.05 L369.78,463.27 L369.95,463.49 L370.12,463.71 L370.29,463.93 L370.47,464.15 L370.64,464.37 L370.82,464.59 L371.00,464.82 L371.18,465.04 L371.37,465.26 L371.56,465.48 L371.75,465.70 L371.94,465.92 L372.13,466.14 L372.33,466.36 L372.53,466.58 L372.74,466.80 L372.94,467.02 L373.15,467.24 L373.37,467.46 L373.59,467.68 L373.81,467.90 L374.04,468.12 L374.27,468.34 L374.51,468.56 L374.75,468.78 L375.00,469.00 L375.25,469.22 L375.52,469.44 L375.79,469.66 L376.07,469.88 L376.36,470.10 L376.66,470.32 L376.98,470.54 L377.31,470.76 L377.66,470.98 L378.04,471.20 L378.45,471.42 L378.90,471.64 L379.42,471.86 L380.06,472.08 L381.30,472.30 L381.30,472.30 L382.54,472.08 L383.18,471.86 L383.70,471.64 L384.15,471.42 L384.56,471.20 L384.94,470.98 L385.29,470.76 L385.62,470.54 L385.94,470.32 L386.24,470.10 L386.53,469.88 L386.81,469.66 L387.08,469.44 L387.35,469.22 L387.60,469.00 L387.85,468.78 L388.09,468.56 L388.33,468.34 L388.56,468.12 L388.79,467.90 L389.01,467.68 L389.23,467.46 L389.45,467.24 L389.66,467.02 L389.86,466.80 L390.07,466.58 L390.27,466.36 L390.47,466.14 L390.66,465.92 L390.85,465.70 L391.04,465.48 L391.23,465.26 L391.42,465.04 L391.60,464.82 L391.78,464.59 L391.96,464.37 L392.13,464.15 L392.31,463.93 L392.48,463.71 L392.65,463.49 L392.82,463.27 L392.99,463.05 L393.16,462.83 L393.32,462.61 L393.48,462.39 L393.65,462.17 L393.81,461.95 L393.97,461.73 L394.12,461.51 L394.28,461.29 L394.43,461.07 L394.59,460.85 L394.74,460.63 L394.89,460.41 L395.04,460.19 L395.19,459.97 L395.34,459.75 L395.49,459.53 L395.63,459.31 L395.78,459.09 L395.92,458.87 L396.07,458.65 L396.21,458.43 L396.35,458.21 L396.49,457.99 L396.63,457.77 L396.77,457.55 L396.91,457.33 L397.05,457.11 L397.18,456.89 L397.30,456.70 L397.28,456.67 L397.14,456.45 L397.00,456.23 L396.85,456.01 L396.71,455.79 L396.56,455.57 L396.42,455.35 L396.27,455.13 L396.12,454.91 L395.98,454.69 L395.83,454.47 L395.68,454.25 L395.52,454.03 L395.37,453.81 L395.22,453.59 L395.06,453.37 L394.90,453.15 L394.75,452.93 L394.59,452.71 L394.43,452.49 L394.27,452.27 L394.10,452.05 L393.94,451.83 L393.77,451.61 L393.61,451.39 L393.44,451.17 L393.27,450.95 L393.10,450.73 L392.92,450.51 L392.75,450.29 L392.57,450.07 L392.39,449.85 L392.21,449.63 L392.03,449.41 L391.84,449.18 L391.66,448.96 L391.47,448.74 L391.27,448.52 L391.08,448.30 L390.88,448.08 L390.68,447.86 L390.48,447.64 L390.28,447.42 L390.07,447.20 L389.85,446.98 L389.64,446.76 L389.42,446.54 L389.20,446.32 L388.97,446.10 L388.74,445.88 L388.50,445.66 L388.26,445.44 L388.01,445.22 L387.75,445.00 L387.49,444.78 L387.22,444.56 L386.94,444.34 L386.66,444.12 L386.36,443.90 L386.05,443.68 L385.73,443.46 L385.38,443.24 L385.02,443.02 L384.64,442.80 L384.22,442.58 L383.76,442.36 L383.23,442.14 L382.57,441.92 L381.30,441.70Z" fill="#2fa6dc" stroke="#262626" stroke-width="0.5"/>
<line x1="368.14" y1="453.10" x2="394.46" y2="453.10" stroke="#111" stroke-width="0.5"/>
<line x1="368.24" y1="460.60" x2="394.36" y2="460.60" stroke="#111" stroke-width="0.5"/>
<line x1="345.10" y1="459.00" x2="381.30" y2="456.70" stroke="#f8d020" stroke-width="1.1" stroke-opacity="0.65"/>
<line x1="345.10" y1="497.40" x2="345.10" y2="499.70" stroke="#333" stroke-width="0.8"/>
<text x="344.80" y="505.86" font-size="6.0" text-anchor="end" fill="#333" transform="rotate(-45 344.80 505.86)">Placebo</text>
<line x1="381.30" y1="497.40" x2="381.30" y2="499.70" stroke="#333" stroke-width="0.8"/>
<text x="381.00" y="505.86" font-size="6.0" text-anchor="end" fill="#333" transform="rotate(-45 381.00 505.86)">Canakinumab</text>
<line x1="432.80" y1="428.50" x2="432.80" y2="496.80" stroke="#333" stroke-width="1.1"/>
<line x1="432.80" y1="496.80" x2="511.50" y2="496.80" stroke="#333" stroke-width="1.1"/>
<line x1="430.50" y1="433.10" x2="432.80" y2="433.10" stroke="#333" stroke-width="0.8"/>
<text x="429.50" y="435.26" font-size="6.0" text-anchor="end" fill="#333">5.0</text>
<line x1="430.50" y1="449.00" x2="432.80" y2="449.00" stroke="#333" stroke-width="0.8"/>
<text x="429.50" y="451.16" font-size="6.0" text-anchor="end" fill="#333">2.5</text>
<line x1="430.50" y1="464.40" x2="432.80" y2="464.40" stroke="#333" stroke-width="0.8"/>
<text x="429.50" y="466.56" font-size="6.0" text-anchor="end" fill="#333">0.0</text>
<line x1="430.50" y1="479.90" x2="432.80" y2="479.90" stroke="#333" stroke-width="0.8"/>
<text x="429.50" y="482.06" font-size="6.0" text-anchor="end" fill="#333">−2.5</text>
<line x1="430.50" y1="495.50" x2="432.80" y2="495.50" stroke="#333" stroke-width="0.8"/>
<text x="429.50" y="497.66" font-size="6.0" text-anchor="end" fill="#333">−5.0</text>
<text x="472.70" y="408.90" font-size="5.8" text-anchor="middle">HBA1/HBB</text>
<text x="472.70" y="416.35" font-size="6.0" text-anchor="middle" textLength="81.90" lengthAdjust="spacingAndGlyphs">Canakinumab FDR = 2.99e−34</text>
<text x="472.70" y="423.80" font-size="6.0" text-anchor="middle" textLength="68.20" lengthAdjust="spacingAndGlyphs">Placebo FDR = 5.43e−01</text>
<line x1="454.30" y1="442.70" x2="454.30" y2="494.20" stroke="#2a2a2a" stroke-width="0.85"/>
<line x1="454.30" y1="446.90" x2="454.30" y2="450.90" stroke="#1e1e1e" stroke-width="1.5"/>
<line x1="454.30" y1="477.50" x2="454.30" y2="481.50" stroke="#1e1e1e" stroke-width="1.5"/>
<path d="M454.30,449.90 L453.86,450.11 L453.51,450.31 L453.18,450.52 L452.87,450.72 L452.57,450.93 L452.28,451.13 L452.00,451.34 L451.72,451.55 L451.45,451.75 L451.18,451.96 L450.92,452.16 L450.66,452.37 L450.40,452.57 L450.15,452.78 L449.90,452.99 L449.65,453.19 L449.41,453.40 L449.16,453.60 L448.92,453.81 L448.68,454.02 L448.44,454.22 L448.21,454.43 L447.97,454.63 L447.74,454.84 L447.51,455.04 L447.28,455.25 L447.05,455.46 L446.82,455.66 L446.59,455.87 L446.37,456.07 L446.14,456.28 L445.92,456.48 L445.70,456.69 L445.48,456.90 L445.26,457.10 L445.04,457.31 L444.82,457.51 L444.60,457.72 L444.39,457.92 L444.17,458.13 L443.96,458.34 L443.74,458.54 L443.53,458.75 L443.32,458.95 L443.10,459.16 L442.89,459.36 L442.68,459.57 L442.47,459.78 L442.26,459.98 L442.06,460.19 L441.85,460.39 L441.64,460.60 L441.43,460.81 L441.23,461.01 L441.02,461.22 L440.82,461.42 L440.61,461.63 L440.41,461.83 L440.21,462.04 L440.00,462.25 L439.80,462.45 L439.60,462.66 L439.40,462.86 L439.20,463.07 L439.00,463.27 L438.80,463.48 L438.60,463.69 L438.40,463.89 L438.20,464.10 L438.10,464.20 L438.20,464.30 L438.40,464.51 L438.60,464.71 L438.80,464.92 L439.00,465.13 L439.20,465.33 L439.40,465.54 L439.60,465.74 L439.80,465.95 L440.00,466.15 L440.21,466.36 L440.41,466.57 L440.61,466.77 L440.82,466.98 L441.02,467.18 L441.23,467.39 L441.43,467.59 L441.64,467.80 L441.85,468.01 L442.06,468.21 L442.26,468.42 L442.47,468.62 L442.68,468.83 L442.89,469.04 L443.10,469.24 L443.32,469.45 L443.53,469.65 L443.74,469.86 L443.96,470.06 L444.17,470.27 L444.39,470.48 L444.60,470.68 L444.82,470.89 L445.04,471.09 L445.26,471.30 L445.48,471.50 L445.70,471.71 L445.92,471.92 L446.14,472.12 L446.37,472.33 L446.59,472.53 L446.82,472.74 L447.05,472.94 L447.28,473.15 L447.51,473.36 L447.74,473.56 L447.97,473.77 L448.21,473.97 L448.44,474.18 L448.68,474.38 L448.92,474.59 L449.16,474.80 L449.41,475.00 L449.65,475.21 L449.90,475.41 L450.15,475.62 L450.40,475.83 L450.66,476.03 L450.92,476.24 L451.18,476.44 L451.45,476.65 L451.72,476.85 L452.00,477.06 L452.28,477.27 L452.57,477.47 L452.87,477.68 L453.18,477.88 L453.51,478.09 L453.86,478.29 L454.30,478.50 L454.30,478.50 L454.74,478.29 L455.09,478.09 L455.42,477.88 L455.73,477.68 L456.03,477.47 L456.32,477.27 L456.60,477.06 L456.88,476.85 L457.15,476.65 L457.42,476.44 L457.68,476.24 L457.94,476.03 L458.20,475.83 L458.45,475.62 L458.70,475.41 L458.95,475.21 L459.19,475.00 L459.44,474.80 L459.68,474.59 L459.92,474.38 L460.16,474.18 L460.39,473.97 L460.63,473.77 L460.86,473.56 L461.09,473.36 L461.32,473.15 L461.55,472.94 L461.78,472.74 L462.01,472.53 L462.23,472.33 L462.46,472.12 L462.68,471.92 L462.90,471.71 L463.12,471.50 L463.34,471.30 L463.56,471.09 L463.78,470.89 L464.00,470.68 L464.21,470.48 L464.43,470.27 L464.64,470.06 L464.86,469.86 L465.07,469.65 L465.28,469.45 L465.50,469.24 L465.71,469.04 L465.92,468.83 L466.13,468.62 L466.34,468.42 L466.54,468.21 L466.75,468.01 L466.96,467.80 L467.17,467.59 L467.37,467.39 L467.58,467.18 L467.78,466.98 L467.99,466.77 L468.19,466.57 L468.39,466.36 L468.60,466.15 L468.80,465.95 L469.00,465.74 L469.20,465.54 L469.40,465.33 L469.60,465.13 L469.80,464.92 L470.00,464.71 L470.20,464.51 L470.40,464.30 L470.50,464.20 L470.40,464.10 L470.20,463.89 L470.00,463.69 L469.80,463.48 L469.60,463.27 L469.40,463.07 L469.20,462.86 L469.00,462.66 L468.80,462.45 L468.60,462.25 L468.39,462.04 L468.19,461.83 L467.99,461.63 L467.78,461.42 L467.58,461.22 L467.37,461.01 L467.17,460.81 L466.96,460.60 L466.75,460.39 L466.54,460.19 L466.34,459.98 L466.13,459.78 L465.92,459.57 L465.71,459.36 L465.50,459.16 L465.28,458.95 L465.07,458.75 L464.86,458.54 L464.64,458.34 L464.43,458.13 L464.21,457.92 L464.00,457.72 L463.78,457.51 L463.56,457.31 L463.34,457.10 L463.12,456.90 L462.90,456.69 L462.68,456.48 L462.46,456.28 L462.23,456.07 L462.01,455.87 L461.78,455.66 L461.55,455.46 L461.32,455.25 L461.09,455.04 L460.86,454.84 L460.63,454.63 L460.39,454.43 L460.16,454.22 L459.92,454.02 L459.68,453.81 L459.44,453.60 L459.19,453.40 L458.95,453.19 L458.70,452.99 L458.45,452.78 L458.20,452.57 L457.94,452.37 L457.68,452.16 L457.42,451.96 L457.15,451.75 L456.88,451.55 L456.60,451.34 L456.32,451.13 L456.03,450.93 L455.73,450.72 L455.42,450.52 L455.09,450.31 L454.74,450.11 L454.30,449.90Z" fill="#c0102c" stroke="#262626" stroke-width="0.5"/>
<path d="M454.30,449.90 L453.89,450.11 L453.57,450.31 L453.27,450.52 L452.98,450.72 L452.71,450.93 L452.44,451.13 L452.18,451.34 L451.93,451.55 L451.68,451.75 L451.43,451.96 L451.19,452.16 L450.95,452.37 L450.72,452.57 L450.48,452.78 L450.25,452.99 L450.02,453.19 L449.80,453.40 L449.57,453.60 L449.35,453.81 L449.13,454.02 L448.91,454.22 L448.69,454.43 L448.48,454.63 L448.26,454.84 L448.05,455.04 L447.84,455.25 L447.63,455.46 L447.42,455.66 L447.21,455.87 L447.00,456.07 L446.80,456.28 L446.59,456.48 L446.39,456.69 L446.18,456.90 L445.98,457.10 L445.78,457.31 L445.58,457.51 L445.38,457.72 L445.18,457.92 L444.98,458.13 L444.78,458.34 L444.59,458.54 L444.39,458.75 L444.19,458.95 L444.00,459.16 L443.81,459.36 L443.61,459.57 L443.42,459.78 L443.23,459.98 L443.03,460.19 L442.84,460.39 L442.65,460.60 L442.46,460.81 L442.27,461.01 L442.08,461.22 L441.90,461.42 L441.71,461.63 L441.52,461.83 L441.33,462.04 L441.15,462.25 L440.96,462.45 L440.77,462.66 L440.59,462.86 L440.40,463.07 L440.22,463.27 L440.04,463.48 L439.85,463.69 L439.67,463.89 L439.49,464.10 L439.40,464.20 L439.49,464.30 L439.67,464.51 L439.85,464.71 L440.04,464.92 L440.22,465.13 L440.40,465.33 L440.59,465.54 L440.77,465.74 L440.96,465.95 L441.15,466.15 L441.33,466.36 L441.52,466.57 L441.71,466.77 L441.90,466.98 L442.08,467.18 L442.27,467.39 L442.46,467.59 L442.65,467.80 L442.84,468.01 L443.03,468.21 L443.23,468.42 L443.42,468.62 L443.61,468.83 L443.81,469.04 L444.00,469.24 L444.19,469.45 L444.39,469.65 L444.59,469.86 L444.78,470.06 L444.98,470.27 L445.18,470.48 L445.38,470.68 L445.58,470.89 L445.78,471.09 L445.98,471.30 L446.18,471.50 L446.39,471.71 L446.59,471.92 L446.80,472.12 L447.00,472.33 L447.21,472.53 L447.42,472.74 L447.63,472.94 L447.84,473.15 L448.05,473.36 L448.26,473.56 L448.48,473.77 L448.69,473.97 L448.91,474.18 L449.13,474.38 L449.35,474.59 L449.57,474.80 L449.80,475.00 L450.02,475.21 L450.25,475.41 L450.48,475.62 L450.72,475.83 L450.95,476.03 L451.19,476.24 L451.43,476.44 L451.68,476.65 L451.93,476.85 L452.18,477.06 L452.44,477.27 L452.71,477.47 L452.98,477.68 L453.27,477.88 L453.57,478.09 L453.89,478.29 L454.30,478.50 L454.30,478.50 L454.71,478.29 L455.03,478.09 L455.33,477.88 L455.62,477.68 L455.89,477.47 L456.16,477.27 L456.42,477.06 L456.67,476.85 L456.92,476.65 L457.17,476.44 L457.41,476.24 L457.65,476.03 L457.88,475.83 L458.12,475.62 L458.35,475.41 L458.58,475.21 L458.80,475.00 L459.03,474.80 L459.25,474.59 L459.47,474.38 L459.69,474.18 L459.91,473.97 L460.12,473.77 L460.34,473.56 L460.55,473.36 L460.76,473.15 L460.97,472.94 L461.18,472.74 L461.39,472.53 L461.60,472.33 L461.80,472.12 L462.01,471.92 L462.21,471.71 L462.42,471.50 L462.62,471.30 L462.82,471.09 L463.02,470.89 L463.22,470.68 L463.42,470.48 L463.62,470.27 L463.82,470.06 L464.01,469.86 L464.21,469.65 L464.41,469.45 L464.60,469.24 L464.79,469.04 L464.99,468.83 L465.18,468.62 L465.37,468.42 L465.57,468.21 L465.76,468.01 L465.95,467.80 L466.14,467.59 L466.33,467.39 L466.52,467.18 L466.70,466.98 L466.89,466.77 L467.08,466.57 L467.27,466.36 L467.45,466.15 L467.64,465.95 L467.83,465.74 L468.01,465.54 L468.20,465.33 L468.38,465.13 L468.56,464.92 L468.75,464.71 L468.93,464.51 L469.11,464.30 L469.20,464.20 L469.11,464.10 L468.93,463.89 L468.75,463.69 L468.56,463.48 L468.38,463.27 L468.20,463.07 L468.01,462.86 L467.83,462.66 L467.64,462.45 L467.45,462.25 L467.27,462.04 L467.08,461.83 L466.89,461.63 L466.70,461.42 L466.52,461.22 L466.33,461.01 L466.14,460.81 L465.95,460.60 L465.76,460.39 L465.57,460.19 L465.37,459.98 L465.18,459.78 L464.99,459.57 L464.79,459.36 L464.60,459.16 L464.41,458.95 L464.21,458.75 L464.01,458.54 L463.82,458.34 L463.62,458.13 L463.42,457.92 L463.22,457.72 L463.02,457.51 L462.82,457.31 L462.62,457.10 L462.42,456.90 L462.21,456.69 L462.01,456.48 L461.80,456.28 L461.60,456.07 L461.39,455.87 L461.18,455.66 L460.97,455.46 L460.76,455.25 L460.55,455.04 L460.34,454.84 L460.12,454.63 L459.91,454.43 L459.69,454.22 L459.47,454.02 L459.25,453.81 L459.03,453.60 L458.80,453.40 L458.58,453.19 L458.35,452.99 L458.12,452.78 L457.88,452.57 L457.65,452.37 L457.41,452.16 L457.17,451.96 L456.92,451.75 L456.67,451.55 L456.42,451.34 L456.16,451.13 L455.89,450.93 L455.62,450.72 L455.33,450.52 L455.03,450.31 L454.71,450.11 L454.30,449.90Z" fill="none" stroke="#f4b8c0" stroke-width="0.6" stroke-opacity="0.8"/>
<line x1="441.44" y1="461.20" x2="467.16" y2="461.20" stroke="#3a0010" stroke-width="0.5"/>
<line x1="443.00" y1="468.80" x2="465.60" y2="468.80" stroke="#3a0010" stroke-width="0.5"/>
<line x1="490.20" y1="429.30" x2="490.20" y2="487.30" stroke="#2a2a2a" stroke-width="0.85"/>
<line x1="490.20" y1="444.50" x2="490.20" y2="448.50" stroke="#1e1e1e" stroke-width="1.5"/>
<line x1="490.20" y1="474.50" x2="490.20" y2="478.50" stroke="#1e1e1e" stroke-width="1.5"/>
<path d="M490.20,447.50 L489.04,447.70 L488.45,447.90 L487.96,448.10 L487.54,448.31 L487.16,448.51 L486.81,448.71 L486.48,448.91 L486.17,449.11 L485.87,449.31 L485.59,449.51 L485.32,449.72 L485.06,449.92 L484.81,450.12 L484.56,450.32 L484.32,450.52 L484.09,450.72 L483.86,450.92 L483.64,451.13 L483.43,451.33 L483.21,451.53 L483.01,451.73 L482.80,451.93 L482.60,452.13 L482.41,452.33 L482.21,452.54 L482.02,452.74 L481.84,452.94 L481.65,453.14 L481.47,453.34 L481.29,453.54 L481.11,453.74 L480.94,453.95 L480.77,454.15 L480.60,454.35 L480.43,454.55 L480.26,454.75 L480.10,454.95 L479.93,455.15 L479.77,455.36 L479.61,455.56 L479.45,455.76 L479.30,455.96 L479.14,456.16 L478.99,456.36 L478.84,456.56 L478.69,456.77 L478.54,456.97 L478.39,457.17 L478.24,457.37 L478.10,457.57 L477.95,457.77 L477.81,457.97 L477.66,458.18 L477.52,458.38 L477.38,458.58 L477.24,458.78 L477.11,458.98 L476.97,459.18 L476.83,459.38 L476.70,459.59 L476.56,459.79 L476.43,459.99 L476.30,460.19 L476.16,460.39 L476.03,460.59 L475.90,460.79 L475.77,461.00 L475.64,461.20 L475.52,461.40 L475.39,461.60 L475.26,461.80 L475.20,461.90 L475.27,462.00 L475.40,462.21 L475.54,462.41 L475.67,462.61 L475.81,462.81 L475.95,463.01 L476.09,463.21 L476.23,463.41 L476.37,463.62 L476.51,463.82 L476.65,464.02 L476.79,464.22 L476.94,464.42 L477.08,464.62 L477.23,464.82 L477.38,465.03 L477.52,465.23 L477.67,465.43 L477.82,465.63 L477.98,465.83 L478.13,466.03 L478.28,466.23 L478.44,466.44 L478.60,466.64 L478.76,466.84 L478.92,467.04 L479.08,467.24 L479.24,467.44 L479.41,467.64 L479.58,467.85 L479.74,468.05 L479.91,468.25 L480.09,468.45 L480.26,468.65 L480.44,468.85 L480.62,469.05 L480.80,469.26 L480.98,469.46 L481.17,469.66 L481.35,469.86 L481.54,470.06 L481.74,470.26 L481.94,470.46 L482.14,470.67 L482.34,470.87 L482.55,471.07 L482.76,471.27 L482.97,471.47 L483.19,471.67 L483.41,471.87 L483.64,472.08 L483.88,472.28 L484.12,472.48 L484.36,472.68 L484.62,472.88 L484.88,473.08 L485.15,473.28 L485.43,473.49 L485.72,473.69 L486.03,473.89 L486.35,474.09 L486.69,474.29 L487.05,474.49 L487.45,474.69 L487.88,474.90 L488.38,475.10 L489.00,475.30 L490.20,475.50 L490.20,475.50 L491.40,475.30 L492.02,475.10 L492.52,474.90 L492.95,474.69 L493.35,474.49 L493.71,474.29 L494.05,474.09 L494.37,473.89 L494.68,473.69 L494.97,473.49 L495.25,473.28 L495.52,473.08 L495.78,472.88 L496.04,472.68 L496.28,472.48 L496.52,472.28 L496.76,472.08 L496.99,471.87 L497.21,471.67 L497.43,471.47 L497.64,471.27 L497.85,471.07 L498.06,470.87 L498.26,470.67 L498.46,470.46 L498.66,470.26 L498.86,470.06 L499.05,469.86 L499.23,469.66 L499.42,469.46 L499.60,469.26 L499.78,469.05 L499.96,468.85 L500.14,468.65 L500.31,468.45 L500.49,468.25 L500.66,468.05 L500.82,467.85 L500.99,467.64 L501.16,467.44 L501.32,467.24 L501.48,467.04 L501.64,466.84 L501.80,466.64 L501.96,466.44 L502.12,466.23 L502.27,466.03 L502.42,465.83 L502.58,465.63 L502.73,465.43 L502.88,465.23 L503.02,465.03 L503.17,464.82 L503.32,464.62 L503.46,464.42 L503.61,464.22 L503.75,464.02 L503.89,463.82 L504.03,463.62 L504.17,463.41 L504.31,463.21 L504.45,463.01 L504.59,462.81 L504.73,462.61 L504.86,462.41 L505.00,462.21 L505.13,462.00 L505.20,461.90 L505.14,461.80 L505.01,461.60 L504.88,461.40 L504.76,461.20 L504.63,461.00 L504.50,460.79 L504.37,460.59 L504.24,460.39 L504.10,460.19 L503.97,459.99 L503.84,459.79 L503.70,459.59 L503.57,459.38 L503.43,459.18 L503.29,458.98 L503.16,458.78 L503.02,458.58 L502.88,458.38 L502.74,458.18 L502.59,457.97 L502.45,457.77 L502.30,457.57 L502.16,457.37 L502.01,457.17 L501.86,456.97 L501.71,456.77 L501.56,456.56 L501.41,456.36 L501.26,456.16 L501.10,455.96 L500.95,455.76 L500.79,455.56 L500.63,455.36 L500.47,455.15 L500.30,454.95 L500.14,454.75 L499.97,454.55 L499.80,454.35 L499.63,454.15 L499.46,453.95 L499.29,453.74 L499.11,453.54 L498.93,453.34 L498.75,453.14 L498.56,452.94 L498.38,452.74 L498.19,452.54 L497.99,452.33 L497.80,452.13 L497.60,451.93 L497.39,451.73 L497.19,451.53 L496.97,451.33 L496.76,451.13 L496.54,450.92 L496.31,450.72 L496.08,450.52 L495.84,450.32 L495.59,450.12 L495.34,449.92 L495.08,449.72 L494.81,449.51 L494.53,449.31 L494.23,449.11 L493.92,448.91 L493.59,448.71 L493.24,448.51 L492.86,448.31 L492.44,448.10 L491.95,447.90 L491.36,447.70 L490.20,447.50Z" fill="#2fa6dc" stroke="#262626" stroke-width="0.5"/>
<line x1="478.09" y1="458.10" x2="502.31" y2="458.10" stroke="#111" stroke-width="0.5"/>
<line x1="477.96" y1="465.30" x2="502.44" y2="465.30" stroke="#111" stroke-width="0.5"/>
<line x1="454.30" y1="464.50" x2="490.20" y2="461.50" stroke="#f8d020" stroke-width="1.1" stroke-opacity="0.65"/>
<line x1="454.30" y1="496.80" x2="454.30" y2="499.10" stroke="#333" stroke-width="0.8"/>
<text x="454.00" y="505.26" font-size="6.0" text-anchor="end" fill="#333" transform="rotate(-45 454.00 505.26)">Placebo</text>
<line x1="490.20" y1="496.80" x2="490.20" y2="499.10" stroke="#333" stroke-width="0.8"/>
<text x="489.90" y="505.26" font-size="6.0" text-anchor="end" fill="#333" transform="rotate(-45 489.90 505.26)">Canakinumab</text>
<text x="14.20" y="463.00" font-size="7.8" text-anchor="middle" fill="#2a2a2a" font-weight="bold" textLength="71.00" lengthAdjust="spacingAndGlyphs" transform="rotate(-90 14.20 463.00)">Log2FC from BL to month 3</text>
<text x="303.60" y="462.90" font-size="7.8" text-anchor="middle" fill="#2a2a2a" font-weight="bold" textLength="69.60" lengthAdjust="spacingAndGlyphs" transform="rotate(-90 303.60 462.90)">Log2FC from BL to month 3</text>
<text x="6.80" y="552.40" font-size="10" font-weight="bold" fill="#000">F</text>
<text x="265.60" y="552.10" font-size="10" font-weight="bold" fill="#000">G</text>
<text x="85.20" y="552.50" font-size="7.8" fill="#1a1a1a" textLength="127.50" lengthAdjust="spacingAndGlyphs">Changes in IL-6 and Hb by treatment</text>
<text x="336.30" y="552.50" font-size="7.8" fill="#1a1a1a" textLength="143.50" lengthAdjust="spacingAndGlyphs">Changes in hepcidin and Hb by treatment</text>
<line x1="46.40" y1="557.80" x2="46.40" y2="635.40" stroke="#333" stroke-width="1.1"/>
<line x1="46.40" y1="635.40" x2="252.00" y2="635.40" stroke="#333" stroke-width="1.1"/>
<line x1="44.10" y1="568.70" x2="46.40" y2="568.70" stroke="#333" stroke-width="0.8"/>
<text x="42.40" y="570.93" font-size="6.2" text-anchor="end" fill="#333">4</text>
<line x1="44.10" y1="590.30" x2="46.40" y2="590.30" stroke="#333" stroke-width="0.8"/>
<text x="42.40" y="592.53" font-size="6.2" text-anchor="end" fill="#333">0</text>
<line x1="44.10" y1="611.90" x2="46.40" y2="611.90" stroke="#333" stroke-width="0.8"/>
<text x="42.40" y="614.13" font-size="6.2" text-anchor="end" fill="#333">−4</text>
<line x1="44.10" y1="634.58" x2="46.40" y2="634.58" stroke="#333" stroke-width="0.8"/>
<text x="42.40" y="636.81" font-size="6.2" text-anchor="end" fill="#333">−8</text>
<line x1="91.10" y1="635.40" x2="91.10" y2="637.70" stroke="#333" stroke-width="0.8"/>
<text x="91.10" y="646.23" font-size="6.2" text-anchor="middle" fill="#333">−0.5</text>
<line x1="146.60" y1="635.40" x2="146.60" y2="637.70" stroke="#333" stroke-width="0.8"/>
<text x="146.60" y="646.23" font-size="6.2" text-anchor="middle" fill="#333">0.0</text>
<line x1="202.10" y1="635.40" x2="202.10" y2="637.70" stroke="#333" stroke-width="0.8"/>
<text x="202.10" y="646.23" font-size="6.2" text-anchor="middle" fill="#333">0.5</text>
<g fill="#3aa2dc" fill-opacity="0.65"><circle cx="150.5" cy="605.3" r="1.2"/><circle cx="142.3" cy="592.4" r="1.2"/><circle cx="158.5" cy="596.2" r="1.2"/><circle cx="122.3" cy="603.3" r="1.2"/><circle cx="160.2" cy="595.8" r="1.2"/><circle cx="156.9" cy="602.3" r="1.2"/><circle cx="147.7" cy="600.1" r="1.2"/><circle cx="127.3" cy="595.5" r="1.2"/><circle cx="121.2" cy="586.1" r="1.2"/><circle cx="132.1" cy="582.6" r="1.2"/><circle cx="163.5" cy="595.5" r="1.2"/><circle cx="155.8" cy="601.4" r="1.2"/><circle cx="158.2" cy="604.0" r="1.2"/><circle cx="137.8" cy="596.5" r="1.2"/><circle cx="166.5" cy="588.3" r="1.2"/><circle cx="117.3" cy="559.2" r="1.2"/><circle cx="157.9" cy="591.2" r="1.2"/><circle cx="182.1" cy="611.1" r="1.2"/><circle cx="164.3" cy="587.7" r="1.2"/><circle cx="159.0" cy="583.9" r="1.2"/><circle cx="146.2" cy="600.6" r="1.2"/><circle cx="149.7" cy="597.9" r="1.2"/><circle cx="173.3" cy="596.4" r="1.2"/><circle cx="142.2" cy="602.3" r="1.2"/><circle cx="147.3" cy="599.7" r="1.2"/><circle cx="176.9" cy="587.5" r="1.2"/><circle cx="157.0" cy="595.7" r="1.2"/><circle cx="168.9" cy="588.8" r="1.2"/><circle cx="200.8" cy="572.0" r="1.2"/><circle cx="130.4" cy="594.8" r="1.2"/><circle cx="180.4" cy="586.5" r="1.2"/><circle cx="160.6" cy="608.1" r="1.2"/><circle cx="138.8" cy="596.2" r="1.2"/><circle cx="146.9" cy="589.9" r="1.2"/><circle cx="162.0" cy="595.2" r="1.2"/><circle cx="130.7" cy="589.6" r="1.2"/><circle cx="147.1" cy="584.8" r="1.2"/><circle cx="158.0" cy="611.6" r="1.2"/><circle cx="143.1" cy="584.3" r="1.2"/><circle cx="250.2" cy="592.6" r="1.2"/><circle cx="158.9" cy="590.7" r="1.2"/><circle cx="144.8" cy="596.2" r="1.2"/><circle cx="150.3" cy="602.1" r="1.2"/><circle cx="154.9" cy="580.8" r="1.2"/><circle cx="161.9" cy="592.7" r="1.2"/><circle cx="158.1" cy="606.0" r="1.2"/><circle cx="165.3" cy="596.6" r="1.2"/><circle cx="139.0" cy="590.6" r="1.2"/><circle cx="141.8" cy="593.8" r="1.2"/><circle cx="144.9" cy="581.1" r="1.2"/><circle cx="153.4" cy="603.7" r="1.2"/><circle cx="140.3" cy="589.1" r="1.2"/><circle cx="161.3" cy="610.0" r="1.2"/><circle cx="137.7" cy="596.7" r="1.2"/><circle cx="158.4" cy="600.4" r="1.2"/><circle cx="152.6" cy="585.1" r="1.2"/><circle cx="194.3" cy="587.0" r="1.2"/><circle cx="143.0" cy="599.1" r="1.2"/><circle cx="154.6" cy="598.3" r="1.2"/><circle cx="143.3" cy="593.5" r="1.2"/><circle cx="155.8" cy="596.3" r="1.2"/><circle cx="130.1" cy="599.4" r="1.2"/><circle cx="139.0" cy="592.7" r="1.2"/><circle cx="154.4" cy="591.9" r="1.2"/><circle cx="137.3" cy="603.3" r="1.2"/><circle cx="132.5" cy="593.4" r="1.2"/><circle cx="176.8" cy="587.9" r="1.2"/><circle cx="158.2" cy="586.1" r="1.2"/><circle cx="165.0" cy="600.7" r="1.2"/><circle cx="164.2" cy="598.4" r="1.2"/><circle cx="144.0" cy="593.9" r="1.2"/><circle cx="113.3" cy="605.7" r="1.2"/><circle cx="133.6" cy="596.1" r="1.2"/><circle cx="164.4" cy="593.6" r="1.2"/><circle cx="143.2" cy="593.8" r="1.2"/><circle cx="115.2" cy="592.6" r="1.2"/><circle cx="139.5" cy="583.6" r="1.2"/><circle cx="135.9" cy="599.7" r="1.2"/><circle cx="149.6" cy="603.3" r="1.2"/><circle cx="121.3" cy="593.0" r="1.2"/><circle cx="133.3" cy="599.1" r="1.2"/><circle cx="137.0" cy="583.3" r="1.2"/><circle cx="146.8" cy="592.6" r="1.2"/><circle cx="175.9" cy="595.7" r="1.2"/><circle cx="164.1" cy="602.4" r="1.2"/><circle cx="144.2" cy="600.1" r="1.2"/><circle cx="162.1" cy="592.5" r="1.2"/><circle cx="168.9" cy="600.5" r="1.2"/><circle cx="173.1" cy="589.4" r="1.2"/><circle cx="149.8" cy="586.9" r="1.2"/><circle cx="155.2" cy="587.8" r="1.2"/><circle cx="143.5" cy="581.1" r="1.2"/><circle cx="154.0" cy="600.5" r="1.2"/><circle cx="150.7" cy="599.0" r="1.2"/><circle cx="167.7" cy="598.7" r="1.2"/><circle cx="158.1" cy="588.9" r="1.2"/><circle cx="172.9" cy="600.7" r="1.2"/><circle cx="155.1" cy="592.7" r="1.2"/><circle cx="140.0" cy="596.2" r="1.2"/><circle cx="170.0" cy="594.3" r="1.2"/><circle cx="141.3" cy="587.5" r="1.2"/><circle cx="132.8" cy="596.2" r="1.2"/><circle cx="100.1" cy="595.6" r="1.2"/><circle cx="152.9" cy="582.9" r="1.2"/><circle cx="156.9" cy="596.1" r="1.2"/><circle cx="140.5" cy="589.3" r="1.2"/><circle cx="193.7" cy="595.4" r="1.2"/><circle cx="149.5" cy="595.1" r="1.2"/><circle cx="151.9" cy="590.3" r="1.2"/><circle cx="189.6" cy="609.5" r="1.2"/><circle cx="147.9" cy="589.0" r="1.2"/><circle cx="147.4" cy="609.0" r="1.2"/><circle cx="163.4" cy="598.5" r="1.2"/><circle cx="155.1" cy="605.4" r="1.2"/><circle cx="144.7" cy="604.0" r="1.2"/><circle cx="148.8" cy="589.7" r="1.2"/><circle cx="140.5" cy="574.3" r="1.2"/><circle cx="158.5" cy="595.0" r="1.2"/><circle cx="156.6" cy="599.0" r="1.2"/><circle cx="146.5" cy="598.9" r="1.2"/><circle cx="177.6" cy="609.1" r="1.2"/><circle cx="117.0" cy="595.5" r="1.2"/><circle cx="187.5" cy="597.8" r="1.2"/><circle cx="127.5" cy="595.9" r="1.2"/><circle cx="155.2" cy="599.4" r="1.2"/><circle cx="154.8" cy="596.0" r="1.2"/><circle cx="157.5" cy="592.5" r="1.2"/><circle cx="176.2" cy="598.0" r="1.2"/><circle cx="155.9" cy="592.2" r="1.2"/><circle cx="151.8" cy="597.6" r="1.2"/><circle cx="131.0" cy="588.9" r="1.2"/><circle cx="174.0" cy="581.6" r="1.2"/><circle cx="141.9" cy="597.6" r="1.2"/><circle cx="155.5" cy="607.4" r="1.2"/><circle cx="156.5" cy="599.0" r="1.2"/><circle cx="158.1" cy="595.0" r="1.2"/><circle cx="149.4" cy="593.8" r="1.2"/><circle cx="149.4" cy="591.6" r="1.2"/><circle cx="164.8" cy="606.4" r="1.2"/><circle cx="148.4" cy="592.3" r="1.2"/><circle cx="164.2" cy="598.1" r="1.2"/><circle cx="149.4" cy="585.3" r="1.2"/><circle cx="131.9" cy="584.2" r="1.2"/><circle cx="148.8" cy="583.4" r="1.2"/><circle cx="182.4" cy="588.9" r="1.2"/><circle cx="139.7" cy="590.7" r="1.2"/><circle cx="128.3" cy="602.1" r="1.2"/><circle cx="138.7" cy="592.1" r="1.2"/><circle cx="144.8" cy="601.6" r="1.2"/><circle cx="143.5" cy="595.7" r="1.2"/><circle cx="170.2" cy="594.7" r="1.2"/><circle cx="156.8" cy="593.7" r="1.2"/><circle cx="166.2" cy="609.6" r="1.2"/><circle cx="147.1" cy="599.2" r="1.2"/><circle cx="149.7" cy="587.9" r="1.2"/><circle cx="160.8" cy="597.8" r="1.2"/><circle cx="112.3" cy="596.0" r="1.2"/><circle cx="139.1" cy="599.0" r="1.2"/><circle cx="126.8" cy="599.3" r="1.2"/><circle cx="153.4" cy="595.5" r="1.2"/><circle cx="126.9" cy="593.3" r="1.2"/><circle cx="131.4" cy="600.3" r="1.2"/><circle cx="118.8" cy="590.9" r="1.2"/><circle cx="154.8" cy="587.7" r="1.2"/><circle cx="138.9" cy="596.7" r="1.2"/><circle cx="145.2" cy="603.4" r="1.2"/><circle cx="144.1" cy="585.8" r="1.2"/><circle cx="161.0" cy="594.5" r="1.2"/><circle cx="134.6" cy="586.3" r="1.2"/><circle cx="155.3" cy="598.3" r="1.2"/><circle cx="161.1" cy="602.5" r="1.2"/><circle cx="165.6" cy="595.4" r="1.2"/><circle cx="157.1" cy="596.1" r="1.2"/><circle cx="131.2" cy="603.4" r="1.2"/><circle cx="147.5" cy="585.3" r="1.2"/><circle cx="169.1" cy="605.5" r="1.2"/><circle cx="126.6" cy="587.0" r="1.2"/><circle cx="136.0" cy="601.8" r="1.2"/><circle cx="149.6" cy="598.9" r="1.2"/><circle cx="136.4" cy="587.5" r="1.2"/><circle cx="155.1" cy="600.3" r="1.2"/><circle cx="129.6" cy="589.0" r="1.2"/><circle cx="129.8" cy="589.2" r="1.2"/><circle cx="166.5" cy="605.3" r="1.2"/><circle cx="146.8" cy="602.8" r="1.2"/><circle cx="155.1" cy="605.6" r="1.2"/><circle cx="126.2" cy="592.4" r="1.2"/><circle cx="157.2" cy="597.5" r="1.2"/><circle cx="126.0" cy="586.4" r="1.2"/><circle cx="136.1" cy="584.2" r="1.2"/><circle cx="136.2" cy="592.5" r="1.2"/><circle cx="159.2" cy="628.2" r="1.2"/><circle cx="169.1" cy="599.9" r="1.2"/><circle cx="146.2" cy="588.0" r="1.2"/><circle cx="132.7" cy="602.8" r="1.2"/><circle cx="119.7" cy="597.4" r="1.2"/><circle cx="138.1" cy="601.1" r="1.2"/><circle cx="153.8" cy="584.1" r="1.2"/><circle cx="123.2" cy="573.3" r="1.2"/><circle cx="184.3" cy="595.5" r="1.2"/><circle cx="151.7" cy="593.4" r="1.2"/><circle cx="174.6" cy="589.7" r="1.2"/><circle cx="155.2" cy="585.9" r="1.2"/><circle cx="179.2" cy="592.3" r="1.2"/><circle cx="150.8" cy="594.4" r="1.2"/><circle cx="153.4" cy="598.2" r="1.2"/><circle cx="169.3" cy="604.3" r="1.2"/><circle cx="126.4" cy="600.7" r="1.2"/><circle cx="152.2" cy="588.1" r="1.2"/><circle cx="130.8" cy="604.8" r="1.2"/><circle cx="148.2" cy="593.9" r="1.2"/><circle cx="128.7" cy="592.6" r="1.2"/><circle cx="157.9" cy="599.9" r="1.2"/><circle cx="153.6" cy="593.3" r="1.2"/><circle cx="148.5" cy="590.6" r="1.2"/><circle cx="155.5" cy="612.4" r="1.2"/><circle cx="154.6" cy="606.6" r="1.2"/><circle cx="123.9" cy="583.8" r="1.2"/><circle cx="186.6" cy="602.8" r="1.2"/><circle cx="146.7" cy="577.4" r="1.2"/><circle cx="165.3" cy="598.7" r="1.2"/><circle cx="166.8" cy="586.5" r="1.2"/><circle cx="171.8" cy="592.7" r="1.2"/><circle cx="162.7" cy="589.2" r="1.2"/><circle cx="132.1" cy="599.1" r="1.2"/><circle cx="143.5" cy="588.3" r="1.2"/><circle cx="121.6" cy="590.0" r="1.2"/><circle cx="160.2" cy="587.8" r="1.2"/><circle cx="145.3" cy="586.8" r="1.2"/><circle cx="174.9" cy="597.2" r="1.2"/><circle cx="150.2" cy="590.6" r="1.2"/><circle cx="173.4" cy="601.2" r="1.2"/><circle cx="155.2" cy="595.7" r="1.2"/><circle cx="163.2" cy="594.5" r="1.2"/><circle cx="186.2" cy="603.0" r="1.2"/><circle cx="180.7" cy="599.4" r="1.2"/><circle cx="176.3" cy="582.0" r="1.2"/><circle cx="154.9" cy="595.2" r="1.2"/><circle cx="141.7" cy="590.2" r="1.2"/><circle cx="139.2" cy="590.1" r="1.2"/><circle cx="141.7" cy="605.1" r="1.2"/><circle cx="147.7" cy="585.0" r="1.2"/><circle cx="157.3" cy="601.2" r="1.2"/><circle cx="151.1" cy="604.3" r="1.2"/><circle cx="134.2" cy="603.8" r="1.2"/><circle cx="141.5" cy="592.2" r="1.2"/><circle cx="164.8" cy="584.5" r="1.2"/><circle cx="147.9" cy="594.0" r="1.2"/><circle cx="128.2" cy="599.0" r="1.2"/><circle cx="144.4" cy="590.5" r="1.2"/><circle cx="161.1" cy="599.6" r="1.2"/><circle cx="135.8" cy="590.4" r="1.2"/><circle cx="151.9" cy="597.4" r="1.2"/><circle cx="146.1" cy="596.6" r="1.2"/><circle cx="174.2" cy="592.8" r="1.2"/><circle cx="170.1" cy="599.6" r="1.2"/><circle cx="141.3" cy="583.2" r="1.2"/><circle cx="167.9" cy="591.3" r="1.2"/><circle cx="133.1" cy="588.2" r="1.2"/><circle cx="150.0" cy="600.5" r="1.2"/><circle cx="134.5" cy="580.2" r="1.2"/><circle cx="108.0" cy="563.7" r="1.2"/><circle cx="140.0" cy="580.0" r="1.2"/><circle cx="137.5" cy="585.0" r="1.2"/><circle cx="167.5" cy="589.4" r="1.2"/><circle cx="135.0" cy="601.7" r="1.2"/><circle cx="137.9" cy="593.8" r="1.2"/><circle cx="129.2" cy="590.2" r="1.2"/><circle cx="182.6" cy="612.5" r="1.2"/><circle cx="148.0" cy="600.0" r="1.2"/><circle cx="154.1" cy="586.4" r="1.2"/><circle cx="139.4" cy="591.7" r="1.2"/><circle cx="160.5" cy="598.7" r="1.2"/><circle cx="160.1" cy="595.9" r="1.2"/><circle cx="136.2" cy="574.0" r="1.2"/><circle cx="182.3" cy="602.8" r="1.2"/><circle cx="163.3" cy="600.7" r="1.2"/><circle cx="142.3" cy="595.1" r="1.2"/><circle cx="140.4" cy="586.3" r="1.2"/><circle cx="164.5" cy="601.9" r="1.2"/><circle cx="157.6" cy="614.9" r="1.2"/><circle cx="165.6" cy="611.5" r="1.2"/><circle cx="154.0" cy="603.5" r="1.2"/><circle cx="154.7" cy="598.7" r="1.2"/><circle cx="131.9" cy="601.3" r="1.2"/><circle cx="124.2" cy="591.3" r="1.2"/><circle cx="134.9" cy="593.8" r="1.2"/><circle cx="191.9" cy="573.4" r="1.2"/><circle cx="158.5" cy="607.1" r="1.2"/><circle cx="159.4" cy="598.3" r="1.2"/><circle cx="167.2" cy="593.0" r="1.2"/><circle cx="148.7" cy="597.1" r="1.2"/><circle cx="233.7" cy="593.8" r="1.2"/><circle cx="161.2" cy="608.4" r="1.2"/><circle cx="156.5" cy="603.4" r="1.2"/><circle cx="150.3" cy="586.8" r="1.2"/><circle cx="132.4" cy="586.5" r="1.2"/><circle cx="171.1" cy="602.3" r="1.2"/><circle cx="171.2" cy="591.4" r="1.2"/><circle cx="143.8" cy="592.8" r="1.2"/><circle cx="182.3" cy="590.1" r="1.2"/><circle cx="173.7" cy="604.5" r="1.2"/><circle cx="186.6" cy="600.7" r="1.2"/><circle cx="152.3" cy="586.1" r="1.2"/><circle cx="146.3" cy="601.5" r="1.2"/><circle cx="134.3" cy="603.1" r="1.2"/><circle cx="163.5" cy="585.9" r="1.2"/><circle cx="137.9" cy="594.4" r="1.2"/><circle cx="117.5" cy="583.6" r="1.2"/><circle cx="159.6" cy="586.3" r="1.2"/><circle cx="137.1" cy="592.5" r="1.2"/><circle cx="138.1" cy="600.2" r="1.2"/><circle cx="161.4" cy="590.3" r="1.2"/><circle cx="147.3" cy="585.1" r="1.2"/><circle cx="151.6" cy="592.3" r="1.2"/><circle cx="161.7" cy="603.2" r="1.2"/><circle cx="161.0" cy="587.9" r="1.2"/><circle cx="165.3" cy="592.0" r="1.2"/><circle cx="156.2" cy="606.7" r="1.2"/><circle cx="163.7" cy="596.0" r="1.2"/><circle cx="158.1" cy="595.4" r="1.2"/><circle cx="183.6" cy="609.5" r="1.2"/><circle cx="138.9" cy="603.3" r="1.2"/><circle cx="159.1" cy="585.8" r="1.2"/><circle cx="136.0" cy="586.9" r="1.2"/><circle cx="182.3" cy="598.5" r="1.2"/><circle cx="166.8" cy="596.8" r="1.2"/><circle cx="129.8" cy="594.5" r="1.2"/><circle cx="157.7" cy="597.8" r="1.2"/><circle cx="122.4" cy="584.9" r="1.2"/><circle cx="156.5" cy="599.3" r="1.2"/><circle cx="109.8" cy="586.1" r="1.2"/><circle cx="141.1" cy="597.0" r="1.2"/><circle cx="132.3" cy="587.1" r="1.2"/><circle cx="151.2" cy="595.1" r="1.2"/><circle cx="146.1" cy="595.9" r="1.2"/><circle cx="144.7" cy="598.6" r="1.2"/><circle cx="147.7" cy="598.1" r="1.2"/><circle cx="121.8" cy="568.6" r="1.2"/><circle cx="162.5" cy="596.6" r="1.2"/><circle cx="130.9" cy="602.9" r="1.2"/><circle cx="145.1" cy="601.1" r="1.2"/><circle cx="161.3" cy="596.0" r="1.2"/><circle cx="134.6" cy="583.8" r="1.2"/><circle cx="171.4" cy="597.7" r="1.2"/><circle cx="142.0" cy="586.0" r="1.2"/><circle cx="173.5" cy="609.4" r="1.2"/><circle cx="132.7" cy="585.0" r="1.2"/><circle cx="158.7" cy="600.2" r="1.2"/><circle cx="152.9" cy="596.0" r="1.2"/><circle cx="149.6" cy="594.0" r="1.2"/><circle cx="151.9" cy="597.3" r="1.2"/><circle cx="155.9" cy="595.4" r="1.2"/><circle cx="157.3" cy="594.5" r="1.2"/><circle cx="147.6" cy="594.5" r="1.2"/><circle cx="149.8" cy="592.3" r="1.2"/><circle cx="177.6" cy="587.6" r="1.2"/><circle cx="159.8" cy="599.4" r="1.2"/><circle cx="161.5" cy="606.0" r="1.2"/><circle cx="193.6" cy="593.6" r="1.2"/><circle cx="144.6" cy="590.9" r="1.2"/><circle cx="171.9" cy="593.1" r="1.2"/><circle cx="160.9" cy="600.7" r="1.2"/><circle cx="165.4" cy="599.0" r="1.2"/><circle cx="153.2" cy="594.6" r="1.2"/><circle cx="150.1" cy="594.3" r="1.2"/><circle cx="143.6" cy="606.8" r="1.2"/><circle cx="164.1" cy="592.9" r="1.2"/><circle cx="145.8" cy="596.7" r="1.2"/><circle cx="147.2" cy="602.0" r="1.2"/><circle cx="135.2" cy="590.6" r="1.2"/><circle cx="152.7" cy="587.5" r="1.2"/><circle cx="160.4" cy="597.0" r="1.2"/><circle cx="140.8" cy="595.3" r="1.2"/><circle cx="162.6" cy="596.0" r="1.2"/><circle cx="171.4" cy="600.3" r="1.2"/><circle cx="154.6" cy="588.6" r="1.2"/><circle cx="153.9" cy="603.4" r="1.2"/><circle cx="103.2" cy="588.0" r="1.2"/><circle cx="169.4" cy="603.0" r="1.2"/><circle cx="171.4" cy="607.8" r="1.2"/><circle cx="129.3" cy="599.0" r="1.2"/><circle cx="142.1" cy="598.7" r="1.2"/><circle cx="143.0" cy="593.8" r="1.2"/><circle cx="153.5" cy="592.9" r="1.2"/><circle cx="121.2" cy="589.9" r="1.2"/><circle cx="142.8" cy="598.3" r="1.2"/><circle cx="148.3" cy="595.8" r="1.2"/><circle cx="133.4" cy="599.8" r="1.2"/><circle cx="143.0" cy="595.8" r="1.2"/><circle cx="153.1" cy="601.1" r="1.2"/><circle cx="148.8" cy="592.7" r="1.2"/><circle cx="147.2" cy="589.4" r="1.2"/><circle cx="136.9" cy="606.1" r="1.2"/><circle cx="140.7" cy="590.5" r="1.2"/><circle cx="158.1" cy="599.7" r="1.2"/><circle cx="163.5" cy="607.2" r="1.2"/><circle cx="144.8" cy="585.9" r="1.2"/><circle cx="144.2" cy="600.2" r="1.2"/><circle cx="151.7" cy="593.2" r="1.2"/><circle cx="145.7" cy="597.8" r="1.2"/><circle cx="160.9" cy="586.4" r="1.2"/><circle cx="140.5" cy="591.7" r="1.2"/><circle cx="132.7" cy="591.7" r="1.2"/><circle cx="186.8" cy="597.0" r="1.2"/><circle cx="141.7" cy="586.8" r="1.2"/><circle cx="146.1" cy="597.2" r="1.2"/><circle cx="150.0" cy="586.8" r="1.2"/><circle cx="155.3" cy="599.6" r="1.2"/><circle cx="139.3" cy="600.4" r="1.2"/><circle cx="155.1" cy="601.1" r="1.2"/><circle cx="128.2" cy="583.5" r="1.2"/><circle cx="133.1" cy="587.0" r="1.2"/><circle cx="162.5" cy="595.8" r="1.2"/><circle cx="160.9" cy="611.6" r="1.2"/><circle cx="141.3" cy="594.9" r="1.2"/><circle cx="163.3" cy="597.3" r="1.2"/><circle cx="161.2" cy="601.2" r="1.2"/><circle cx="144.3" cy="596.7" r="1.2"/><circle cx="157.7" cy="602.1" r="1.2"/><circle cx="148.1" cy="585.5" r="1.2"/><circle cx="170.8" cy="612.1" r="1.2"/><circle cx="149.3" cy="605.7" r="1.2"/><circle cx="154.9" cy="601.1" r="1.2"/><circle cx="158.6" cy="590.5" r="1.2"/><circle cx="147.9" cy="591.8" r="1.2"/><circle cx="137.4" cy="596.2" r="1.2"/><circle cx="143.9" cy="597.7" r="1.2"/><circle cx="162.5" cy="591.2" r="1.2"/><circle cx="144.8" cy="588.4" r="1.2"/><circle cx="148.3" cy="588.9" r="1.2"/><circle cx="148.3" cy="593.6" r="1.2"/><circle cx="177.9" cy="592.1" r="1.2"/><circle cx="138.2" cy="593.0" r="1.2"/><circle cx="166.2" cy="587.2" r="1.2"/><circle cx="174.0" cy="594.7" r="1.2"/><circle cx="136.4" cy="574.9" r="1.2"/><circle cx="167.4" cy="594.2" r="1.2"/><circle cx="153.7" cy="596.4" r="1.2"/><circle cx="163.4" cy="595.1" r="1.2"/><circle cx="122.8" cy="600.0" r="1.2"/><circle cx="166.0" cy="605.0" r="1.2"/><circle cx="147.5" cy="588.8" r="1.2"/><circle cx="147.8" cy="596.2" r="1.2"/><circle cx="160.4" cy="597.4" r="1.2"/><circle cx="138.2" cy="581.3" r="1.2"/><circle cx="158.9" cy="595.7" r="1.2"/><circle cx="145.6" cy="593.9" r="1.2"/><circle cx="119.6" cy="597.2" r="1.2"/><circle cx="144.8" cy="592.5" r="1.2"/><circle cx="125.5" cy="601.0" r="1.2"/><circle cx="161.3" cy="605.9" r="1.2"/><circle cx="102.8" cy="592.0" r="1.2"/><circle cx="167.3" cy="593.7" r="1.2"/><circle cx="154.2" cy="583.0" r="1.2"/><circle cx="140.4" cy="605.6" r="1.2"/><circle cx="173.5" cy="598.5" r="1.2"/><circle cx="183.2" cy="592.6" r="1.2"/><circle cx="175.6" cy="594.8" r="1.2"/><circle cx="165.6" cy="597.9" r="1.2"/><circle cx="133.8" cy="590.7" r="1.2"/><circle cx="158.3" cy="603.4" r="1.2"/><circle cx="159.8" cy="608.6" r="1.2"/><circle cx="171.6" cy="607.0" r="1.2"/><circle cx="197.7" cy="607.5" r="1.2"/><circle cx="133.7" cy="582.1" r="1.2"/><circle cx="149.7" cy="587.0" r="1.2"/><circle cx="125.9" cy="605.0" r="1.2"/><circle cx="147.8" cy="604.7" r="1.2"/><circle cx="173.4" cy="578.7" r="1.2"/><circle cx="151.8" cy="597.0" r="1.2"/><circle cx="134.5" cy="591.4" r="1.2"/><circle cx="165.5" cy="603.9" r="1.2"/><circle cx="159.4" cy="593.2" r="1.2"/><circle cx="142.8" cy="584.1" r="1.2"/><circle cx="156.8" cy="587.6" r="1.2"/><circle cx="142.0" cy="586.0" r="1.2"/><circle cx="159.3" cy="607.2" r="1.2"/><circle cx="170.7" cy="606.4" r="1.2"/><circle cx="125.0" cy="598.5" r="1.2"/><circle cx="185.3" cy="610.1" r="1.2"/><circle cx="175.4" cy="591.1" r="1.2"/><circle cx="146.0" cy="607.5" r="1.2"/><circle cx="104.2" cy="599.7" r="1.2"/><circle cx="180.6" cy="590.5" r="1.2"/><circle cx="159.7" cy="598.2" r="1.2"/><circle cx="171.2" cy="601.1" r="1.2"/><circle cx="160.8" cy="593.1" r="1.2"/><circle cx="153.6" cy="598.7" r="1.2"/><circle cx="136.6" cy="585.6" r="1.2"/><circle cx="155.6" cy="606.0" r="1.2"/><circle cx="133.9" cy="597.4" r="1.2"/><circle cx="165.3" cy="599.9" r="1.2"/><circle cx="167.7" cy="592.6" r="1.2"/><circle cx="126.7" cy="598.2" r="1.2"/><circle cx="166.5" cy="610.3" r="1.2"/><circle cx="132.8" cy="586.7" r="1.2"/><circle cx="160.2" cy="599.4" r="1.2"/><circle cx="154.9" cy="600.4" r="1.2"/><circle cx="175.6" cy="598.4" r="1.2"/><circle cx="122.4" cy="582.7" r="1.2"/><circle cx="132.4" cy="595.0" r="1.2"/><circle cx="143.6" cy="591.3" r="1.2"/><circle cx="152.1" cy="591.9" r="1.2"/><circle cx="154.6" cy="598.6" r="1.2"/><circle cx="150.5" cy="596.6" r="1.2"/><circle cx="149.4" cy="601.2" r="1.2"/><circle cx="143.1" cy="591.4" r="1.2"/><circle cx="150.2" cy="591.2" r="1.2"/><circle cx="168.3" cy="596.8" r="1.2"/><circle cx="154.0" cy="602.2" r="1.2"/><circle cx="152.2" cy="614.6" r="1.2"/><circle cx="165.0" cy="599.0" r="1.2"/><circle cx="132.5" cy="587.2" r="1.2"/><circle cx="162.2" cy="594.0" r="1.2"/><circle cx="144.5" cy="593.4" r="1.2"/><circle cx="128.4" cy="592.2" r="1.2"/><circle cx="135.2" cy="588.9" r="1.2"/><circle cx="153.4" cy="592.6" r="1.2"/><circle cx="134.6" cy="588.2" r="1.2"/><circle cx="158.5" cy="599.0" r="1.2"/><circle cx="163.3" cy="600.2" r="1.2"/><circle cx="173.5" cy="595.3" r="1.2"/><circle cx="155.9" cy="594.3" r="1.2"/><circle cx="159.9" cy="598.4" r="1.2"/><circle cx="149.8" cy="595.4" r="1.2"/><circle cx="153.8" cy="582.8" r="1.2"/><circle cx="126.9" cy="589.8" r="1.2"/><circle cx="145.4" cy="591.2" r="1.2"/><circle cx="145.2" cy="591.6" r="1.2"/><circle cx="171.9" cy="602.6" r="1.2"/><circle cx="131.4" cy="597.3" r="1.2"/><circle cx="156.4" cy="587.9" r="1.2"/><circle cx="123.9" cy="600.6" r="1.2"/><circle cx="122.5" cy="590.0" r="1.2"/><circle cx="166.1" cy="585.2" r="1.2"/><circle cx="131.5" cy="585.4" r="1.2"/><circle cx="176.7" cy="599.3" r="1.2"/><circle cx="144.0" cy="599.1" r="1.2"/><circle cx="135.3" cy="603.7" r="1.2"/><circle cx="144.9" cy="597.6" r="1.2"/><circle cx="143.8" cy="596.3" r="1.2"/><circle cx="158.4" cy="604.1" r="1.2"/><circle cx="152.9" cy="599.9" r="1.2"/><circle cx="148.6" cy="606.3" r="1.2"/><circle cx="135.2" cy="603.6" r="1.2"/><circle cx="139.4" cy="596.4" r="1.2"/><circle cx="140.6" cy="599.4" r="1.2"/><circle cx="147.3" cy="594.2" r="1.2"/><circle cx="132.2" cy="590.2" r="1.2"/><circle cx="130.8" cy="581.3" r="1.2"/><circle cx="149.1" cy="593.9" r="1.2"/><circle cx="134.5" cy="614.0" r="1.2"/><circle cx="142.5" cy="583.9" r="1.2"/><circle cx="171.9" cy="597.9" r="1.2"/><circle cx="141.8" cy="607.0" r="1.2"/><circle cx="130.3" cy="598.1" r="1.2"/><circle cx="171.2" cy="599.5" r="1.2"/><circle cx="151.1" cy="588.7" r="1.2"/><circle cx="163.7" cy="595.8" r="1.2"/><circle cx="142.1" cy="579.6" r="1.2"/><circle cx="170.0" cy="591.9" r="1.2"/><circle cx="127.0" cy="588.4" r="1.2"/><circle cx="145.7" cy="594.0" r="1.2"/><circle cx="140.4" cy="593.7" r="1.2"/><circle cx="146.9" cy="607.1" r="1.2"/><circle cx="151.4" cy="590.5" r="1.2"/><circle cx="133.6" cy="581.4" r="1.2"/><circle cx="158.2" cy="587.8" r="1.2"/><circle cx="146.4" cy="565.5" r="1.2"/><circle cx="175.7" cy="592.0" r="1.2"/><circle cx="156.6" cy="605.2" r="1.2"/><circle cx="134.4" cy="595.7" r="1.2"/><circle cx="166.5" cy="612.4" r="1.2"/><circle cx="168.4" cy="594.8" r="1.2"/><circle cx="134.9" cy="587.7" r="1.2"/><circle cx="135.5" cy="599.6" r="1.2"/><circle cx="150.1" cy="594.4" r="1.2"/><circle cx="150.9" cy="602.8" r="1.2"/><circle cx="100.9" cy="593.7" r="1.2"/><circle cx="135.2" cy="595.2" r="1.2"/><circle cx="147.8" cy="603.6" r="1.2"/><circle cx="152.6" cy="598.5" r="1.2"/><circle cx="156.8" cy="598.3" r="1.2"/><circle cx="167.1" cy="587.7" r="1.2"/><circle cx="145.4" cy="586.9" r="1.2"/><circle cx="143.7" cy="600.1" r="1.2"/><circle cx="146.0" cy="591.2" r="1.2"/><circle cx="132.2" cy="600.4" r="1.2"/><circle cx="154.1" cy="594.5" r="1.2"/><circle cx="138.3" cy="579.5" r="1.2"/><circle cx="168.5" cy="598.7" r="1.2"/><circle cx="162.3" cy="591.1" r="1.2"/><circle cx="130.6" cy="600.9" r="1.2"/><circle cx="134.3" cy="595.0" r="1.2"/><circle cx="180.4" cy="581.4" r="1.2"/><circle cx="158.3" cy="585.3" r="1.2"/><circle cx="151.6" cy="600.2" r="1.2"/><circle cx="154.9" cy="591.1" r="1.2"/><circle cx="151.0" cy="592.2" r="1.2"/><circle cx="173.3" cy="605.6" r="1.2"/><circle cx="138.6" cy="590.9" r="1.2"/><circle cx="159.7" cy="589.9" r="1.2"/><circle cx="150.7" cy="593.5" r="1.2"/><circle cx="167.4" cy="601.2" r="1.2"/><circle cx="125.0" cy="587.6" r="1.2"/><circle cx="161.7" cy="593.7" r="1.2"/><circle cx="150.8" cy="589.7" r="1.2"/><circle cx="131.1" cy="581.9" r="1.2"/><circle cx="153.8" cy="605.4" r="1.2"/><circle cx="143.7" cy="585.9" r="1.2"/><circle cx="153.5" cy="593.5" r="1.2"/><circle cx="128.6" cy="596.9" r="1.2"/><circle cx="172.7" cy="605.7" r="1.2"/><circle cx="196.3" cy="594.6" r="1.2"/><circle cx="148.2" cy="585.9" r="1.2"/><circle cx="144.1" cy="599.1" r="1.2"/><circle cx="120.4" cy="591.6" r="1.2"/><circle cx="121.6" cy="586.1" r="1.2"/><circle cx="129.3" cy="588.6" r="1.2"/><circle cx="129.4" cy="594.7" r="1.2"/><circle cx="130.2" cy="592.9" r="1.2"/><circle cx="146.6" cy="597.9" r="1.2"/><circle cx="145.8" cy="601.7" r="1.2"/><circle cx="134.5" cy="597.0" r="1.2"/><circle cx="161.5" cy="592.0" r="1.2"/><circle cx="170.0" cy="599.4" r="1.2"/><circle cx="169.0" cy="597.3" r="1.2"/><circle cx="145.2" cy="602.3" r="1.2"/><circle cx="141.3" cy="594.0" r="1.2"/><circle cx="155.3" cy="599.3" r="1.2"/><circle cx="139.9" cy="596.7" r="1.2"/><circle cx="151.0" cy="614.3" r="1.2"/><circle cx="148.6" cy="600.4" r="1.2"/><circle cx="155.3" cy="583.6" r="1.2"/><circle cx="150.6" cy="610.8" r="1.2"/><circle cx="173.1" cy="597.2" r="1.2"/><circle cx="145.6" cy="596.2" r="1.2"/><circle cx="151.3" cy="603.2" r="1.2"/><circle cx="143.9" cy="593.2" r="1.2"/><circle cx="238.5" cy="595.5" r="1.2"/><circle cx="53.0" cy="590.0" r="1.2"/><circle cx="85.0" cy="592.0" r="1.2"/><circle cx="96.0" cy="595.0" r="1.2"/><circle cx="108.0" cy="601.0" r="1.2"/><circle cx="196.0" cy="613.0" r="1.2"/><circle cx="185.0" cy="620.0" r="1.2"/><circle cx="131.0" cy="625.0" r="1.2"/><circle cx="152.0" cy="624.0" r="1.2"/><circle cx="170.0" cy="629.0" r="1.2"/></g>
<g fill="#c0103a" fill-opacity="1.0"><circle cx="143.8" cy="594.7" r="1.05"/><circle cx="126.8" cy="587.6" r="1.05"/><circle cx="156.7" cy="594.8" r="1.05"/><circle cx="137.1" cy="588.5" r="1.05"/><circle cx="138.5" cy="590.9" r="1.05"/><circle cx="122.6" cy="581.2" r="1.05"/><circle cx="158.1" cy="601.1" r="1.05"/><circle cx="128.6" cy="576.4" r="1.05"/><circle cx="157.0" cy="580.5" r="1.05"/><circle cx="140.5" cy="588.3" r="1.05"/><circle cx="151.2" cy="593.6" r="1.05"/><circle cx="153.8" cy="598.2" r="1.05"/><circle cx="134.1" cy="590.5" r="1.05"/><circle cx="147.5" cy="593.7" r="1.05"/><circle cx="155.8" cy="585.5" r="1.05"/><circle cx="150.2" cy="590.4" r="1.05"/><circle cx="157.6" cy="585.8" r="1.05"/><circle cx="127.3" cy="592.9" r="1.05"/><circle cx="151.9" cy="591.1" r="1.05"/><circle cx="155.3" cy="586.5" r="1.05"/><circle cx="143.2" cy="586.4" r="1.05"/><circle cx="145.6" cy="580.1" r="1.05"/><circle cx="147.9" cy="580.4" r="1.05"/><circle cx="146.0" cy="589.6" r="1.05"/><circle cx="136.5" cy="574.0" r="1.05"/><circle cx="149.0" cy="593.6" r="1.05"/><circle cx="141.0" cy="594.6" r="1.05"/><circle cx="143.6" cy="589.8" r="1.05"/><circle cx="163.8" cy="584.5" r="1.05"/><circle cx="142.7" cy="585.1" r="1.05"/><circle cx="157.5" cy="596.0" r="1.05"/><circle cx="141.4" cy="592.7" r="1.05"/><circle cx="146.9" cy="591.2" r="1.05"/><circle cx="133.6" cy="581.0" r="1.05"/><circle cx="140.6" cy="580.4" r="1.05"/><circle cx="146.3" cy="594.3" r="1.05"/><circle cx="158.5" cy="594.7" r="1.05"/><circle cx="151.3" cy="593.4" r="1.05"/><circle cx="149.3" cy="586.7" r="1.05"/><circle cx="153.2" cy="584.6" r="1.05"/><circle cx="137.3" cy="587.8" r="1.05"/><circle cx="157.9" cy="589.1" r="1.05"/><circle cx="164.0" cy="574.6" r="1.05"/><circle cx="115.6" cy="587.6" r="1.05"/><circle cx="152.7" cy="589.8" r="1.05"/><circle cx="164.8" cy="590.2" r="1.05"/><circle cx="133.2" cy="590.0" r="1.05"/><circle cx="140.5" cy="589.1" r="1.05"/><circle cx="136.4" cy="594.1" r="1.05"/><circle cx="133.1" cy="589.4" r="1.05"/><circle cx="146.1" cy="586.1" r="1.05"/><circle cx="139.1" cy="579.9" r="1.05"/><circle cx="134.1" cy="586.7" r="1.05"/><circle cx="145.5" cy="601.5" r="1.05"/><circle cx="137.0" cy="588.3" r="1.05"/><circle cx="142.5" cy="581.0" r="1.05"/><circle cx="135.0" cy="586.9" r="1.05"/><circle cx="137.8" cy="585.7" r="1.05"/><circle cx="142.9" cy="589.4" r="1.05"/><circle cx="143.8" cy="582.7" r="1.05"/><circle cx="164.4" cy="590.7" r="1.05"/><circle cx="134.4" cy="587.7" r="1.05"/><circle cx="129.4" cy="590.4" r="1.05"/><circle cx="142.8" cy="580.5" r="1.05"/><circle cx="153.4" cy="590.1" r="1.05"/><circle cx="139.1" cy="593.9" r="1.05"/><circle cx="148.0" cy="588.8" r="1.05"/><circle cx="161.8" cy="578.7" r="1.05"/><circle cx="144.1" cy="580.1" r="1.05"/><circle cx="150.8" cy="588.4" r="1.05"/><circle cx="150.0" cy="593.6" r="1.05"/><circle cx="164.0" cy="592.6" r="1.05"/><circle cx="160.3" cy="585.1" r="1.05"/><circle cx="150.7" cy="590.7" r="1.05"/><circle cx="157.7" cy="589.2" r="1.05"/><circle cx="142.1" cy="586.2" r="1.05"/><circle cx="155.1" cy="586.0" r="1.05"/><circle cx="146.9" cy="585.6" r="1.05"/><circle cx="121.2" cy="589.4" r="1.05"/><circle cx="147.4" cy="590.0" r="1.05"/><circle cx="171.8" cy="589.6" r="1.05"/><circle cx="126.0" cy="591.0" r="1.05"/><circle cx="142.0" cy="589.6" r="1.05"/><circle cx="142.6" cy="584.1" r="1.05"/><circle cx="149.4" cy="587.9" r="1.05"/><circle cx="148.3" cy="587.9" r="1.05"/><circle cx="142.2" cy="589.7" r="1.05"/><circle cx="139.4" cy="587.3" r="1.05"/><circle cx="150.7" cy="591.7" r="1.05"/><circle cx="149.2" cy="591.3" r="1.05"/><circle cx="143.6" cy="593.7" r="1.05"/><circle cx="150.4" cy="604.2" r="1.05"/><circle cx="162.7" cy="580.3" r="1.05"/><circle cx="163.9" cy="596.1" r="1.05"/><circle cx="131.6" cy="581.0" r="1.05"/><circle cx="141.4" cy="588.3" r="1.05"/><circle cx="150.2" cy="591.0" r="1.05"/><circle cx="127.9" cy="595.0" r="1.05"/><circle cx="147.4" cy="594.3" r="1.05"/><circle cx="143.3" cy="585.6" r="1.05"/><circle cx="145.2" cy="586.8" r="1.05"/><circle cx="154.8" cy="585.6" r="1.05"/><circle cx="143.7" cy="584.7" r="1.05"/><circle cx="155.2" cy="583.9" r="1.05"/><circle cx="161.1" cy="583.7" r="1.05"/><circle cx="147.2" cy="582.3" r="1.05"/><circle cx="127.1" cy="589.6" r="1.05"/><circle cx="151.9" cy="590.2" r="1.05"/><circle cx="152.9" cy="594.0" r="1.05"/><circle cx="155.8" cy="586.6" r="1.05"/><circle cx="149.5" cy="581.0" r="1.05"/><circle cx="136.0" cy="587.5" r="1.05"/><circle cx="150.5" cy="590.4" r="1.05"/><circle cx="161.0" cy="589.9" r="1.05"/><circle cx="135.9" cy="583.8" r="1.05"/><circle cx="156.9" cy="597.7" r="1.05"/><circle cx="137.7" cy="589.3" r="1.05"/><circle cx="153.5" cy="590.1" r="1.05"/><circle cx="144.3" cy="587.0" r="1.05"/><circle cx="160.0" cy="603.7" r="1.05"/><circle cx="157.1" cy="589.3" r="1.05"/><circle cx="169.6" cy="587.0" r="1.05"/><circle cx="140.8" cy="587.5" r="1.05"/><circle cx="144.9" cy="591.1" r="1.05"/><circle cx="144.4" cy="594.9" r="1.05"/><circle cx="138.1" cy="594.8" r="1.05"/><circle cx="157.2" cy="577.5" r="1.05"/><circle cx="131.4" cy="581.1" r="1.05"/><circle cx="158.5" cy="581.2" r="1.05"/><circle cx="139.0" cy="587.4" r="1.05"/><circle cx="170.3" cy="591.6" r="1.05"/><circle cx="139.7" cy="599.5" r="1.05"/><circle cx="140.0" cy="589.8" r="1.05"/><circle cx="132.3" cy="585.0" r="1.05"/><circle cx="137.7" cy="585.9" r="1.05"/><circle cx="136.9" cy="591.3" r="1.05"/><circle cx="130.9" cy="584.7" r="1.05"/><circle cx="147.2" cy="585.4" r="1.05"/><circle cx="150.1" cy="588.8" r="1.05"/><circle cx="148.5" cy="587.1" r="1.05"/><circle cx="130.2" cy="592.9" r="1.05"/><circle cx="126.2" cy="594.2" r="1.05"/><circle cx="149.2" cy="587.3" r="1.05"/><circle cx="157.3" cy="593.8" r="1.05"/><circle cx="127.2" cy="579.3" r="1.05"/><circle cx="134.5" cy="590.1" r="1.05"/><circle cx="129.3" cy="582.5" r="1.05"/><circle cx="135.1" cy="586.8" r="1.05"/><circle cx="159.8" cy="583.5" r="1.05"/><circle cx="162.2" cy="592.8" r="1.05"/><circle cx="118.9" cy="582.4" r="1.05"/><circle cx="138.4" cy="597.7" r="1.05"/><circle cx="148.1" cy="582.6" r="1.05"/><circle cx="137.6" cy="584.7" r="1.05"/><circle cx="149.1" cy="589.2" r="1.05"/><circle cx="129.9" cy="588.7" r="1.05"/><circle cx="162.6" cy="587.3" r="1.05"/><circle cx="135.9" cy="589.9" r="1.05"/><circle cx="138.0" cy="585.7" r="1.05"/><circle cx="151.4" cy="582.4" r="1.05"/><circle cx="141.3" cy="597.3" r="1.05"/><circle cx="140.5" cy="584.8" r="1.05"/><circle cx="152.0" cy="590.9" r="1.05"/><circle cx="143.5" cy="591.9" r="1.05"/><circle cx="135.8" cy="593.9" r="1.05"/><circle cx="134.4" cy="592.7" r="1.05"/><circle cx="153.7" cy="585.4" r="1.05"/><circle cx="126.9" cy="589.4" r="1.05"/><circle cx="153.0" cy="590.6" r="1.05"/><circle cx="133.1" cy="595.5" r="1.05"/><circle cx="131.6" cy="583.8" r="1.05"/><circle cx="144.7" cy="588.9" r="1.05"/><circle cx="151.6" cy="586.9" r="1.05"/><circle cx="155.5" cy="586.5" r="1.05"/><circle cx="150.9" cy="586.5" r="1.05"/><circle cx="153.9" cy="585.7" r="1.05"/><circle cx="138.9" cy="590.9" r="1.05"/><circle cx="164.5" cy="589.7" r="1.05"/><circle cx="156.5" cy="576.9" r="1.05"/><circle cx="137.6" cy="576.2" r="1.05"/><circle cx="153.1" cy="586.0" r="1.05"/><circle cx="128.5" cy="584.7" r="1.05"/><circle cx="146.0" cy="585.4" r="1.05"/><circle cx="144.3" cy="586.2" r="1.05"/><circle cx="125.7" cy="590.3" r="1.05"/><circle cx="136.2" cy="584.4" r="1.05"/><circle cx="147.9" cy="591.9" r="1.05"/><circle cx="160.5" cy="596.7" r="1.05"/><circle cx="153.3" cy="586.3" r="1.05"/><circle cx="151.5" cy="588.3" r="1.05"/><circle cx="124.7" cy="600.7" r="1.05"/><circle cx="145.3" cy="592.9" r="1.05"/><circle cx="138.8" cy="577.9" r="1.05"/><circle cx="123.5" cy="588.0" r="1.05"/><circle cx="141.5" cy="594.1" r="1.05"/><circle cx="144.9" cy="586.9" r="1.05"/><circle cx="140.0" cy="594.3" r="1.05"/><circle cx="141.3" cy="586.8" r="1.05"/><circle cx="140.6" cy="589.4" r="1.05"/><circle cx="160.0" cy="594.1" r="1.05"/><circle cx="143.2" cy="591.5" r="1.05"/><circle cx="154.0" cy="589.9" r="1.05"/><circle cx="144.3" cy="589.5" r="1.05"/><circle cx="128.7" cy="583.1" r="1.05"/><circle cx="163.7" cy="589.9" r="1.05"/><circle cx="146.9" cy="585.5" r="1.05"/><circle cx="154.4" cy="586.4" r="1.05"/><circle cx="147.2" cy="588.5" r="1.05"/><circle cx="144.2" cy="588.2" r="1.05"/><circle cx="170.9" cy="582.9" r="1.05"/><circle cx="152.9" cy="583.8" r="1.05"/><circle cx="140.0" cy="576.1" r="1.05"/><circle cx="144.6" cy="587.6" r="1.05"/><circle cx="147.8" cy="599.5" r="1.05"/><circle cx="154.3" cy="585.7" r="1.05"/><circle cx="141.6" cy="587.2" r="1.05"/><circle cx="136.1" cy="590.1" r="1.05"/><circle cx="150.2" cy="584.9" r="1.05"/><circle cx="117.1" cy="592.1" r="1.05"/><circle cx="148.1" cy="593.9" r="1.05"/><circle cx="155.8" cy="586.2" r="1.05"/><circle cx="140.7" cy="589.5" r="1.05"/><circle cx="138.0" cy="584.9" r="1.05"/><circle cx="148.6" cy="601.7" r="1.05"/><circle cx="122.7" cy="584.4" r="1.05"/><circle cx="139.1" cy="588.1" r="1.05"/><circle cx="126.3" cy="564.1" r="1.05"/><circle cx="137.1" cy="593.3" r="1.05"/><circle cx="135.7" cy="586.1" r="1.05"/><circle cx="153.7" cy="580.1" r="1.05"/><circle cx="165.9" cy="588.2" r="1.05"/><circle cx="145.4" cy="582.3" r="1.05"/><circle cx="148.4" cy="589.1" r="1.05"/><circle cx="154.1" cy="579.1" r="1.05"/><circle cx="139.0" cy="588.9" r="1.05"/><circle cx="135.9" cy="592.7" r="1.05"/><circle cx="142.4" cy="586.8" r="1.05"/><circle cx="145.4" cy="576.6" r="1.05"/><circle cx="143.0" cy="591.9" r="1.05"/><circle cx="135.3" cy="597.6" r="1.05"/><circle cx="151.1" cy="585.8" r="1.05"/><circle cx="161.6" cy="587.6" r="1.05"/><circle cx="158.6" cy="597.1" r="1.05"/><circle cx="143.8" cy="588.3" r="1.05"/><circle cx="218.0" cy="590.0" r="1.05"/><circle cx="155.5" cy="594.3" r="1.05"/><circle cx="155.4" cy="585.3" r="1.05"/><circle cx="130.8" cy="589.2" r="1.05"/><circle cx="121.2" cy="579.1" r="1.05"/><circle cx="108.9" cy="590.5" r="1.05"/><circle cx="161.9" cy="590.3" r="1.05"/><circle cx="147.7" cy="593.3" r="1.05"/><circle cx="146.9" cy="581.6" r="1.05"/><circle cx="146.8" cy="597.7" r="1.05"/><circle cx="145.5" cy="585.6" r="1.05"/><circle cx="144.3" cy="585.2" r="1.05"/><circle cx="166.2" cy="586.9" r="1.05"/><circle cx="159.0" cy="584.9" r="1.05"/><circle cx="145.1" cy="593.5" r="1.05"/><circle cx="146.2" cy="594.1" r="1.05"/><circle cx="140.7" cy="600.7" r="1.05"/><circle cx="144.1" cy="585.8" r="1.05"/><circle cx="161.6" cy="585.3" r="1.05"/><circle cx="137.6" cy="594.8" r="1.05"/><circle cx="156.2" cy="591.8" r="1.05"/><circle cx="154.4" cy="593.6" r="1.05"/><circle cx="153.8" cy="582.4" r="1.05"/><circle cx="140.2" cy="592.4" r="1.05"/><circle cx="133.7" cy="593.9" r="1.05"/><circle cx="135.5" cy="588.9" r="1.05"/><circle cx="151.1" cy="588.6" r="1.05"/><circle cx="154.1" cy="582.7" r="1.05"/><circle cx="124.5" cy="596.2" r="1.05"/><circle cx="143.8" cy="585.1" r="1.05"/><circle cx="144.9" cy="587.9" r="1.05"/><circle cx="146.3" cy="586.6" r="1.05"/><circle cx="151.5" cy="594.2" r="1.05"/><circle cx="148.5" cy="589.1" r="1.05"/><circle cx="163.3" cy="584.6" r="1.05"/><circle cx="146.2" cy="591.7" r="1.05"/><circle cx="146.5" cy="589.9" r="1.05"/><circle cx="132.9" cy="584.7" r="1.05"/><circle cx="146.6" cy="589.9" r="1.05"/><circle cx="166.2" cy="585.7" r="1.05"/><circle cx="158.8" cy="592.9" r="1.05"/><circle cx="150.9" cy="592.9" r="1.05"/><circle cx="153.9" cy="584.4" r="1.05"/><circle cx="128.3" cy="583.9" r="1.05"/><circle cx="160.5" cy="586.7" r="1.05"/><circle cx="122.2" cy="586.7" r="1.05"/><circle cx="137.0" cy="592.7" r="1.05"/><circle cx="153.5" cy="602.0" r="1.05"/><circle cx="146.8" cy="580.9" r="1.05"/><circle cx="126.9" cy="591.3" r="1.05"/><circle cx="125.6" cy="581.7" r="1.05"/><circle cx="142.9" cy="592.7" r="1.05"/><circle cx="132.8" cy="584.0" r="1.05"/><circle cx="118.7" cy="590.7" r="1.05"/><circle cx="118.3" cy="593.6" r="1.05"/><circle cx="143.3" cy="594.1" r="1.05"/><circle cx="124.9" cy="582.2" r="1.05"/><circle cx="144.0" cy="585.6" r="1.05"/><circle cx="140.1" cy="587.2" r="1.05"/><circle cx="149.1" cy="588.3" r="1.05"/><circle cx="165.9" cy="582.3" r="1.05"/><circle cx="137.1" cy="589.8" r="1.05"/><circle cx="155.2" cy="595.6" r="1.05"/><circle cx="177.7" cy="591.0" r="1.05"/><circle cx="130.4" cy="599.7" r="1.05"/><circle cx="145.5" cy="592.1" r="1.05"/><circle cx="146.9" cy="586.3" r="1.05"/><circle cx="155.2" cy="588.7" r="1.05"/><circle cx="154.3" cy="579.9" r="1.05"/><circle cx="159.8" cy="589.9" r="1.05"/><circle cx="147.0" cy="593.6" r="1.05"/><circle cx="123.9" cy="589.1" r="1.05"/><circle cx="122.8" cy="595.8" r="1.05"/><circle cx="140.6" cy="587.9" r="1.05"/><circle cx="157.1" cy="584.8" r="1.05"/><circle cx="138.7" cy="588.9" r="1.05"/><circle cx="141.4" cy="592.1" r="1.05"/><circle cx="144.9" cy="584.9" r="1.05"/><circle cx="159.6" cy="587.1" r="1.05"/><circle cx="146.2" cy="583.4" r="1.05"/><circle cx="155.3" cy="593.7" r="1.05"/><circle cx="144.1" cy="597.6" r="1.05"/><circle cx="160.0" cy="596.3" r="1.05"/><circle cx="159.4" cy="592.5" r="1.05"/><circle cx="164.8" cy="591.1" r="1.05"/><circle cx="152.7" cy="586.8" r="1.05"/><circle cx="123.2" cy="596.5" r="1.05"/><circle cx="163.0" cy="593.4" r="1.05"/><circle cx="147.1" cy="588.7" r="1.05"/><circle cx="139.7" cy="594.2" r="1.05"/><circle cx="133.9" cy="598.7" r="1.05"/><circle cx="163.4" cy="588.7" r="1.05"/><circle cx="154.4" cy="591.4" r="1.05"/><circle cx="129.3" cy="584.3" r="1.05"/><circle cx="163.4" cy="586.7" r="1.05"/><circle cx="148.9" cy="588.5" r="1.05"/><circle cx="138.6" cy="580.5" r="1.05"/><circle cx="137.6" cy="585.7" r="1.05"/><circle cx="139.4" cy="588.2" r="1.05"/><circle cx="133.7" cy="589.4" r="1.05"/><circle cx="158.9" cy="582.4" r="1.05"/><circle cx="153.4" cy="581.6" r="1.05"/><circle cx="147.0" cy="584.2" r="1.05"/><circle cx="156.4" cy="589.6" r="1.05"/><circle cx="145.4" cy="587.1" r="1.05"/><circle cx="159.5" cy="592.4" r="1.05"/><circle cx="162.7" cy="580.9" r="1.05"/><circle cx="119.9" cy="591.7" r="1.05"/><circle cx="144.7" cy="591.8" r="1.05"/><circle cx="137.8" cy="586.6" r="1.05"/><circle cx="128.3" cy="589.3" r="1.05"/><circle cx="146.7" cy="588.9" r="1.05"/><circle cx="147.6" cy="588.0" r="1.05"/><circle cx="152.3" cy="586.8" r="1.05"/><circle cx="146.2" cy="593.6" r="1.05"/><circle cx="145.9" cy="589.8" r="1.05"/><circle cx="157.6" cy="590.2" r="1.05"/><circle cx="166.7" cy="592.7" r="1.05"/><circle cx="129.3" cy="591.0" r="1.05"/><circle cx="148.3" cy="587.2" r="1.05"/><circle cx="158.3" cy="582.8" r="1.05"/><circle cx="141.7" cy="581.5" r="1.05"/><circle cx="143.5" cy="590.2" r="1.05"/><circle cx="159.7" cy="593.8" r="1.05"/><circle cx="132.0" cy="593.8" r="1.05"/><circle cx="145.5" cy="586.2" r="1.05"/><circle cx="171.5" cy="587.1" r="1.05"/><circle cx="147.2" cy="589.5" r="1.05"/><circle cx="125.4" cy="584.7" r="1.05"/><circle cx="136.3" cy="582.9" r="1.05"/><circle cx="140.5" cy="587.2" r="1.05"/><circle cx="138.8" cy="589.5" r="1.05"/><circle cx="129.8" cy="585.8" r="1.05"/><circle cx="153.2" cy="580.1" r="1.05"/><circle cx="139.6" cy="588.7" r="1.05"/><circle cx="135.1" cy="583.7" r="1.05"/><circle cx="152.6" cy="585.4" r="1.05"/><circle cx="137.0" cy="589.5" r="1.05"/><circle cx="139.0" cy="586.1" r="1.05"/><circle cx="143.1" cy="583.1" r="1.05"/><circle cx="146.9" cy="588.3" r="1.05"/><circle cx="133.5" cy="584.9" r="1.05"/><circle cx="156.0" cy="595.1" r="1.05"/><circle cx="162.0" cy="586.7" r="1.05"/><circle cx="130.3" cy="588.6" r="1.05"/><circle cx="146.5" cy="593.7" r="1.05"/><circle cx="132.3" cy="587.3" r="1.05"/><circle cx="144.9" cy="591.1" r="1.05"/><circle cx="141.7" cy="596.2" r="1.05"/><circle cx="143.7" cy="583.3" r="1.05"/><circle cx="148.8" cy="592.0" r="1.05"/><circle cx="142.1" cy="588.6" r="1.05"/><circle cx="145.7" cy="586.1" r="1.05"/><circle cx="156.0" cy="588.8" r="1.05"/><circle cx="139.4" cy="589.1" r="1.05"/><circle cx="124.5" cy="581.1" r="1.05"/><circle cx="146.1" cy="579.1" r="1.05"/><circle cx="133.6" cy="585.4" r="1.05"/><circle cx="138.8" cy="597.7" r="1.05"/><circle cx="137.1" cy="595.5" r="1.05"/><circle cx="160.1" cy="597.8" r="1.05"/><circle cx="158.5" cy="580.1" r="1.05"/><circle cx="150.1" cy="589.2" r="1.05"/><circle cx="140.1" cy="593.4" r="1.05"/><circle cx="151.8" cy="592.4" r="1.05"/><circle cx="155.6" cy="589.5" r="1.05"/><circle cx="147.7" cy="588.8" r="1.05"/><circle cx="148.1" cy="588.4" r="1.05"/><circle cx="139.6" cy="590.4" r="1.05"/><circle cx="137.8" cy="589.6" r="1.05"/><circle cx="153.6" cy="584.0" r="1.05"/><circle cx="145.7" cy="583.1" r="1.05"/><circle cx="136.5" cy="584.1" r="1.05"/><circle cx="140.1" cy="576.6" r="1.05"/><circle cx="134.3" cy="585.2" r="1.05"/><circle cx="119.2" cy="585.2" r="1.05"/><circle cx="132.7" cy="584.1" r="1.05"/><circle cx="146.1" cy="587.1" r="1.05"/><circle cx="151.5" cy="584.5" r="1.05"/><circle cx="134.5" cy="589.0" r="1.05"/><circle cx="145.0" cy="590.2" r="1.05"/><circle cx="146.2" cy="588.5" r="1.05"/><circle cx="143.6" cy="577.1" r="1.05"/><circle cx="141.0" cy="586.5" r="1.05"/><circle cx="151.6" cy="593.2" r="1.05"/><circle cx="149.2" cy="593.5" r="1.05"/><circle cx="148.3" cy="588.3" r="1.05"/><circle cx="134.8" cy="580.7" r="1.05"/><circle cx="141.6" cy="584.5" r="1.05"/><circle cx="138.4" cy="592.7" r="1.05"/><circle cx="149.6" cy="584.6" r="1.05"/><circle cx="166.6" cy="590.5" r="1.05"/><circle cx="156.4" cy="580.1" r="1.05"/><circle cx="142.2" cy="586.1" r="1.05"/><circle cx="170.8" cy="586.5" r="1.05"/><circle cx="145.2" cy="580.2" r="1.05"/><circle cx="147.1" cy="592.5" r="1.05"/><circle cx="148.8" cy="586.4" r="1.05"/><circle cx="117.9" cy="590.2" r="1.05"/><circle cx="138.5" cy="574.0" r="1.05"/><circle cx="151.5" cy="599.3" r="1.05"/><circle cx="137.6" cy="590.2" r="1.05"/><circle cx="138.5" cy="587.0" r="1.05"/><circle cx="151.6" cy="592.0" r="1.05"/><circle cx="154.9" cy="591.4" r="1.05"/><circle cx="155.2" cy="583.4" r="1.05"/><circle cx="148.0" cy="594.9" r="1.05"/><circle cx="174.2" cy="593.7" r="1.05"/><circle cx="137.7" cy="583.5" r="1.05"/><circle cx="158.3" cy="588.9" r="1.05"/><circle cx="137.0" cy="578.9" r="1.05"/><circle cx="138.3" cy="587.1" r="1.05"/><circle cx="153.7" cy="590.7" r="1.05"/><circle cx="125.7" cy="586.5" r="1.05"/><circle cx="131.2" cy="577.0" r="1.05"/><circle cx="151.8" cy="586.3" r="1.05"/><circle cx="157.2" cy="590.5" r="1.05"/><circle cx="153.6" cy="595.3" r="1.05"/><circle cx="142.5" cy="590.8" r="1.05"/><circle cx="146.0" cy="586.0" r="1.05"/><circle cx="143.0" cy="589.6" r="1.05"/><circle cx="151.1" cy="588.5" r="1.05"/><circle cx="150.0" cy="585.6" r="1.05"/><circle cx="126.5" cy="588.6" r="1.05"/><circle cx="131.0" cy="585.6" r="1.05"/><circle cx="143.5" cy="583.6" r="1.05"/><circle cx="148.7" cy="588.6" r="1.05"/><circle cx="167.5" cy="588.5" r="1.05"/><circle cx="140.8" cy="584.5" r="1.05"/><circle cx="144.7" cy="591.7" r="1.05"/><circle cx="136.6" cy="585.5" r="1.05"/><circle cx="134.4" cy="591.4" r="1.05"/><circle cx="152.2" cy="589.4" r="1.05"/><circle cx="148.9" cy="588.0" r="1.05"/><circle cx="157.6" cy="591.7" r="1.05"/><circle cx="141.3" cy="586.4" r="1.05"/><circle cx="148.1" cy="584.7" r="1.05"/><circle cx="148.7" cy="583.3" r="1.05"/><circle cx="146.6" cy="586.0" r="1.05"/><circle cx="123.9" cy="577.7" r="1.05"/><circle cx="145.7" cy="591.4" r="1.05"/><circle cx="143.6" cy="581.7" r="1.05"/><circle cx="141.9" cy="587.8" r="1.05"/><circle cx="139.8" cy="584.3" r="1.05"/><circle cx="130.7" cy="588.9" r="1.05"/><circle cx="156.1" cy="579.4" r="1.05"/><circle cx="144.2" cy="587.2" r="1.05"/><circle cx="136.0" cy="580.5" r="1.05"/><circle cx="142.6" cy="591.4" r="1.05"/><circle cx="139.5" cy="586.7" r="1.05"/><circle cx="174.3" cy="590.3" r="1.05"/><circle cx="152.9" cy="587.8" r="1.05"/><circle cx="134.8" cy="593.9" r="1.05"/><circle cx="132.4" cy="591.9" r="1.05"/><circle cx="154.6" cy="582.3" r="1.05"/><circle cx="134.2" cy="586.1" r="1.05"/><circle cx="143.5" cy="576.9" r="1.05"/><circle cx="132.5" cy="592.7" r="1.05"/><circle cx="127.9" cy="593.1" r="1.05"/><circle cx="148.8" cy="584.2" r="1.05"/><circle cx="143.6" cy="578.3" r="1.05"/><circle cx="135.7" cy="587.0" r="1.05"/><circle cx="137.0" cy="584.9" r="1.05"/><circle cx="145.9" cy="585.4" r="1.05"/><circle cx="131.2" cy="590.3" r="1.05"/><circle cx="138.6" cy="592.8" r="1.05"/><circle cx="148.2" cy="584.4" r="1.05"/><circle cx="128.5" cy="588.7" r="1.05"/><circle cx="142.2" cy="582.4" r="1.05"/><circle cx="138.0" cy="590.1" r="1.05"/><circle cx="137.5" cy="589.3" r="1.05"/><circle cx="146.2" cy="597.9" r="1.05"/><circle cx="159.6" cy="585.7" r="1.05"/><circle cx="132.0" cy="588.9" r="1.05"/><circle cx="123.0" cy="580.8" r="1.05"/><circle cx="150.4" cy="594.5" r="1.05"/><circle cx="113.1" cy="588.5" r="1.05"/><circle cx="139.4" cy="585.7" r="1.05"/><circle cx="134.4" cy="593.8" r="1.05"/><circle cx="137.8" cy="585.8" r="1.05"/><circle cx="149.1" cy="589.0" r="1.05"/><circle cx="140.2" cy="582.3" r="1.05"/><circle cx="154.8" cy="586.6" r="1.05"/><circle cx="134.4" cy="591.4" r="1.05"/><circle cx="151.4" cy="592.7" r="1.05"/><circle cx="146.8" cy="589.1" r="1.05"/><circle cx="145.0" cy="583.3" r="1.05"/><circle cx="140.1" cy="594.9" r="1.05"/><circle cx="148.7" cy="588.9" r="1.05"/><circle cx="139.5" cy="583.3" r="1.05"/><circle cx="157.9" cy="590.7" r="1.05"/><circle cx="145.3" cy="596.1" r="1.05"/><circle cx="158.1" cy="584.1" r="1.05"/><circle cx="131.5" cy="588.1" r="1.05"/><circle cx="149.6" cy="585.2" r="1.05"/><circle cx="151.0" cy="594.3" r="1.05"/><circle cx="144.2" cy="589.9" r="1.05"/><circle cx="141.1" cy="593.5" r="1.05"/><circle cx="135.4" cy="591.9" r="1.05"/><circle cx="152.8" cy="581.2" r="1.05"/><circle cx="148.3" cy="589.4" r="1.05"/><circle cx="144.6" cy="586.9" r="1.05"/><circle cx="154.3" cy="580.7" r="1.05"/><circle cx="142.5" cy="588.6" r="1.05"/><circle cx="130.2" cy="590.2" r="1.05"/><circle cx="136.5" cy="585.2" r="1.05"/><circle cx="138.0" cy="585.2" r="1.05"/><circle cx="141.8" cy="578.8" r="1.05"/><circle cx="140.0" cy="590.4" r="1.05"/><circle cx="176.0" cy="589.1" r="1.05"/><circle cx="146.7" cy="591.3" r="1.05"/><circle cx="133.2" cy="587.1" r="1.05"/><circle cx="129.3" cy="581.7" r="1.05"/><circle cx="120.4" cy="588.2" r="1.05"/><circle cx="160.0" cy="591.2" r="1.05"/><circle cx="158.6" cy="585.5" r="1.05"/><circle cx="162.9" cy="587.9" r="1.05"/><circle cx="146.8" cy="583.6" r="1.05"/><circle cx="149.5" cy="592.2" r="1.05"/><circle cx="160.3" cy="593.3" r="1.05"/><circle cx="145.8" cy="590.0" r="1.05"/><circle cx="142.3" cy="596.9" r="1.05"/><circle cx="165.6" cy="584.7" r="1.05"/><circle cx="140.2" cy="586.0" r="1.05"/><circle cx="143.6" cy="585.8" r="1.05"/><circle cx="152.3" cy="584.5" r="1.05"/><circle cx="101.0" cy="571.0" r="1.05"/><circle cx="103.0" cy="583.0" r="1.05"/><circle cx="111.0" cy="566.0" r="1.05"/><circle cx="121.0" cy="561.0" r="1.05"/><circle cx="205.0" cy="585.0" r="1.05"/><circle cx="233.0" cy="586.0" r="1.05"/></g>
<line x1="46.40" y1="590.30" x2="252.00" y2="590.30" stroke="#222" stroke-width="0.9"/>
<line x1="146.60" y1="557.80" x2="146.60" y2="635.40" stroke="#222" stroke-width="0.9"/>
<text x="96.90" y="657.40" font-size="7.8" font-weight="bold" fill="#333" textLength="103.70" lengthAdjust="spacingAndGlyphs">Hemoglobin (Log2FC from BL to month 3)</text>
<text x="18.90" y="596.50" font-size="7.7" text-anchor="middle" fill="#333" font-weight="bold" textLength="8.90" lengthAdjust="spacingAndGlyphs" transform="rotate(-90 18.90 596.50)">IL-6</text>
<text x="28.60" y="596.50" font-size="7.7" text-anchor="middle" fill="#333" font-weight="bold" textLength="73.00" lengthAdjust="spacingAndGlyphs" transform="rotate(-90 28.60 596.50)">(Log2FC from BL to month 3)</text>
<circle cx="208.80" cy="619.00" r="1.4" fill="#c0103a"/>
<text x="213.00" y="621.16" font-size="6.0" fill="#333">Placebo</text>
<circle cx="208.80" cy="629.00" r="1.3" fill="#fff" stroke="#74bde2" stroke-width="0.8"/>
<text x="213.00" y="631.16" font-size="6.0" fill="#333">Canakinumab</text>
<line x1="305.80" y1="558.00" x2="305.80" y2="635.20" stroke="#333" stroke-width="1.1"/>
<line x1="305.80" y1="635.20" x2="510.50" y2="635.20" stroke="#333" stroke-width="1.1"/>
<line x1="303.50" y1="559.88" x2="305.80" y2="559.88" stroke="#333" stroke-width="0.8"/>
<text x="301.80" y="562.11" font-size="6.2" text-anchor="end" fill="#333">6</text>
<line x1="303.50" y1="579.89" x2="305.80" y2="579.89" stroke="#333" stroke-width="0.8"/>
<text x="301.80" y="582.12" font-size="6.2" text-anchor="end" fill="#333">3</text>
<line x1="303.50" y1="599.90" x2="305.80" y2="599.90" stroke="#333" stroke-width="0.8"/>
<text x="301.80" y="602.13" font-size="6.2" text-anchor="end" fill="#333">0</text>
<line x1="303.50" y1="619.91" x2="305.80" y2="619.91" stroke="#333" stroke-width="0.8"/>
<text x="301.80" y="622.14" font-size="6.2" text-anchor="end" fill="#333">−3</text>
<line x1="350.00" y1="635.20" x2="350.00" y2="637.50" stroke="#333" stroke-width="0.8"/>
<text x="350.00" y="646.23" font-size="6.2" text-anchor="middle" fill="#333">−0.5</text>
<line x1="405.60" y1="635.20" x2="405.60" y2="637.50" stroke="#333" stroke-width="0.8"/>
<text x="405.60" y="646.23" font-size="6.2" text-anchor="middle" fill="#333">0.0</text>
<line x1="461.20" y1="635.20" x2="461.20" y2="637.50" stroke="#333" stroke-width="0.8"/>
<text x="461.20" y="646.23" font-size="6.2" text-anchor="middle" fill="#333">0.5</text>
<g fill="#3aa2dc" fill-opacity="0.7"><circle cx="416.8" cy="605.6" r="1.2"/><circle cx="419.0" cy="591.6" r="1.2"/><circle cx="428.5" cy="583.5" r="1.2"/><circle cx="419.7" cy="600.8" r="1.2"/><circle cx="397.4" cy="586.4" r="1.2"/><circle cx="408.8" cy="597.5" r="1.2"/><circle cx="406.2" cy="603.5" r="1.2"/><circle cx="404.3" cy="599.0" r="1.2"/><circle cx="397.4" cy="585.6" r="1.2"/><circle cx="417.7" cy="618.7" r="1.2"/><circle cx="427.5" cy="606.3" r="1.2"/><circle cx="413.9" cy="593.4" r="1.2"/><circle cx="406.7" cy="593.9" r="1.2"/><circle cx="421.3" cy="605.2" r="1.2"/><circle cx="427.6" cy="601.1" r="1.2"/><circle cx="396.7" cy="606.1" r="1.2"/><circle cx="390.4" cy="610.4" r="1.2"/><circle cx="427.2" cy="610.2" r="1.2"/><circle cx="409.2" cy="596.3" r="1.2"/><circle cx="404.5" cy="605.0" r="1.2"/><circle cx="397.5" cy="606.3" r="1.2"/><circle cx="405.5" cy="609.6" r="1.2"/><circle cx="424.6" cy="599.8" r="1.2"/><circle cx="417.4" cy="591.5" r="1.2"/><circle cx="406.1" cy="601.6" r="1.2"/><circle cx="347.7" cy="575.4" r="1.2"/><circle cx="414.8" cy="594.7" r="1.2"/><circle cx="410.8" cy="609.1" r="1.2"/><circle cx="425.8" cy="600.1" r="1.2"/><circle cx="419.4" cy="594.9" r="1.2"/><circle cx="411.8" cy="609.1" r="1.2"/><circle cx="402.4" cy="606.0" r="1.2"/><circle cx="395.9" cy="595.0" r="1.2"/><circle cx="377.3" cy="605.5" r="1.2"/><circle cx="408.6" cy="582.6" r="1.2"/><circle cx="422.1" cy="612.3" r="1.2"/><circle cx="388.3" cy="611.3" r="1.2"/><circle cx="419.6" cy="601.0" r="1.2"/><circle cx="405.6" cy="613.1" r="1.2"/><circle cx="406.0" cy="592.5" r="1.2"/><circle cx="408.6" cy="602.9" r="1.2"/><circle cx="417.1" cy="602.1" r="1.2"/><circle cx="409.5" cy="606.9" r="1.2"/><circle cx="410.1" cy="595.7" r="1.2"/><circle cx="419.2" cy="594.4" r="1.2"/><circle cx="397.0" cy="561.1" r="1.2"/><circle cx="419.7" cy="596.8" r="1.2"/><circle cx="420.6" cy="594.2" r="1.2"/><circle cx="404.5" cy="606.0" r="1.2"/><circle cx="402.0" cy="599.3" r="1.2"/><circle cx="403.6" cy="595.3" r="1.2"/><circle cx="416.8" cy="600.4" r="1.2"/><circle cx="415.7" cy="596.5" r="1.2"/><circle cx="412.4" cy="604.6" r="1.2"/><circle cx="413.7" cy="600.8" r="1.2"/><circle cx="434.4" cy="599.3" r="1.2"/><circle cx="416.7" cy="610.9" r="1.2"/><circle cx="422.8" cy="601.7" r="1.2"/><circle cx="416.1" cy="606.7" r="1.2"/><circle cx="426.9" cy="589.1" r="1.2"/><circle cx="400.2" cy="586.3" r="1.2"/><circle cx="406.2" cy="599.1" r="1.2"/><circle cx="396.1" cy="599.7" r="1.2"/><circle cx="406.9" cy="602.4" r="1.2"/><circle cx="411.7" cy="601.2" r="1.2"/><circle cx="395.8" cy="602.2" r="1.2"/><circle cx="409.9" cy="598.0" r="1.2"/><circle cx="386.4" cy="593.8" r="1.2"/><circle cx="407.3" cy="599.2" r="1.2"/><circle cx="371.2" cy="589.8" r="1.2"/><circle cx="386.0" cy="592.2" r="1.2"/><circle cx="425.7" cy="606.9" r="1.2"/><circle cx="449.7" cy="594.4" r="1.2"/><circle cx="393.9" cy="609.5" r="1.2"/><circle cx="415.1" cy="606.5" r="1.2"/><circle cx="410.5" cy="603.6" r="1.2"/><circle cx="398.6" cy="593.7" r="1.2"/><circle cx="421.9" cy="603.6" r="1.2"/><circle cx="418.0" cy="602.6" r="1.2"/><circle cx="396.0" cy="586.2" r="1.2"/><circle cx="402.7" cy="604.5" r="1.2"/><circle cx="400.9" cy="601.4" r="1.2"/><circle cx="374.4" cy="595.1" r="1.2"/><circle cx="411.3" cy="595.6" r="1.2"/><circle cx="415.1" cy="601.3" r="1.2"/><circle cx="399.0" cy="599.1" r="1.2"/><circle cx="425.1" cy="592.7" r="1.2"/><circle cx="408.7" cy="604.2" r="1.2"/><circle cx="396.6" cy="607.4" r="1.2"/><circle cx="402.5" cy="595.3" r="1.2"/><circle cx="427.7" cy="607.6" r="1.2"/><circle cx="401.8" cy="613.8" r="1.2"/><circle cx="436.3" cy="600.5" r="1.2"/><circle cx="407.2" cy="611.1" r="1.2"/><circle cx="409.6" cy="613.4" r="1.2"/><circle cx="429.0" cy="605.3" r="1.2"/><circle cx="424.8" cy="606.9" r="1.2"/><circle cx="402.3" cy="591.0" r="1.2"/><circle cx="403.4" cy="596.3" r="1.2"/><circle cx="381.7" cy="576.4" r="1.2"/><circle cx="407.8" cy="603.7" r="1.2"/><circle cx="420.1" cy="601.3" r="1.2"/><circle cx="406.0" cy="590.5" r="1.2"/><circle cx="412.8" cy="615.2" r="1.2"/><circle cx="400.3" cy="605.9" r="1.2"/><circle cx="427.3" cy="590.3" r="1.2"/><circle cx="400.8" cy="602.5" r="1.2"/><circle cx="389.7" cy="588.1" r="1.2"/><circle cx="454.8" cy="630.7" r="1.2"/><circle cx="414.1" cy="595.9" r="1.2"/><circle cx="423.2" cy="607.1" r="1.2"/><circle cx="404.2" cy="608.3" r="1.2"/><circle cx="404.7" cy="603.8" r="1.2"/><circle cx="403.8" cy="596.7" r="1.2"/><circle cx="403.1" cy="593.4" r="1.2"/><circle cx="423.4" cy="606.1" r="1.2"/><circle cx="411.0" cy="591.7" r="1.2"/><circle cx="411.9" cy="600.6" r="1.2"/><circle cx="399.6" cy="602.9" r="1.2"/><circle cx="408.3" cy="597.5" r="1.2"/><circle cx="403.8" cy="601.8" r="1.2"/><circle cx="419.5" cy="597.2" r="1.2"/><circle cx="417.1" cy="597.8" r="1.2"/><circle cx="392.4" cy="605.1" r="1.2"/><circle cx="417.4" cy="591.0" r="1.2"/><circle cx="398.6" cy="601.6" r="1.2"/><circle cx="408.5" cy="599.9" r="1.2"/><circle cx="392.1" cy="598.1" r="1.2"/><circle cx="420.2" cy="598.4" r="1.2"/><circle cx="392.3" cy="606.6" r="1.2"/><circle cx="415.9" cy="584.5" r="1.2"/><circle cx="401.7" cy="611.4" r="1.2"/><circle cx="415.4" cy="602.9" r="1.2"/><circle cx="411.8" cy="606.1" r="1.2"/><circle cx="408.7" cy="604.1" r="1.2"/><circle cx="425.3" cy="598.0" r="1.2"/><circle cx="396.2" cy="606.3" r="1.2"/><circle cx="404.9" cy="607.1" r="1.2"/><circle cx="401.5" cy="596.9" r="1.2"/><circle cx="374.3" cy="610.0" r="1.2"/><circle cx="375.9" cy="622.5" r="1.2"/><circle cx="413.5" cy="585.5" r="1.2"/><circle cx="405.9" cy="598.6" r="1.2"/><circle cx="404.8" cy="581.3" r="1.2"/><circle cx="400.0" cy="600.7" r="1.2"/><circle cx="408.1" cy="603.5" r="1.2"/><circle cx="398.4" cy="613.1" r="1.2"/><circle cx="397.6" cy="591.0" r="1.2"/><circle cx="361.9" cy="616.9" r="1.2"/><circle cx="401.4" cy="596.6" r="1.2"/><circle cx="409.9" cy="606.8" r="1.2"/><circle cx="402.0" cy="605.1" r="1.2"/><circle cx="433.9" cy="603.3" r="1.2"/><circle cx="396.1" cy="598.9" r="1.2"/><circle cx="424.4" cy="608.8" r="1.2"/><circle cx="406.7" cy="613.4" r="1.2"/><circle cx="396.1" cy="585.9" r="1.2"/><circle cx="422.1" cy="604.2" r="1.2"/><circle cx="416.4" cy="599.2" r="1.2"/><circle cx="392.0" cy="592.5" r="1.2"/><circle cx="396.8" cy="598.3" r="1.2"/><circle cx="425.8" cy="595.1" r="1.2"/><circle cx="421.1" cy="591.3" r="1.2"/><circle cx="390.5" cy="605.8" r="1.2"/><circle cx="386.9" cy="606.9" r="1.2"/><circle cx="407.0" cy="602.8" r="1.2"/><circle cx="404.9" cy="593.8" r="1.2"/><circle cx="408.3" cy="599.8" r="1.2"/><circle cx="404.7" cy="590.6" r="1.2"/><circle cx="396.3" cy="610.3" r="1.2"/><circle cx="402.7" cy="601.5" r="1.2"/><circle cx="413.5" cy="601.8" r="1.2"/><circle cx="407.8" cy="603.8" r="1.2"/><circle cx="395.6" cy="594.8" r="1.2"/><circle cx="413.3" cy="592.3" r="1.2"/><circle cx="417.9" cy="591.5" r="1.2"/><circle cx="419.1" cy="600.1" r="1.2"/><circle cx="400.1" cy="596.8" r="1.2"/><circle cx="403.8" cy="605.9" r="1.2"/><circle cx="431.5" cy="606.1" r="1.2"/><circle cx="434.8" cy="601.5" r="1.2"/><circle cx="409.8" cy="593.8" r="1.2"/><circle cx="424.3" cy="606.5" r="1.2"/><circle cx="403.5" cy="610.3" r="1.2"/><circle cx="403.2" cy="598.4" r="1.2"/><circle cx="414.8" cy="608.1" r="1.2"/><circle cx="398.8" cy="600.2" r="1.2"/><circle cx="406.2" cy="600.0" r="1.2"/><circle cx="412.7" cy="619.8" r="1.2"/><circle cx="409.7" cy="616.0" r="1.2"/><circle cx="412.6" cy="591.3" r="1.2"/><circle cx="435.2" cy="617.7" r="1.2"/><circle cx="412.5" cy="601.2" r="1.2"/><circle cx="407.9" cy="607.2" r="1.2"/><circle cx="417.3" cy="600.0" r="1.2"/><circle cx="396.3" cy="598.8" r="1.2"/><circle cx="402.1" cy="598.0" r="1.2"/><circle cx="396.4" cy="615.7" r="1.2"/><circle cx="418.9" cy="592.8" r="1.2"/><circle cx="414.5" cy="600.5" r="1.2"/><circle cx="405.8" cy="601.7" r="1.2"/><circle cx="422.4" cy="592.5" r="1.2"/><circle cx="402.2" cy="601.5" r="1.2"/><circle cx="420.8" cy="597.2" r="1.2"/><circle cx="411.1" cy="589.0" r="1.2"/><circle cx="411.3" cy="603.7" r="1.2"/><circle cx="404.4" cy="602.6" r="1.2"/><circle cx="405.6" cy="606.4" r="1.2"/><circle cx="426.2" cy="611.0" r="1.2"/><circle cx="428.5" cy="604.0" r="1.2"/><circle cx="405.1" cy="591.5" r="1.2"/><circle cx="410.3" cy="596.8" r="1.2"/><circle cx="408.4" cy="607.9" r="1.2"/><circle cx="387.0" cy="602.8" r="1.2"/><circle cx="404.8" cy="597.7" r="1.2"/><circle cx="407.0" cy="596.2" r="1.2"/><circle cx="419.3" cy="597.9" r="1.2"/><circle cx="410.2" cy="606.6" r="1.2"/><circle cx="415.9" cy="606.8" r="1.2"/><circle cx="403.0" cy="601.3" r="1.2"/><circle cx="422.8" cy="611.2" r="1.2"/><circle cx="395.0" cy="600.8" r="1.2"/><circle cx="401.6" cy="589.6" r="1.2"/><circle cx="431.5" cy="582.3" r="1.2"/><circle cx="416.8" cy="614.2" r="1.2"/><circle cx="409.5" cy="600.9" r="1.2"/><circle cx="411.7" cy="598.2" r="1.2"/><circle cx="420.6" cy="596.7" r="1.2"/><circle cx="417.6" cy="601.4" r="1.2"/><circle cx="394.7" cy="606.6" r="1.2"/><circle cx="390.1" cy="593.5" r="1.2"/><circle cx="400.0" cy="591.4" r="1.2"/><circle cx="396.6" cy="600.4" r="1.2"/><circle cx="402.4" cy="603.9" r="1.2"/><circle cx="406.8" cy="608.9" r="1.2"/><circle cx="395.4" cy="602.6" r="1.2"/><circle cx="412.5" cy="600.9" r="1.2"/><circle cx="414.9" cy="605.6" r="1.2"/><circle cx="404.2" cy="602.4" r="1.2"/><circle cx="401.5" cy="593.1" r="1.2"/><circle cx="416.2" cy="587.0" r="1.2"/><circle cx="401.0" cy="582.8" r="1.2"/><circle cx="417.8" cy="594.2" r="1.2"/><circle cx="397.4" cy="604.2" r="1.2"/><circle cx="423.6" cy="602.5" r="1.2"/><circle cx="412.8" cy="598.2" r="1.2"/><circle cx="400.8" cy="602.5" r="1.2"/><circle cx="378.5" cy="606.8" r="1.2"/><circle cx="411.5" cy="597.6" r="1.2"/><circle cx="390.0" cy="602.5" r="1.2"/><circle cx="412.4" cy="604.3" r="1.2"/><circle cx="434.6" cy="590.4" r="1.2"/><circle cx="396.0" cy="597.1" r="1.2"/><circle cx="397.5" cy="590.2" r="1.2"/><circle cx="400.4" cy="598.1" r="1.2"/><circle cx="390.8" cy="600.4" r="1.2"/><circle cx="412.1" cy="592.7" r="1.2"/><circle cx="417.6" cy="603.9" r="1.2"/><circle cx="390.3" cy="601.2" r="1.2"/><circle cx="391.9" cy="607.4" r="1.2"/><circle cx="415.7" cy="611.1" r="1.2"/><circle cx="394.1" cy="609.3" r="1.2"/><circle cx="413.3" cy="612.9" r="1.2"/><circle cx="426.8" cy="602.5" r="1.2"/><circle cx="399.5" cy="600.3" r="1.2"/><circle cx="406.0" cy="599.2" r="1.2"/><circle cx="338.4" cy="559.3" r="1.2"/><circle cx="396.5" cy="611.0" r="1.2"/><circle cx="412.3" cy="591.2" r="1.2"/><circle cx="405.3" cy="605.6" r="1.2"/><circle cx="419.5" cy="591.4" r="1.2"/><circle cx="406.0" cy="596.9" r="1.2"/><circle cx="426.9" cy="598.8" r="1.2"/><circle cx="424.8" cy="594.4" r="1.2"/><circle cx="416.2" cy="614.5" r="1.2"/><circle cx="411.6" cy="613.9" r="1.2"/><circle cx="421.8" cy="606.6" r="1.2"/><circle cx="411.2" cy="600.4" r="1.2"/><circle cx="394.2" cy="595.5" r="1.2"/><circle cx="421.7" cy="587.8" r="1.2"/><circle cx="400.7" cy="592.3" r="1.2"/><circle cx="398.4" cy="609.9" r="1.2"/><circle cx="412.0" cy="600.7" r="1.2"/><circle cx="419.3" cy="598.6" r="1.2"/><circle cx="429.1" cy="598.0" r="1.2"/><circle cx="403.3" cy="597.3" r="1.2"/><circle cx="397.8" cy="588.7" r="1.2"/><circle cx="389.5" cy="605.9" r="1.2"/><circle cx="389.2" cy="581.7" r="1.2"/><circle cx="390.5" cy="591.8" r="1.2"/><circle cx="410.9" cy="595.0" r="1.2"/><circle cx="426.0" cy="597.5" r="1.2"/><circle cx="392.9" cy="589.6" r="1.2"/><circle cx="449.1" cy="597.4" r="1.2"/><circle cx="425.0" cy="609.6" r="1.2"/><circle cx="425.7" cy="599.6" r="1.2"/><circle cx="417.5" cy="599.5" r="1.2"/><circle cx="405.1" cy="604.7" r="1.2"/><circle cx="384.2" cy="601.4" r="1.2"/><circle cx="397.8" cy="589.2" r="1.2"/><circle cx="404.0" cy="598.6" r="1.2"/><circle cx="416.5" cy="600.2" r="1.2"/><circle cx="428.5" cy="597.1" r="1.2"/><circle cx="416.8" cy="597.2" r="1.2"/><circle cx="418.6" cy="605.9" r="1.2"/><circle cx="425.4" cy="610.3" r="1.2"/><circle cx="407.3" cy="603.0" r="1.2"/><circle cx="413.3" cy="602.7" r="1.2"/><circle cx="404.4" cy="596.7" r="1.2"/><circle cx="412.9" cy="599.5" r="1.2"/><circle cx="408.6" cy="613.4" r="1.2"/><circle cx="383.9" cy="594.7" r="1.2"/><circle cx="409.0" cy="602.1" r="1.2"/><circle cx="408.7" cy="594.2" r="1.2"/><circle cx="395.5" cy="600.1" r="1.2"/><circle cx="421.1" cy="601.9" r="1.2"/><circle cx="400.9" cy="597.7" r="1.2"/><circle cx="424.1" cy="598.9" r="1.2"/><circle cx="413.2" cy="604.6" r="1.2"/><circle cx="416.9" cy="603.0" r="1.2"/><circle cx="402.5" cy="586.0" r="1.2"/><circle cx="417.2" cy="598.3" r="1.2"/><circle cx="411.7" cy="594.8" r="1.2"/><circle cx="416.8" cy="608.0" r="1.2"/><circle cx="385.6" cy="604.7" r="1.2"/><circle cx="421.6" cy="609.7" r="1.2"/><circle cx="407.3" cy="621.7" r="1.2"/><circle cx="395.9" cy="608.3" r="1.2"/><circle cx="431.3" cy="609.7" r="1.2"/><circle cx="420.9" cy="605.0" r="1.2"/><circle cx="401.3" cy="605.6" r="1.2"/><circle cx="412.9" cy="597.1" r="1.2"/><circle cx="412.1" cy="607.2" r="1.2"/><circle cx="396.9" cy="589.6" r="1.2"/><circle cx="394.9" cy="595.2" r="1.2"/><circle cx="419.1" cy="596.7" r="1.2"/><circle cx="411.9" cy="593.7" r="1.2"/><circle cx="393.8" cy="600.1" r="1.2"/><circle cx="401.5" cy="584.9" r="1.2"/><circle cx="406.1" cy="604.0" r="1.2"/><circle cx="386.3" cy="604.4" r="1.2"/><circle cx="408.6" cy="605.6" r="1.2"/><circle cx="402.7" cy="602.1" r="1.2"/><circle cx="412.0" cy="601.7" r="1.2"/><circle cx="410.8" cy="593.3" r="1.2"/><circle cx="409.7" cy="602.3" r="1.2"/><circle cx="418.4" cy="605.2" r="1.2"/><circle cx="407.8" cy="599.7" r="1.2"/><circle cx="413.4" cy="597.0" r="1.2"/><circle cx="422.7" cy="595.7" r="1.2"/><circle cx="410.1" cy="609.1" r="1.2"/><circle cx="413.5" cy="603.1" r="1.2"/><circle cx="449.9" cy="604.7" r="1.2"/><circle cx="418.4" cy="591.8" r="1.2"/><circle cx="396.4" cy="592.6" r="1.2"/><circle cx="388.4" cy="606.8" r="1.2"/><circle cx="409.3" cy="608.9" r="1.2"/><circle cx="402.2" cy="593.7" r="1.2"/><circle cx="417.8" cy="610.8" r="1.2"/><circle cx="404.8" cy="591.9" r="1.2"/><circle cx="430.2" cy="611.9" r="1.2"/><circle cx="406.4" cy="599.0" r="1.2"/><circle cx="400.7" cy="607.7" r="1.2"/><circle cx="396.3" cy="591.0" r="1.2"/><circle cx="407.8" cy="592.4" r="1.2"/><circle cx="421.7" cy="605.9" r="1.2"/><circle cx="380.4" cy="607.0" r="1.2"/><circle cx="403.5" cy="605.2" r="1.2"/><circle cx="400.7" cy="608.5" r="1.2"/><circle cx="418.3" cy="614.2" r="1.2"/><circle cx="392.7" cy="600.3" r="1.2"/><circle cx="392.6" cy="607.7" r="1.2"/><circle cx="438.7" cy="602.9" r="1.2"/><circle cx="427.6" cy="591.3" r="1.2"/><circle cx="399.1" cy="611.2" r="1.2"/><circle cx="418.5" cy="601.7" r="1.2"/><circle cx="382.6" cy="613.6" r="1.2"/><circle cx="394.5" cy="599.0" r="1.2"/><circle cx="390.4" cy="617.3" r="1.2"/><circle cx="403.8" cy="610.7" r="1.2"/><circle cx="396.2" cy="607.8" r="1.2"/><circle cx="421.6" cy="595.4" r="1.2"/><circle cx="415.6" cy="598.7" r="1.2"/><circle cx="401.1" cy="605.9" r="1.2"/><circle cx="423.4" cy="598.4" r="1.2"/><circle cx="388.6" cy="595.2" r="1.2"/><circle cx="415.0" cy="603.1" r="1.2"/><circle cx="382.0" cy="600.9" r="1.2"/><circle cx="395.5" cy="600.8" r="1.2"/><circle cx="413.1" cy="599.2" r="1.2"/><circle cx="397.1" cy="610.3" r="1.2"/><circle cx="429.4" cy="601.2" r="1.2"/><circle cx="409.6" cy="598.2" r="1.2"/><circle cx="408.2" cy="601.0" r="1.2"/><circle cx="403.4" cy="594.4" r="1.2"/><circle cx="391.9" cy="613.2" r="1.2"/><circle cx="437.5" cy="579.9" r="1.2"/><circle cx="406.4" cy="608.5" r="1.2"/><circle cx="388.3" cy="609.2" r="1.2"/><circle cx="424.1" cy="601.6" r="1.2"/><circle cx="416.5" cy="602.0" r="1.2"/><circle cx="399.1" cy="604.7" r="1.2"/><circle cx="397.6" cy="614.6" r="1.2"/><circle cx="412.5" cy="604.9" r="1.2"/><circle cx="418.6" cy="583.6" r="1.2"/><circle cx="422.3" cy="596.2" r="1.2"/><circle cx="411.0" cy="592.8" r="1.2"/><circle cx="431.5" cy="597.4" r="1.2"/><circle cx="397.4" cy="597.0" r="1.2"/><circle cx="424.2" cy="608.7" r="1.2"/><circle cx="437.1" cy="594.6" r="1.2"/><circle cx="414.8" cy="603.1" r="1.2"/><circle cx="428.9" cy="597.1" r="1.2"/><circle cx="413.1" cy="606.3" r="1.2"/><circle cx="389.5" cy="591.8" r="1.2"/><circle cx="402.8" cy="600.8" r="1.2"/><circle cx="389.2" cy="597.7" r="1.2"/><circle cx="417.6" cy="597.1" r="1.2"/><circle cx="413.1" cy="598.1" r="1.2"/><circle cx="408.6" cy="621.9" r="1.2"/><circle cx="397.3" cy="600.1" r="1.2"/><circle cx="421.9" cy="586.3" r="1.2"/><circle cx="418.2" cy="604.9" r="1.2"/><circle cx="416.8" cy="592.2" r="1.2"/><circle cx="394.3" cy="591.8" r="1.2"/><circle cx="383.2" cy="594.2" r="1.2"/><circle cx="395.5" cy="605.6" r="1.2"/><circle cx="405.7" cy="608.5" r="1.2"/><circle cx="392.8" cy="591.2" r="1.2"/><circle cx="382.3" cy="601.1" r="1.2"/><circle cx="413.9" cy="605.1" r="1.2"/><circle cx="404.2" cy="611.3" r="1.2"/><circle cx="414.6" cy="600.7" r="1.2"/><circle cx="399.1" cy="606.7" r="1.2"/><circle cx="400.1" cy="594.5" r="1.2"/><circle cx="407.8" cy="604.3" r="1.2"/><circle cx="431.3" cy="614.2" r="1.2"/><circle cx="403.6" cy="592.8" r="1.2"/><circle cx="414.6" cy="599.8" r="1.2"/><circle cx="406.9" cy="582.9" r="1.2"/><circle cx="412.2" cy="600.9" r="1.2"/><circle cx="408.8" cy="605.2" r="1.2"/><circle cx="421.2" cy="606.4" r="1.2"/><circle cx="392.0" cy="597.8" r="1.2"/><circle cx="407.0" cy="609.4" r="1.2"/><circle cx="419.3" cy="602.2" r="1.2"/><circle cx="405.0" cy="587.3" r="1.2"/><circle cx="408.7" cy="589.0" r="1.2"/><circle cx="378.6" cy="597.3" r="1.2"/><circle cx="400.4" cy="611.0" r="1.2"/><circle cx="399.3" cy="588.5" r="1.2"/><circle cx="416.4" cy="591.1" r="1.2"/><circle cx="421.7" cy="596.6" r="1.2"/><circle cx="384.6" cy="594.2" r="1.2"/><circle cx="393.9" cy="590.7" r="1.2"/><circle cx="403.7" cy="590.0" r="1.2"/><circle cx="415.1" cy="613.0" r="1.2"/><circle cx="427.9" cy="606.3" r="1.2"/><circle cx="414.6" cy="612.9" r="1.2"/><circle cx="432.6" cy="600.9" r="1.2"/><circle cx="410.9" cy="603.0" r="1.2"/><circle cx="430.3" cy="593.6" r="1.2"/><circle cx="395.0" cy="607.6" r="1.2"/><circle cx="424.7" cy="599.6" r="1.2"/><circle cx="417.6" cy="603.3" r="1.2"/><circle cx="410.7" cy="603.8" r="1.2"/><circle cx="413.7" cy="591.2" r="1.2"/><circle cx="392.2" cy="600.6" r="1.2"/><circle cx="414.9" cy="611.1" r="1.2"/><circle cx="398.9" cy="603.8" r="1.2"/><circle cx="417.8" cy="605.2" r="1.2"/><circle cx="403.0" cy="604.4" r="1.2"/><circle cx="410.3" cy="597.6" r="1.2"/><circle cx="398.0" cy="598.7" r="1.2"/><circle cx="419.1" cy="575.5" r="1.2"/><circle cx="412.6" cy="607.8" r="1.2"/><circle cx="446.9" cy="592.0" r="1.2"/><circle cx="443.2" cy="586.5" r="1.2"/><circle cx="387.3" cy="609.2" r="1.2"/><circle cx="399.2" cy="588.7" r="1.2"/><circle cx="417.4" cy="624.3" r="1.2"/><circle cx="411.2" cy="600.2" r="1.2"/><circle cx="404.6" cy="591.6" r="1.2"/><circle cx="407.2" cy="589.7" r="1.2"/><circle cx="423.0" cy="597.2" r="1.2"/><circle cx="407.6" cy="609.6" r="1.2"/><circle cx="434.8" cy="599.3" r="1.2"/><circle cx="407.0" cy="602.1" r="1.2"/><circle cx="409.2" cy="598.8" r="1.2"/><circle cx="405.9" cy="598.6" r="1.2"/><circle cx="396.3" cy="601.3" r="1.2"/><circle cx="409.1" cy="612.0" r="1.2"/><circle cx="408.6" cy="599.9" r="1.2"/><circle cx="404.0" cy="591.5" r="1.2"/><circle cx="395.3" cy="616.9" r="1.2"/><circle cx="405.9" cy="596.3" r="1.2"/><circle cx="406.1" cy="611.9" r="1.2"/><circle cx="399.6" cy="610.4" r="1.2"/><circle cx="395.6" cy="601.0" r="1.2"/><circle cx="404.9" cy="602.8" r="1.2"/><circle cx="410.7" cy="604.0" r="1.2"/><circle cx="425.5" cy="599.8" r="1.2"/><circle cx="377.7" cy="621.5" r="1.2"/><circle cx="400.0" cy="598.3" r="1.2"/><circle cx="409.2" cy="599.1" r="1.2"/><circle cx="395.3" cy="621.8" r="1.2"/><circle cx="414.1" cy="596.5" r="1.2"/><circle cx="396.4" cy="587.6" r="1.2"/><circle cx="412.6" cy="618.3" r="1.2"/><circle cx="398.2" cy="599.9" r="1.2"/><circle cx="384.8" cy="603.4" r="1.2"/><circle cx="400.6" cy="609.6" r="1.2"/><circle cx="409.9" cy="598.2" r="1.2"/><circle cx="413.5" cy="606.8" r="1.2"/><circle cx="416.2" cy="598.0" r="1.2"/><circle cx="433.0" cy="631.7" r="1.2"/><circle cx="395.2" cy="602.5" r="1.2"/><circle cx="404.7" cy="619.4" r="1.2"/><circle cx="426.8" cy="610.9" r="1.2"/><circle cx="398.6" cy="611.5" r="1.2"/><circle cx="423.8" cy="600.8" r="1.2"/><circle cx="424.3" cy="604.9" r="1.2"/><circle cx="398.6" cy="603.5" r="1.2"/><circle cx="415.7" cy="603.3" r="1.2"/><circle cx="414.2" cy="610.8" r="1.2"/><circle cx="392.6" cy="597.1" r="1.2"/><circle cx="393.0" cy="598.7" r="1.2"/><circle cx="400.8" cy="591.4" r="1.2"/><circle cx="428.1" cy="605.4" r="1.2"/><circle cx="389.2" cy="599.5" r="1.2"/><circle cx="407.6" cy="608.4" r="1.2"/><circle cx="406.5" cy="604.2" r="1.2"/><circle cx="413.3" cy="605.6" r="1.2"/><circle cx="441.3" cy="605.2" r="1.2"/><circle cx="396.2" cy="592.5" r="1.2"/><circle cx="412.7" cy="605.4" r="1.2"/><circle cx="427.9" cy="610.4" r="1.2"/><circle cx="400.4" cy="599.3" r="1.2"/><circle cx="400.7" cy="602.3" r="1.2"/><circle cx="390.4" cy="592.3" r="1.2"/><circle cx="418.8" cy="601.5" r="1.2"/><circle cx="412.4" cy="593.9" r="1.2"/><circle cx="403.1" cy="615.4" r="1.2"/><circle cx="406.9" cy="597.9" r="1.2"/><circle cx="414.1" cy="600.7" r="1.2"/><circle cx="413.8" cy="613.5" r="1.2"/><circle cx="424.3" cy="611.1" r="1.2"/><circle cx="439.4" cy="613.8" r="1.2"/><circle cx="406.3" cy="601.3" r="1.2"/><circle cx="412.2" cy="593.9" r="1.2"/><circle cx="401.5" cy="613.8" r="1.2"/><circle cx="429.0" cy="619.9" r="1.2"/><circle cx="433.2" cy="605.5" r="1.2"/><circle cx="397.5" cy="602.3" r="1.2"/><circle cx="414.9" cy="599.5" r="1.2"/><circle cx="400.0" cy="597.0" r="1.2"/><circle cx="445.3" cy="624.7" r="1.2"/><circle cx="392.7" cy="599.9" r="1.2"/><circle cx="392.9" cy="598.0" r="1.2"/><circle cx="418.6" cy="593.2" r="1.2"/><circle cx="399.0" cy="599.2" r="1.2"/><circle cx="415.3" cy="598.7" r="1.2"/><circle cx="422.2" cy="605.0" r="1.2"/><circle cx="414.1" cy="602.9" r="1.2"/><circle cx="442.2" cy="612.2" r="1.2"/><circle cx="412.9" cy="598.5" r="1.2"/><circle cx="403.0" cy="597.9" r="1.2"/><circle cx="425.4" cy="608.8" r="1.2"/><circle cx="409.5" cy="584.7" r="1.2"/><circle cx="406.5" cy="605.9" r="1.2"/><circle cx="418.1" cy="589.8" r="1.2"/><circle cx="403.0" cy="616.3" r="1.2"/><circle cx="385.8" cy="594.8" r="1.2"/><circle cx="384.1" cy="600.4" r="1.2"/><circle cx="421.8" cy="601.5" r="1.2"/><circle cx="406.0" cy="602.9" r="1.2"/><circle cx="397.1" cy="585.2" r="1.2"/><circle cx="417.9" cy="602.5" r="1.2"/><circle cx="394.8" cy="595.7" r="1.2"/><circle cx="414.6" cy="598.7" r="1.2"/><circle cx="404.3" cy="611.2" r="1.2"/><circle cx="388.4" cy="601.0" r="1.2"/><circle cx="406.9" cy="601.8" r="1.2"/><circle cx="405.7" cy="590.0" r="1.2"/><circle cx="427.6" cy="599.4" r="1.2"/><circle cx="412.0" cy="591.8" r="1.2"/><circle cx="399.1" cy="600.4" r="1.2"/><circle cx="383.2" cy="611.4" r="1.2"/><circle cx="406.1" cy="606.0" r="1.2"/><circle cx="400.4" cy="598.2" r="1.2"/><circle cx="423.8" cy="607.7" r="1.2"/><circle cx="385.5" cy="602.1" r="1.2"/><circle cx="385.0" cy="603.6" r="1.2"/><circle cx="411.8" cy="588.7" r="1.2"/><circle cx="411.2" cy="600.2" r="1.2"/><circle cx="414.8" cy="612.5" r="1.2"/><circle cx="440.9" cy="604.5" r="1.2"/><circle cx="418.3" cy="601.7" r="1.2"/><circle cx="423.9" cy="586.8" r="1.2"/><circle cx="434.2" cy="608.2" r="1.2"/><circle cx="419.8" cy="608.5" r="1.2"/><circle cx="405.4" cy="594.4" r="1.2"/><circle cx="416.7" cy="604.0" r="1.2"/><circle cx="407.3" cy="593.6" r="1.2"/><circle cx="416.9" cy="601.1" r="1.2"/><circle cx="424.5" cy="611.2" r="1.2"/><circle cx="419.1" cy="600.7" r="1.2"/><circle cx="440.7" cy="622.1" r="1.2"/><circle cx="416.9" cy="607.3" r="1.2"/><circle cx="377.1" cy="587.4" r="1.2"/><circle cx="380.1" cy="609.4" r="1.2"/><circle cx="419.4" cy="598.2" r="1.2"/><circle cx="415.2" cy="600.1" r="1.2"/><circle cx="401.9" cy="564.7" r="1.2"/><circle cx="406.6" cy="604.2" r="1.2"/><circle cx="399.3" cy="605.1" r="1.2"/><circle cx="402.2" cy="601.1" r="1.2"/><circle cx="398.5" cy="591.3" r="1.2"/><circle cx="406.3" cy="613.5" r="1.2"/><circle cx="418.4" cy="605.9" r="1.2"/><circle cx="375.0" cy="633.1" r="1.2"/><circle cx="385.8" cy="596.9" r="1.2"/><circle cx="423.1" cy="610.0" r="1.2"/><circle cx="435.6" cy="597.8" r="1.2"/><circle cx="396.9" cy="604.5" r="1.2"/><circle cx="401.1" cy="607.9" r="1.2"/><circle cx="407.0" cy="595.0" r="1.2"/><circle cx="432.7" cy="595.0" r="1.2"/><circle cx="413.8" cy="616.1" r="1.2"/><circle cx="417.0" cy="609.7" r="1.2"/><circle cx="472.0" cy="609.1" r="1.2"/><circle cx="418.8" cy="613.0" r="1.2"/><circle cx="439.4" cy="597.6" r="1.2"/><circle cx="419.4" cy="609.2" r="1.2"/><circle cx="389.7" cy="600.1" r="1.2"/><circle cx="408.5" cy="610.9" r="1.2"/><circle cx="395.5" cy="596.6" r="1.2"/><circle cx="423.9" cy="602.5" r="1.2"/><circle cx="390.7" cy="598.2" r="1.2"/><circle cx="411.9" cy="600.4" r="1.2"/><circle cx="375.9" cy="606.4" r="1.2"/><circle cx="423.2" cy="603.7" r="1.2"/><circle cx="420.3" cy="593.5" r="1.2"/><circle cx="399.9" cy="607.2" r="1.2"/><circle cx="396.9" cy="587.8" r="1.2"/><circle cx="414.7" cy="591.6" r="1.2"/><circle cx="408.4" cy="593.4" r="1.2"/><circle cx="403.5" cy="612.6" r="1.2"/><circle cx="435.3" cy="604.0" r="1.2"/><circle cx="412.5" cy="593.3" r="1.2"/><circle cx="413.9" cy="604.3" r="1.2"/><circle cx="393.9" cy="604.0" r="1.2"/><circle cx="413.5" cy="598.4" r="1.2"/><circle cx="417.3" cy="612.8" r="1.2"/><circle cx="397.8" cy="619.7" r="1.2"/><circle cx="411.5" cy="601.0" r="1.2"/><circle cx="406.6" cy="589.3" r="1.2"/><circle cx="409.7" cy="601.6" r="1.2"/><circle cx="401.4" cy="589.9" r="1.2"/><circle cx="388.6" cy="588.1" r="1.2"/><circle cx="393.7" cy="612.9" r="1.2"/><circle cx="419.1" cy="606.2" r="1.2"/><circle cx="425.6" cy="592.5" r="1.2"/><circle cx="418.0" cy="609.1" r="1.2"/><circle cx="401.6" cy="611.3" r="1.2"/><circle cx="402.7" cy="603.2" r="1.2"/><circle cx="400.5" cy="602.6" r="1.2"/><circle cx="412.8" cy="602.7" r="1.2"/><circle cx="413.2" cy="593.4" r="1.2"/><circle cx="418.8" cy="604.8" r="1.2"/><circle cx="406.4" cy="606.9" r="1.2"/><circle cx="428.1" cy="603.5" r="1.2"/><circle cx="406.6" cy="611.5" r="1.2"/><circle cx="424.6" cy="604.4" r="1.2"/><circle cx="396.5" cy="606.3" r="1.2"/><circle cx="409.5" cy="605.1" r="1.2"/><circle cx="381.0" cy="579.5" r="1.2"/><circle cx="411.1" cy="613.4" r="1.2"/><circle cx="419.1" cy="607.1" r="1.2"/><circle cx="410.2" cy="597.4" r="1.2"/><circle cx="418.3" cy="606.7" r="1.2"/><circle cx="410.5" cy="609.3" r="1.2"/><circle cx="411.3" cy="600.3" r="1.2"/><circle cx="418.8" cy="618.7" r="1.2"/><circle cx="415.1" cy="595.8" r="1.2"/><circle cx="437.8" cy="599.9" r="1.2"/><circle cx="401.8" cy="608.2" r="1.2"/><circle cx="388.4" cy="602.5" r="1.2"/><circle cx="408.6" cy="603.2" r="1.2"/><circle cx="397.3" cy="601.7" r="1.2"/><circle cx="403.4" cy="594.5" r="1.2"/><circle cx="418.6" cy="602.0" r="1.2"/><circle cx="421.6" cy="600.5" r="1.2"/><circle cx="409.9" cy="593.4" r="1.2"/><circle cx="392.0" cy="591.1" r="1.2"/><circle cx="387.9" cy="602.0" r="1.2"/><circle cx="402.8" cy="606.2" r="1.2"/><circle cx="405.5" cy="604.4" r="1.2"/><circle cx="410.1" cy="596.9" r="1.2"/><circle cx="419.9" cy="618.5" r="1.2"/><circle cx="406.0" cy="611.9" r="1.2"/><circle cx="396.0" cy="606.7" r="1.2"/><circle cx="379.6" cy="610.8" r="1.2"/><circle cx="387.0" cy="595.1" r="1.2"/><circle cx="411.5" cy="603.0" r="1.2"/><circle cx="404.4" cy="617.2" r="1.2"/><circle cx="401.1" cy="593.6" r="1.2"/><circle cx="407.6" cy="607.7" r="1.2"/><circle cx="418.2" cy="610.0" r="1.2"/><circle cx="407.3" cy="596.2" r="1.2"/><circle cx="417.5" cy="598.0" r="1.2"/><circle cx="409.1" cy="594.5" r="1.2"/><circle cx="405.5" cy="603.2" r="1.2"/><circle cx="395.5" cy="605.2" r="1.2"/><circle cx="404.0" cy="609.0" r="1.2"/><circle cx="445.7" cy="604.4" r="1.2"/><circle cx="408.3" cy="598.2" r="1.2"/><circle cx="419.7" cy="587.1" r="1.2"/><circle cx="381.8" cy="593.5" r="1.2"/><circle cx="401.5" cy="598.7" r="1.2"/><circle cx="422.5" cy="595.6" r="1.2"/><circle cx="414.9" cy="596.5" r="1.2"/><circle cx="346.8" cy="612.3" r="1.2"/><circle cx="395.4" cy="590.9" r="1.2"/><circle cx="412.5" cy="597.6" r="1.2"/><circle cx="403.2" cy="607.2" r="1.2"/><circle cx="423.7" cy="602.5" r="1.2"/><circle cx="411.1" cy="606.2" r="1.2"/><circle cx="395.7" cy="595.5" r="1.2"/><circle cx="410.2" cy="598.5" r="1.2"/><circle cx="401.3" cy="595.4" r="1.2"/><circle cx="425.5" cy="595.1" r="1.2"/><circle cx="421.7" cy="598.7" r="1.2"/><circle cx="390.3" cy="599.1" r="1.2"/><circle cx="426.4" cy="608.8" r="1.2"/><circle cx="388.8" cy="594.3" r="1.2"/><circle cx="416.5" cy="609.5" r="1.2"/><circle cx="400.6" cy="598.2" r="1.2"/><circle cx="417.7" cy="592.3" r="1.2"/><circle cx="410.6" cy="610.3" r="1.2"/><circle cx="412.4" cy="594.0" r="1.2"/><circle cx="403.1" cy="598.8" r="1.2"/><circle cx="400.1" cy="596.2" r="1.2"/><circle cx="421.7" cy="594.4" r="1.2"/><circle cx="417.8" cy="593.2" r="1.2"/><circle cx="421.8" cy="569.8" r="1.2"/><circle cx="406.4" cy="603.2" r="1.2"/><circle cx="384.5" cy="619.0" r="1.2"/><circle cx="431.0" cy="595.3" r="1.2"/><circle cx="407.0" cy="605.2" r="1.2"/><circle cx="407.9" cy="615.6" r="1.2"/><circle cx="413.0" cy="602.8" r="1.2"/><circle cx="416.7" cy="587.9" r="1.2"/><circle cx="388.7" cy="598.4" r="1.2"/><circle cx="401.6" cy="597.3" r="1.2"/><circle cx="436.8" cy="609.8" r="1.2"/><circle cx="400.0" cy="595.4" r="1.2"/><circle cx="418.5" cy="611.2" r="1.2"/><circle cx="423.8" cy="597.4" r="1.2"/><circle cx="395.3" cy="600.7" r="1.2"/><circle cx="409.0" cy="592.5" r="1.2"/><circle cx="417.4" cy="602.1" r="1.2"/><circle cx="407.3" cy="598.6" r="1.2"/><circle cx="405.6" cy="605.8" r="1.2"/><circle cx="411.6" cy="608.4" r="1.2"/><circle cx="411.3" cy="602.5" r="1.2"/><circle cx="406.1" cy="604.7" r="1.2"/><circle cx="404.8" cy="607.2" r="1.2"/><circle cx="395.9" cy="595.1" r="1.2"/><circle cx="411.9" cy="604.7" r="1.2"/><circle cx="408.9" cy="608.8" r="1.2"/><circle cx="390.8" cy="608.0" r="1.2"/><circle cx="415.9" cy="596.6" r="1.2"/><circle cx="426.2" cy="601.3" r="1.2"/><circle cx="404.9" cy="599.9" r="1.2"/><circle cx="409.5" cy="592.9" r="1.2"/><circle cx="412.8" cy="605.8" r="1.2"/><circle cx="397.7" cy="586.6" r="1.2"/><circle cx="393.9" cy="597.5" r="1.2"/><circle cx="412.8" cy="601.1" r="1.2"/><circle cx="406.9" cy="616.1" r="1.2"/><circle cx="404.8" cy="605.7" r="1.2"/><circle cx="410.0" cy="606.4" r="1.2"/><circle cx="429.4" cy="608.2" r="1.2"/><circle cx="376.0" cy="595.8" r="1.2"/><circle cx="401.6" cy="588.3" r="1.2"/><circle cx="425.9" cy="606.7" r="1.2"/><circle cx="409.9" cy="612.9" r="1.2"/><circle cx="393.2" cy="614.7" r="1.2"/><circle cx="410.5" cy="598.9" r="1.2"/><circle cx="402.5" cy="600.1" r="1.2"/><circle cx="424.2" cy="609.2" r="1.2"/><circle cx="418.5" cy="601.3" r="1.2"/><circle cx="401.9" cy="619.0" r="1.2"/><circle cx="406.0" cy="608.7" r="1.2"/><circle cx="388.1" cy="593.9" r="1.2"/><circle cx="398.1" cy="596.2" r="1.2"/><circle cx="405.8" cy="609.2" r="1.2"/><circle cx="420.4" cy="600.1" r="1.2"/><circle cx="403.5" cy="618.2" r="1.2"/><circle cx="422.0" cy="598.5" r="1.2"/><circle cx="424.9" cy="600.4" r="1.2"/><circle cx="425.3" cy="597.6" r="1.2"/><circle cx="423.0" cy="600.3" r="1.2"/><circle cx="399.3" cy="603.3" r="1.2"/><circle cx="420.0" cy="603.4" r="1.2"/><circle cx="400.1" cy="594.3" r="1.2"/><circle cx="415.2" cy="597.5" r="1.2"/><circle cx="395.2" cy="605.2" r="1.2"/><circle cx="388.4" cy="608.8" r="1.2"/><circle cx="408.1" cy="598.9" r="1.2"/><circle cx="396.7" cy="608.3" r="1.2"/><circle cx="420.3" cy="603.5" r="1.2"/><circle cx="424.3" cy="633.8" r="1.2"/><circle cx="407.7" cy="596.5" r="1.2"/><circle cx="411.9" cy="609.7" r="1.2"/><circle cx="419.7" cy="606.6" r="1.2"/><circle cx="424.2" cy="597.2" r="1.2"/><circle cx="403.6" cy="605.2" r="1.2"/><circle cx="438.1" cy="602.7" r="1.2"/><circle cx="395.5" cy="602.5" r="1.2"/><circle cx="414.2" cy="599.1" r="1.2"/><circle cx="374.8" cy="594.1" r="1.2"/><circle cx="403.3" cy="609.1" r="1.2"/><circle cx="402.5" cy="589.7" r="1.2"/><circle cx="415.3" cy="611.8" r="1.2"/><circle cx="394.3" cy="596.5" r="1.2"/><circle cx="407.1" cy="598.2" r="1.2"/><circle cx="407.0" cy="608.5" r="1.2"/><circle cx="387.3" cy="600.9" r="1.2"/><circle cx="415.5" cy="599.0" r="1.2"/><circle cx="411.7" cy="594.4" r="1.2"/><circle cx="404.3" cy="607.7" r="1.2"/><circle cx="411.9" cy="596.9" r="1.2"/><circle cx="434.2" cy="592.9" r="1.2"/><circle cx="411.0" cy="588.0" r="1.2"/><circle cx="369.7" cy="602.2" r="1.2"/><circle cx="401.3" cy="597.3" r="1.2"/><circle cx="400.0" cy="600.7" r="1.2"/><circle cx="379.1" cy="626.5" r="1.2"/><circle cx="402.7" cy="616.7" r="1.2"/><circle cx="422.5" cy="610.3" r="1.2"/><circle cx="403.8" cy="589.8" r="1.2"/><circle cx="419.3" cy="598.7" r="1.2"/><circle cx="426.9" cy="616.0" r="1.2"/><circle cx="389.3" cy="606.7" r="1.2"/><circle cx="406.0" cy="606.3" r="1.2"/><circle cx="400.2" cy="598.6" r="1.2"/><circle cx="407.8" cy="594.3" r="1.2"/><circle cx="416.8" cy="601.5" r="1.2"/><circle cx="411.1" cy="607.2" r="1.2"/><circle cx="393.7" cy="589.3" r="1.2"/><circle cx="416.1" cy="611.6" r="1.2"/><circle cx="428.6" cy="605.7" r="1.2"/><circle cx="419.8" cy="595.3" r="1.2"/><circle cx="412.7" cy="599.6" r="1.2"/><circle cx="403.2" cy="614.4" r="1.2"/><circle cx="416.3" cy="598.3" r="1.2"/><circle cx="400.9" cy="606.7" r="1.2"/><circle cx="398.9" cy="613.0" r="1.2"/><circle cx="408.9" cy="607.8" r="1.2"/><circle cx="394.6" cy="600.5" r="1.2"/><circle cx="416.4" cy="596.6" r="1.2"/><circle cx="389.5" cy="605.7" r="1.2"/><circle cx="418.3" cy="590.2" r="1.2"/><circle cx="390.8" cy="616.9" r="1.2"/><circle cx="405.9" cy="594.1" r="1.2"/><circle cx="402.2" cy="607.7" r="1.2"/><circle cx="409.4" cy="593.4" r="1.2"/><circle cx="415.7" cy="605.6" r="1.2"/><circle cx="410.1" cy="602.3" r="1.2"/><circle cx="390.0" cy="595.8" r="1.2"/><circle cx="409.8" cy="603.0" r="1.2"/><circle cx="386.1" cy="593.9" r="1.2"/><circle cx="412.4" cy="598.1" r="1.2"/><circle cx="403.5" cy="599.7" r="1.2"/><circle cx="430.1" cy="602.8" r="1.2"/><circle cx="400.3" cy="602.0" r="1.2"/><circle cx="422.7" cy="596.2" r="1.2"/><circle cx="401.7" cy="605.6" r="1.2"/><circle cx="439.2" cy="612.8" r="1.2"/><circle cx="408.8" cy="608.2" r="1.2"/><circle cx="412.2" cy="590.1" r="1.2"/><circle cx="399.8" cy="588.2" r="1.2"/><circle cx="425.6" cy="610.0" r="1.2"/><circle cx="426.0" cy="590.0" r="1.2"/><circle cx="383.7" cy="602.0" r="1.2"/><circle cx="414.2" cy="606.4" r="1.2"/><circle cx="399.6" cy="596.4" r="1.2"/><circle cx="409.6" cy="599.1" r="1.2"/><circle cx="419.6" cy="593.6" r="1.2"/><circle cx="399.0" cy="595.8" r="1.2"/><circle cx="399.6" cy="590.9" r="1.2"/><circle cx="395.5" cy="590.0" r="1.2"/><circle cx="421.8" cy="591.5" r="1.2"/><circle cx="430.0" cy="592.1" r="1.2"/><circle cx="404.6" cy="607.3" r="1.2"/><circle cx="415.4" cy="599.0" r="1.2"/><circle cx="418.6" cy="584.7" r="1.2"/><circle cx="407.9" cy="605.8" r="1.2"/><circle cx="417.0" cy="596.2" r="1.2"/><circle cx="398.8" cy="606.7" r="1.2"/><circle cx="405.8" cy="602.4" r="1.2"/><circle cx="404.1" cy="592.7" r="1.2"/><circle cx="423.2" cy="591.5" r="1.2"/><circle cx="410.8" cy="597.4" r="1.2"/><circle cx="435.4" cy="599.3" r="1.2"/><circle cx="404.6" cy="603.4" r="1.2"/><circle cx="417.4" cy="578.2" r="1.2"/><circle cx="430.1" cy="589.6" r="1.2"/><circle cx="422.1" cy="603.8" r="1.2"/><circle cx="397.3" cy="602.3" r="1.2"/><circle cx="410.6" cy="609.0" r="1.2"/><circle cx="423.5" cy="603.0" r="1.2"/><circle cx="404.1" cy="614.0" r="1.2"/><circle cx="429.8" cy="583.7" r="1.2"/><circle cx="372.7" cy="597.9" r="1.2"/><circle cx="397.7" cy="602.4" r="1.2"/><circle cx="429.9" cy="602.3" r="1.2"/><circle cx="379.9" cy="599.5" r="1.2"/><circle cx="421.6" cy="602.7" r="1.2"/><circle cx="399.7" cy="600.3" r="1.2"/><circle cx="415.4" cy="602.7" r="1.2"/><circle cx="415.1" cy="616.3" r="1.2"/><circle cx="424.0" cy="621.9" r="1.2"/><circle cx="388.4" cy="570.9" r="1.2"/><circle cx="412.7" cy="606.1" r="1.2"/><circle cx="417.8" cy="611.3" r="1.2"/><circle cx="406.2" cy="603.5" r="1.2"/><circle cx="408.7" cy="595.9" r="1.2"/><circle cx="404.5" cy="616.5" r="1.2"/><circle cx="412.1" cy="598.9" r="1.2"/><circle cx="421.2" cy="591.1" r="1.2"/><circle cx="411.7" cy="597.4" r="1.2"/><circle cx="409.4" cy="594.0" r="1.2"/><circle cx="414.1" cy="601.4" r="1.2"/><circle cx="412.9" cy="601.0" r="1.2"/><circle cx="393.2" cy="604.7" r="1.2"/><circle cx="413.3" cy="608.0" r="1.2"/><circle cx="416.5" cy="607.5" r="1.2"/><circle cx="405.6" cy="607.0" r="1.2"/><circle cx="418.9" cy="604.1" r="1.2"/><circle cx="384.5" cy="595.1" r="1.2"/><circle cx="420.4" cy="610.7" r="1.2"/><circle cx="394.8" cy="604.8" r="1.2"/><circle cx="417.5" cy="597.0" r="1.2"/><circle cx="397.5" cy="593.6" r="1.2"/><circle cx="412.1" cy="617.4" r="1.2"/><circle cx="420.5" cy="597.1" r="1.2"/><circle cx="413.7" cy="591.7" r="1.2"/><circle cx="399.4" cy="610.5" r="1.2"/><circle cx="391.6" cy="601.8" r="1.2"/><circle cx="393.6" cy="615.0" r="1.2"/><circle cx="421.0" cy="607.0" r="1.2"/><circle cx="406.8" cy="601.7" r="1.2"/><circle cx="417.3" cy="602.3" r="1.2"/><circle cx="411.3" cy="580.2" r="1.2"/><circle cx="410.9" cy="600.9" r="1.2"/><circle cx="405.9" cy="591.8" r="1.2"/><circle cx="417.0" cy="600.9" r="1.2"/><circle cx="395.7" cy="602.8" r="1.2"/><circle cx="429.4" cy="611.1" r="1.2"/><circle cx="396.5" cy="600.9" r="1.2"/><circle cx="382.3" cy="605.8" r="1.2"/><circle cx="416.3" cy="605.1" r="1.2"/><circle cx="397.3" cy="614.4" r="1.2"/><circle cx="426.2" cy="609.8" r="1.2"/><circle cx="394.9" cy="612.8" r="1.2"/><circle cx="388.0" cy="582.1" r="1.2"/><circle cx="397.7" cy="606.4" r="1.2"/><circle cx="411.9" cy="598.0" r="1.2"/><circle cx="401.2" cy="590.4" r="1.2"/><circle cx="414.4" cy="597.3" r="1.2"/><circle cx="397.4" cy="598.4" r="1.2"/><circle cx="382.3" cy="597.8" r="1.2"/><circle cx="413.9" cy="607.7" r="1.2"/><circle cx="397.9" cy="597.0" r="1.2"/><circle cx="427.9" cy="604.8" r="1.2"/><circle cx="394.4" cy="605.9" r="1.2"/><circle cx="395.6" cy="597.7" r="1.2"/><circle cx="415.6" cy="601.0" r="1.2"/><circle cx="425.0" cy="604.8" r="1.2"/><circle cx="421.3" cy="613.2" r="1.2"/><circle cx="416.4" cy="615.7" r="1.2"/><circle cx="403.9" cy="603.7" r="1.2"/><circle cx="404.3" cy="597.5" r="1.2"/><circle cx="404.5" cy="590.7" r="1.2"/><circle cx="409.3" cy="597.6" r="1.2"/><circle cx="401.8" cy="591.9" r="1.2"/><circle cx="394.1" cy="610.3" r="1.2"/><circle cx="458.5" cy="615.5" r="1.2"/><circle cx="407.9" cy="608.4" r="1.2"/><circle cx="403.5" cy="596.7" r="1.2"/><circle cx="407.6" cy="607.1" r="1.2"/><circle cx="393.5" cy="601.2" r="1.2"/><circle cx="408.6" cy="613.7" r="1.2"/><circle cx="405.0" cy="599.6" r="1.2"/><circle cx="389.5" cy="598.4" r="1.2"/><circle cx="396.7" cy="613.0" r="1.2"/><circle cx="405.6" cy="597.8" r="1.2"/><circle cx="416.4" cy="597.6" r="1.2"/><circle cx="388.1" cy="604.2" r="1.2"/><circle cx="402.8" cy="617.0" r="1.2"/><circle cx="421.4" cy="596.4" r="1.2"/><circle cx="421.7" cy="603.7" r="1.2"/><circle cx="422.5" cy="561.2" r="1.2"/><circle cx="430.8" cy="598.7" r="1.2"/><circle cx="401.7" cy="602.2" r="1.2"/><circle cx="387.4" cy="599.6" r="1.2"/><circle cx="386.6" cy="606.8" r="1.2"/><circle cx="398.6" cy="586.9" r="1.2"/><circle cx="403.2" cy="607.4" r="1.2"/><circle cx="399.9" cy="598.5" r="1.2"/><circle cx="405.8" cy="587.5" r="1.2"/><circle cx="412.6" cy="597.9" r="1.2"/><circle cx="397.4" cy="594.2" r="1.2"/><circle cx="391.6" cy="589.4" r="1.2"/><circle cx="392.1" cy="607.5" r="1.2"/><circle cx="387.0" cy="598.0" r="1.2"/><circle cx="424.9" cy="601.9" r="1.2"/><circle cx="424.9" cy="606.1" r="1.2"/><circle cx="433.4" cy="596.2" r="1.2"/><circle cx="383.3" cy="610.2" r="1.2"/><circle cx="403.1" cy="587.5" r="1.2"/><circle cx="406.8" cy="609.0" r="1.2"/><circle cx="397.8" cy="605.5" r="1.2"/><circle cx="389.2" cy="600.5" r="1.2"/><circle cx="421.8" cy="601.3" r="1.2"/><circle cx="410.7" cy="600.2" r="1.2"/><circle cx="414.3" cy="598.1" r="1.2"/><circle cx="422.8" cy="603.7" r="1.2"/><circle cx="416.7" cy="600.8" r="1.2"/><circle cx="397.7" cy="595.6" r="1.2"/><circle cx="443.9" cy="629.4" r="1.2"/><circle cx="412.5" cy="603.2" r="1.2"/><circle cx="415.2" cy="600.4" r="1.2"/><circle cx="420.2" cy="608.4" r="1.2"/><circle cx="407.3" cy="598.8" r="1.2"/><circle cx="410.6" cy="593.1" r="1.2"/><circle cx="395.3" cy="609.2" r="1.2"/><circle cx="393.4" cy="594.7" r="1.2"/><circle cx="378.8" cy="633.6" r="1.2"/><circle cx="332.6" cy="603.4" r="1.2"/><circle cx="392.7" cy="600.3" r="1.2"/><circle cx="400.2" cy="600.5" r="1.2"/><circle cx="401.7" cy="600.8" r="1.2"/><circle cx="415.4" cy="597.0" r="1.2"/><circle cx="432.7" cy="614.3" r="1.2"/><circle cx="413.0" cy="599.7" r="1.2"/><circle cx="397.8" cy="593.8" r="1.2"/><circle cx="398.1" cy="609.9" r="1.2"/><circle cx="411.8" cy="600.4" r="1.2"/><circle cx="419.5" cy="602.3" r="1.2"/><circle cx="430.4" cy="603.1" r="1.2"/><circle cx="405.1" cy="610.5" r="1.2"/><circle cx="402.1" cy="609.2" r="1.2"/><circle cx="424.9" cy="595.7" r="1.2"/><circle cx="389.9" cy="608.6" r="1.2"/><circle cx="405.5" cy="609.2" r="1.2"/><circle cx="378.9" cy="607.8" r="1.2"/><circle cx="404.7" cy="601.3" r="1.2"/><circle cx="421.8" cy="601.6" r="1.2"/><circle cx="397.7" cy="613.0" r="1.2"/><circle cx="417.6" cy="596.1" r="1.2"/><circle cx="420.4" cy="602.6" r="1.2"/><circle cx="443.8" cy="622.2" r="1.2"/><circle cx="413.7" cy="592.8" r="1.2"/><circle cx="421.3" cy="602.1" r="1.2"/><circle cx="413.4" cy="605.1" r="1.2"/><circle cx="397.8" cy="601.7" r="1.2"/><circle cx="414.3" cy="592.0" r="1.2"/><circle cx="400.8" cy="604.0" r="1.2"/><circle cx="419.5" cy="603.4" r="1.2"/><circle cx="388.2" cy="587.8" r="1.2"/><circle cx="419.0" cy="589.1" r="1.2"/><circle cx="419.5" cy="612.2" r="1.2"/><circle cx="389.6" cy="587.1" r="1.2"/><circle cx="413.2" cy="608.9" r="1.2"/><circle cx="405.5" cy="600.1" r="1.2"/><circle cx="399.5" cy="580.7" r="1.2"/><circle cx="443.6" cy="603.4" r="1.2"/><circle cx="429.1" cy="611.7" r="1.2"/><circle cx="387.2" cy="610.4" r="1.2"/><circle cx="401.2" cy="611.8" r="1.2"/><circle cx="405.1" cy="598.2" r="1.2"/><circle cx="406.6" cy="612.0" r="1.2"/><circle cx="413.6" cy="602.2" r="1.2"/><circle cx="398.3" cy="601.1" r="1.2"/><circle cx="418.3" cy="593.5" r="1.2"/><circle cx="396.1" cy="596.1" r="1.2"/><circle cx="393.5" cy="604.6" r="1.2"/><circle cx="410.1" cy="598.3" r="1.2"/><circle cx="399.1" cy="608.9" r="1.2"/><circle cx="376.0" cy="603.5" r="1.2"/><circle cx="410.6" cy="599.7" r="1.2"/><circle cx="407.3" cy="598.7" r="1.2"/><circle cx="407.7" cy="598.0" r="1.2"/><circle cx="393.2" cy="598.4" r="1.2"/><circle cx="406.3" cy="612.8" r="1.2"/><circle cx="398.2" cy="591.7" r="1.2"/><circle cx="315.2" cy="627.3" r="1.2"/><circle cx="343.7" cy="617.7" r="1.2"/><circle cx="354.8" cy="632.1" r="1.2"/><circle cx="501.0" cy="564.0" r="1.2"/><circle cx="470.0" cy="576.0" r="1.2"/><circle cx="455.0" cy="584.0" r="1.2"/><circle cx="482.0" cy="590.0" r="1.2"/><circle cx="447.0" cy="593.0" r="1.2"/></g>
<g fill="#c0103a" fill-opacity="1.0"><circle cx="389.5" cy="603.2" r="1.05"/><circle cx="392.2" cy="596.6" r="1.05"/><circle cx="418.3" cy="586.2" r="1.05"/><circle cx="407.0" cy="619.6" r="1.05"/><circle cx="412.9" cy="592.3" r="1.05"/><circle cx="400.2" cy="623.8" r="1.05"/><circle cx="406.3" cy="624.4" r="1.05"/><circle cx="372.5" cy="592.2" r="1.05"/><circle cx="425.3" cy="601.8" r="1.05"/><circle cx="372.9" cy="596.6" r="1.05"/><circle cx="387.6" cy="599.9" r="1.05"/><circle cx="403.8" cy="583.9" r="1.05"/><circle cx="421.0" cy="597.7" r="1.05"/><circle cx="502.3" cy="623.0" r="1.05"/><circle cx="390.7" cy="601.0" r="1.05"/><circle cx="396.9" cy="611.1" r="1.05"/><circle cx="424.5" cy="578.2" r="1.05"/><circle cx="417.6" cy="599.8" r="1.05"/><circle cx="405.8" cy="597.9" r="1.05"/><circle cx="398.4" cy="604.9" r="1.05"/><circle cx="388.2" cy="590.7" r="1.05"/><circle cx="385.4" cy="598.9" r="1.05"/><circle cx="381.5" cy="574.8" r="1.05"/><circle cx="400.7" cy="597.5" r="1.05"/><circle cx="400.9" cy="596.8" r="1.05"/><circle cx="394.2" cy="613.8" r="1.05"/><circle cx="387.8" cy="592.6" r="1.05"/><circle cx="392.1" cy="590.1" r="1.05"/><circle cx="418.2" cy="593.4" r="1.05"/><circle cx="390.6" cy="610.6" r="1.05"/><circle cx="396.3" cy="593.2" r="1.05"/><circle cx="399.2" cy="603.6" r="1.05"/><circle cx="428.9" cy="599.5" r="1.05"/><circle cx="388.7" cy="596.5" r="1.05"/><circle cx="385.2" cy="590.6" r="1.05"/><circle cx="380.5" cy="603.1" r="1.05"/><circle cx="387.7" cy="589.5" r="1.05"/><circle cx="381.3" cy="593.8" r="1.05"/><circle cx="385.2" cy="576.7" r="1.05"/><circle cx="399.3" cy="573.6" r="1.05"/><circle cx="372.2" cy="599.9" r="1.05"/><circle cx="414.5" cy="606.5" r="1.05"/><circle cx="393.7" cy="607.7" r="1.05"/><circle cx="409.7" cy="587.7" r="1.05"/><circle cx="402.7" cy="575.9" r="1.05"/><circle cx="408.5" cy="602.2" r="1.05"/><circle cx="419.3" cy="596.4" r="1.05"/><circle cx="413.7" cy="617.2" r="1.05"/><circle cx="422.8" cy="595.3" r="1.05"/><circle cx="386.6" cy="588.8" r="1.05"/><circle cx="401.6" cy="591.8" r="1.05"/><circle cx="421.1" cy="596.3" r="1.05"/><circle cx="405.4" cy="589.1" r="1.05"/><circle cx="414.9" cy="598.8" r="1.05"/><circle cx="401.8" cy="583.5" r="1.05"/><circle cx="435.6" cy="597.2" r="1.05"/><circle cx="389.9" cy="583.3" r="1.05"/><circle cx="397.9" cy="595.4" r="1.05"/><circle cx="416.6" cy="597.4" r="1.05"/><circle cx="406.3" cy="585.0" r="1.05"/><circle cx="387.5" cy="599.8" r="1.05"/><circle cx="391.3" cy="599.5" r="1.05"/><circle cx="403.7" cy="607.6" r="1.05"/><circle cx="406.0" cy="613.0" r="1.05"/><circle cx="366.8" cy="606.3" r="1.05"/><circle cx="409.8" cy="599.6" r="1.05"/><circle cx="418.4" cy="598.2" r="1.05"/><circle cx="380.5" cy="588.5" r="1.05"/><circle cx="423.8" cy="589.1" r="1.05"/><circle cx="426.0" cy="584.0" r="1.05"/><circle cx="370.4" cy="604.5" r="1.05"/><circle cx="405.2" cy="601.9" r="1.05"/><circle cx="406.7" cy="576.6" r="1.05"/><circle cx="384.3" cy="599.2" r="1.05"/><circle cx="402.7" cy="602.9" r="1.05"/><circle cx="378.2" cy="585.1" r="1.05"/><circle cx="384.3" cy="593.6" r="1.05"/><circle cx="397.5" cy="587.5" r="1.05"/><circle cx="414.1" cy="591.4" r="1.05"/><circle cx="390.2" cy="597.4" r="1.05"/><circle cx="429.2" cy="578.2" r="1.05"/><circle cx="400.0" cy="601.2" r="1.05"/><circle cx="412.1" cy="587.4" r="1.05"/><circle cx="396.9" cy="591.9" r="1.05"/><circle cx="395.5" cy="600.8" r="1.05"/><circle cx="373.4" cy="604.1" r="1.05"/><circle cx="378.0" cy="600.8" r="1.05"/><circle cx="397.9" cy="594.1" r="1.05"/><circle cx="382.5" cy="624.0" r="1.05"/><circle cx="406.0" cy="602.3" r="1.05"/><circle cx="402.1" cy="602.2" r="1.05"/><circle cx="341.1" cy="577.0" r="1.05"/><circle cx="405.9" cy="601.0" r="1.05"/><circle cx="403.7" cy="610.5" r="1.05"/><circle cx="419.8" cy="605.0" r="1.05"/><circle cx="389.5" cy="590.6" r="1.05"/><circle cx="416.8" cy="608.6" r="1.05"/><circle cx="348.9" cy="599.4" r="1.05"/><circle cx="403.7" cy="602.8" r="1.05"/><circle cx="408.2" cy="595.5" r="1.05"/><circle cx="409.8" cy="595.7" r="1.05"/><circle cx="357.7" cy="586.9" r="1.05"/><circle cx="415.5" cy="607.0" r="1.05"/><circle cx="400.7" cy="592.5" r="1.05"/><circle cx="387.5" cy="599.9" r="1.05"/><circle cx="388.7" cy="596.7" r="1.05"/><circle cx="420.2" cy="600.0" r="1.05"/><circle cx="376.1" cy="597.4" r="1.05"/><circle cx="390.9" cy="590.3" r="1.05"/><circle cx="401.9" cy="603.1" r="1.05"/><circle cx="427.3" cy="610.2" r="1.05"/><circle cx="404.3" cy="611.1" r="1.05"/><circle cx="390.5" cy="591.1" r="1.05"/><circle cx="410.4" cy="594.8" r="1.05"/><circle cx="401.0" cy="595.0" r="1.05"/><circle cx="393.0" cy="575.7" r="1.05"/><circle cx="389.7" cy="598.6" r="1.05"/><circle cx="404.1" cy="593.0" r="1.05"/><circle cx="406.6" cy="585.6" r="1.05"/><circle cx="406.0" cy="594.3" r="1.05"/><circle cx="401.9" cy="578.4" r="1.05"/><circle cx="426.2" cy="586.1" r="1.05"/><circle cx="413.0" cy="602.7" r="1.05"/><circle cx="419.4" cy="580.1" r="1.05"/><circle cx="375.8" cy="588.1" r="1.05"/><circle cx="407.0" cy="581.3" r="1.05"/><circle cx="377.4" cy="615.7" r="1.05"/><circle cx="399.6" cy="585.8" r="1.05"/><circle cx="419.4" cy="599.2" r="1.05"/><circle cx="392.4" cy="595.4" r="1.05"/><circle cx="398.1" cy="601.0" r="1.05"/><circle cx="491.9" cy="612.6" r="1.05"/><circle cx="385.1" cy="613.0" r="1.05"/><circle cx="371.2" cy="592.1" r="1.05"/><circle cx="394.7" cy="603.0" r="1.05"/><circle cx="419.8" cy="579.0" r="1.05"/><circle cx="396.8" cy="586.9" r="1.05"/><circle cx="380.0" cy="583.8" r="1.05"/><circle cx="406.0" cy="604.7" r="1.05"/><circle cx="350.0" cy="630.6" r="1.05"/><circle cx="408.0" cy="604.6" r="1.05"/><circle cx="385.1" cy="596.6" r="1.05"/><circle cx="415.8" cy="576.0" r="1.05"/><circle cx="386.1" cy="617.7" r="1.05"/><circle cx="426.4" cy="594.9" r="1.05"/><circle cx="406.4" cy="601.0" r="1.05"/><circle cx="362.7" cy="583.0" r="1.05"/><circle cx="401.4" cy="594.9" r="1.05"/><circle cx="405.4" cy="608.9" r="1.05"/><circle cx="405.4" cy="592.3" r="1.05"/><circle cx="373.4" cy="596.1" r="1.05"/><circle cx="391.9" cy="587.8" r="1.05"/><circle cx="442.3" cy="597.3" r="1.05"/><circle cx="396.9" cy="597.1" r="1.05"/><circle cx="415.7" cy="588.0" r="1.05"/><circle cx="392.7" cy="589.0" r="1.05"/><circle cx="390.3" cy="582.1" r="1.05"/><circle cx="384.3" cy="607.0" r="1.05"/><circle cx="381.4" cy="613.5" r="1.05"/><circle cx="379.5" cy="607.0" r="1.05"/><circle cx="383.9" cy="585.7" r="1.05"/><circle cx="389.1" cy="601.8" r="1.05"/><circle cx="381.2" cy="586.1" r="1.05"/><circle cx="418.9" cy="590.4" r="1.05"/><circle cx="389.4" cy="600.7" r="1.05"/><circle cx="405.6" cy="587.9" r="1.05"/><circle cx="428.5" cy="605.3" r="1.05"/><circle cx="416.9" cy="594.8" r="1.05"/><circle cx="378.7" cy="595.4" r="1.05"/><circle cx="388.3" cy="585.2" r="1.05"/><circle cx="398.9" cy="593.4" r="1.05"/><circle cx="416.1" cy="607.3" r="1.05"/><circle cx="378.3" cy="602.0" r="1.05"/><circle cx="377.0" cy="616.6" r="1.05"/><circle cx="384.2" cy="588.7" r="1.05"/><circle cx="417.4" cy="602.3" r="1.05"/><circle cx="393.8" cy="616.7" r="1.05"/><circle cx="403.2" cy="600.6" r="1.05"/><circle cx="411.7" cy="611.9" r="1.05"/><circle cx="396.7" cy="609.1" r="1.05"/><circle cx="392.9" cy="603.5" r="1.05"/><circle cx="402.3" cy="591.0" r="1.05"/><circle cx="418.3" cy="612.5" r="1.05"/><circle cx="402.3" cy="608.0" r="1.05"/><circle cx="396.8" cy="596.3" r="1.05"/><circle cx="383.1" cy="572.8" r="1.05"/><circle cx="421.7" cy="610.1" r="1.05"/><circle cx="417.2" cy="590.7" r="1.05"/><circle cx="362.0" cy="558.6" r="1.05"/><circle cx="380.9" cy="586.7" r="1.05"/><circle cx="394.1" cy="598.6" r="1.05"/><circle cx="391.2" cy="595.7" r="1.05"/><circle cx="407.5" cy="604.6" r="1.05"/><circle cx="407.1" cy="603.6" r="1.05"/><circle cx="407.9" cy="574.7" r="1.05"/><circle cx="415.2" cy="590.9" r="1.05"/><circle cx="392.4" cy="607.5" r="1.05"/><circle cx="403.7" cy="593.4" r="1.05"/><circle cx="394.2" cy="588.4" r="1.05"/><circle cx="371.1" cy="605.9" r="1.05"/><circle cx="414.4" cy="592.3" r="1.05"/><circle cx="392.6" cy="575.5" r="1.05"/><circle cx="400.7" cy="595.9" r="1.05"/><circle cx="395.3" cy="600.0" r="1.05"/><circle cx="433.3" cy="590.4" r="1.05"/><circle cx="420.5" cy="594.9" r="1.05"/><circle cx="391.9" cy="587.5" r="1.05"/><circle cx="416.6" cy="607.2" r="1.05"/><circle cx="415.6" cy="588.3" r="1.05"/><circle cx="395.4" cy="582.7" r="1.05"/><circle cx="404.4" cy="600.4" r="1.05"/><circle cx="389.7" cy="584.2" r="1.05"/><circle cx="383.8" cy="592.6" r="1.05"/><circle cx="430.9" cy="607.2" r="1.05"/><circle cx="388.5" cy="620.3" r="1.05"/><circle cx="392.2" cy="592.6" r="1.05"/><circle cx="395.2" cy="592.6" r="1.05"/><circle cx="420.4" cy="583.8" r="1.05"/><circle cx="396.1" cy="580.1" r="1.05"/><circle cx="389.4" cy="599.8" r="1.05"/><circle cx="389.8" cy="611.2" r="1.05"/><circle cx="387.8" cy="581.1" r="1.05"/><circle cx="387.5" cy="597.4" r="1.05"/><circle cx="413.2" cy="583.8" r="1.05"/><circle cx="401.2" cy="582.3" r="1.05"/><circle cx="430.9" cy="591.0" r="1.05"/><circle cx="414.3" cy="592.6" r="1.05"/><circle cx="415.7" cy="594.4" r="1.05"/><circle cx="391.1" cy="593.6" r="1.05"/><circle cx="401.3" cy="588.6" r="1.05"/><circle cx="366.0" cy="577.0" r="1.05"/><circle cx="362.0" cy="587.0" r="1.05"/><circle cx="394.0" cy="563.0" r="1.05"/><circle cx="425.0" cy="562.0" r="1.05"/><circle cx="470.0" cy="558.0" r="1.05"/><circle cx="459.0" cy="572.0" r="1.05"/></g>
<line x1="305.80" y1="599.90" x2="510.50" y2="599.90" stroke="#222" stroke-width="0.9"/>
<line x1="405.60" y1="558.00" x2="405.60" y2="635.20" stroke="#222" stroke-width="0.9"/>
<text x="366.90" y="657.40" font-size="7.8" font-weight="bold" fill="#333" textLength="82.30" lengthAdjust="spacingAndGlyphs">Hb (Log2FC from BL to month 3)</text>
<text x="278.30" y="596.50" font-size="7.7" text-anchor="middle" fill="#333" font-weight="bold" textLength="21.70" lengthAdjust="spacingAndGlyphs" transform="rotate(-90 278.30 596.50)">Hepcidin</text>
<text x="288.00" y="596.50" font-size="7.7" text-anchor="middle" fill="#333" font-weight="bold" textLength="73.00" lengthAdjust="spacingAndGlyphs" transform="rotate(-90 288.00 596.50)">(Log2FC from BL to month 3)</text>
<circle cx="467.50" cy="619.00" r="1.4" fill="#c0103a"/>
<text x="471.70" y="621.16" font-size="6.0" fill="#333">Placebo</text>
<circle cx="467.50" cy="629.00" r="1.3" fill="#fff" stroke="#74bde2" stroke-width="0.8"/>
<text x="471.70" y="631.16" font-size="6.0" fill="#333">Canakinumab</text>
<rect x="0.5" y="0.5" width="519" height="665" fill="none" stroke="#4a4a4a" stroke-width="1"/>
</svg>
</body></html>
